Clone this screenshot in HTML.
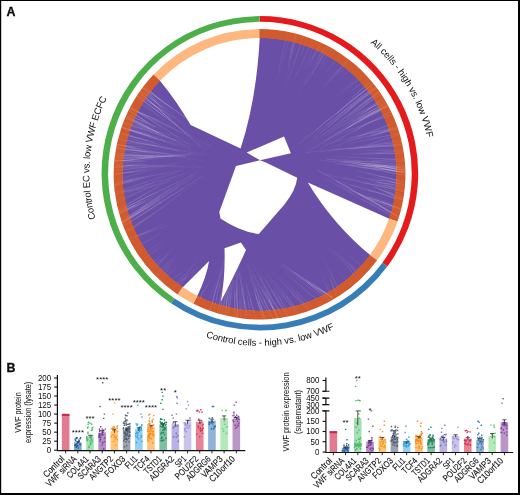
<!DOCTYPE html>
<html><head><meta charset="utf-8"><title>Figure</title>
<style>html,body{margin:0;padding:0;background:#fff}body{width:520px;height:495px;overflow:hidden}svg{display:block;will-change:transform}text{font-family:"Liberation Sans",sans-serif;fill:#0d0d0d}</style>
</head><body>
<svg width="520" height="495" viewBox="0 0 520 495">
<rect x="0" y="0" width="520" height="495" fill="#fff"/>
<g id="circos">
<ellipse cx="259.55" cy="174.3" rx="137.40" ry="136.85" fill="#6950a6"/>
<path d="M159.4 79.9 Q 176.8 101 190.7 125.1 L 240.6 148.4 Q 256.5 100 259.8 37.0 A137.90 137.35 0 0 0 159.4 79.9Z" fill="#fff"/>
<path d="M389.9 219.0 L 307.8 182.5 Q 333 224.5 370.7 255.6 A137.90 137.35 0 0 0 389.9 219.0Z" fill="#fff"/>
<path d="M182.0 287.9 Q 194 276 209.1 260.9 Q 206.5 277 196.9 296.7 A137.90 137.35 0 0 1 182.0 287.9Z" fill="#fff"/>
<path d="M224.5 248.2 L240.9 242.4 L246 250 Q 238 268 220.9 301.5 Q 225.5 275 224.5 248.2Z" fill="#fff"/>
<path d="M236 166 L260 160.2 L265.8 162.6 L297.2 177.7 Q296 190 284.4 204.4 L258.8 234 Q240 231.5 220.5 218.4 L219.3 211.9Z" fill="#fff"/>
<polygon points="246.7,152.6 284.0,136.5 290.9,153.3 260.0,160.2" fill="#fff"/>
<path d="M259.22 29.10A145.90 145.2 0 0 1 397.50 221.57L388.99 218.69A136.90 136.35 0 0 0 259.24 37.95Z" fill="#d05a2d"/>
<path d="M397.50 221.57A145.90 145.2 0 0 1 377.13 260.26L369.88 255.02A136.90 136.35 0 0 0 388.99 218.69Z" fill="#fdb77f"/>
<path d="M377.13 260.26A145.90 145.2 0 0 1 193.31 303.67L197.40 295.79A136.90 136.35 0 0 0 369.88 255.02Z" fill="#d05a2d"/>
<path d="M193.31 303.67A145.90 145.2 0 0 1 177.54 294.39L182.60 287.07A136.90 136.35 0 0 0 197.40 295.79Z" fill="#fdb77f"/>
<path d="M177.54 294.39A145.90 145.2 0 0 1 153.54 74.53L160.08 80.62A136.90 136.35 0 0 0 182.60 287.07Z" fill="#d05a2d"/>
<path d="M153.54 74.53A145.90 145.2 0 0 1 259.22 29.10L259.24 37.95A136.90 136.35 0 0 0 160.08 80.62Z" fill="#fdb77f"/>
<g stroke="#fff" fill="none">
<path d="M114.7 185.6Q118.7 184.6 122.8 183.6" stroke-opacity="0.15" stroke-width="0.5"/>
<path d="M122.8 183.6Q127.8 182.4 132.8 181.2" stroke-opacity="0.32" stroke-width="0.5"/>
<path d="M132.8 181.2Q136.1 180.4 139.4 179.6" stroke-opacity="0.19" stroke-width="0.5"/>
<path d="M139.4 179.6Q142.2 178.9 145.0 178.2" stroke-opacity="0.10" stroke-width="0.5"/>
<path d="M117.2 145.1Q121.4 145.3 125.5 145.6" stroke-opacity="0.13" stroke-width="0.45"/>
<path d="M125.5 145.6Q130.8 145.9 136.2 146.3" stroke-opacity="0.28" stroke-width="0.45"/>
<path d="M136.2 146.3Q139.7 146.5 143.3 146.7" stroke-opacity="0.17" stroke-width="0.45"/>
<path d="M143.3 146.7Q146.3 146.9 149.2 147.1" stroke-opacity="0.08" stroke-width="0.45"/>
<path d="M122.3 221.5Q125.9 219.4 129.4 217.3" stroke-opacity="0.09" stroke-width="0.35"/>
<path d="M129.4 217.3Q134.6 214.4 139.7 211.4" stroke-opacity="0.20" stroke-width="0.35"/>
<path d="M139.7 211.4Q143.1 209.4 146.5 207.5" stroke-opacity="0.12" stroke-width="0.35"/>
<path d="M146.5 207.5Q149.3 205.8 152.2 204.2" stroke-opacity="0.06" stroke-width="0.35"/>
<path d="M117.2 144.6Q121.3 145.5 125.3 146.4" stroke-opacity="0.20" stroke-width="0.5"/>
<path d="M125.3 146.4Q130.0 147.5 134.6 148.5" stroke-opacity="0.45" stroke-width="0.5"/>
<path d="M134.6 148.5Q137.7 149.2 140.8 149.9" stroke-opacity="0.27" stroke-width="0.5"/>
<path d="M140.8 149.9Q143.4 150.4 146.0 151.0" stroke-opacity="0.13" stroke-width="0.5"/>
<path d="M114.3 170.4Q118.4 170.0 122.5 169.6" stroke-opacity="0.17" stroke-width="0.35"/>
<path d="M122.5 169.6Q135.0 168.3 147.4 167.1" stroke-opacity="0.38" stroke-width="0.35"/>
<path d="M147.4 167.1Q155.7 166.2 164.0 165.4" stroke-opacity="0.23" stroke-width="0.35"/>
<path d="M164.0 165.4Q170.9 164.7 177.8 164.0" stroke-opacity="0.11" stroke-width="0.35"/>
<path d="M117.2 145.0Q121.3 145.4 125.5 145.8" stroke-opacity="0.06" stroke-width="0.35"/>
<path d="M125.5 145.8Q137.7 147.0 150.0 148.2" stroke-opacity="0.14" stroke-width="0.35"/>
<path d="M150.0 148.2Q158.1 149.0 166.3 149.8" stroke-opacity="0.09" stroke-width="0.35"/>
<path d="M166.3 149.8Q173.1 150.4 179.9 151.1" stroke-opacity="0.04" stroke-width="0.35"/>
<path d="M118.6 138.8Q122.7 139.6 126.7 140.4" stroke-opacity="0.13" stroke-width="0.65"/>
<path d="M126.7 140.4Q142.2 143.4 157.7 146.3" stroke-opacity="0.30" stroke-width="0.65"/>
<path d="M157.7 146.3Q168.0 148.3 178.4 150.3" stroke-opacity="0.18" stroke-width="0.65"/>
<path d="M178.4 150.3Q187.0 151.9 195.6 153.6" stroke-opacity="0.09" stroke-width="0.65"/>
<path d="M114.5 180.3Q118.5 179.2 122.5 178.1" stroke-opacity="0.07" stroke-width="0.5"/>
<path d="M122.5 178.1Q137.7 173.8 152.9 169.5" stroke-opacity="0.15" stroke-width="0.5"/>
<path d="M152.9 169.5Q163.1 166.7 173.2 163.9" stroke-opacity="0.09" stroke-width="0.5"/>
<path d="M173.2 163.9Q181.7 161.5 190.1 159.1" stroke-opacity="0.05" stroke-width="0.5"/>
<path d="M115.7 153.3Q119.8 153.6 124.0 154.0" stroke-opacity="0.22" stroke-width="0.35"/>
<path d="M124.0 154.0Q132.3 154.7 140.7 155.3" stroke-opacity="0.49" stroke-width="0.35"/>
<path d="M140.7 155.3Q146.3 155.8 151.9 156.2" stroke-opacity="0.30" stroke-width="0.35"/>
<path d="M151.9 156.2Q156.5 156.6 161.1 157.0" stroke-opacity="0.15" stroke-width="0.35"/>
<path d="M115.4 156.0Q119.5 156.0 123.7 155.9" stroke-opacity="0.13" stroke-width="0.35"/>
<path d="M123.7 155.9Q141.8 155.7 159.9 155.5" stroke-opacity="0.28" stroke-width="0.35"/>
<path d="M159.9 155.5Q172.0 155.3 184.1 155.2" stroke-opacity="0.17" stroke-width="0.35"/>
<path d="M184.1 155.2Q194.2 155.1 204.2 155.0" stroke-opacity="0.08" stroke-width="0.35"/>
<path d="M126.3 116.3Q130.0 118.2 133.7 120.1" stroke-opacity="0.17" stroke-width="0.65"/>
<path d="M133.7 120.1Q141.6 124.0 149.4 128.0" stroke-opacity="0.38" stroke-width="0.65"/>
<path d="M149.4 128.0Q154.6 130.6 159.8 133.3" stroke-opacity="0.23" stroke-width="0.65"/>
<path d="M159.8 133.3Q164.2 135.5 168.5 137.7" stroke-opacity="0.12" stroke-width="0.65"/>
<path d="M117.3 144.4Q121.3 145.2 125.4 146.0" stroke-opacity="0.14" stroke-width="0.35"/>
<path d="M125.4 146.0Q143.4 149.5 161.3 153.1" stroke-opacity="0.30" stroke-width="0.35"/>
<path d="M161.3 153.1Q173.3 155.4 185.3 157.8" stroke-opacity="0.18" stroke-width="0.35"/>
<path d="M185.3 157.8Q195.2 159.7 205.2 161.7" stroke-opacity="0.09" stroke-width="0.35"/>
<path d="M123.9 226.0Q127.4 223.8 130.9 221.5" stroke-opacity="0.19" stroke-width="0.5"/>
<path d="M130.9 221.5Q147.0 211.3 163.0 201.1" stroke-opacity="0.43" stroke-width="0.5"/>
<path d="M163.0 201.1Q173.7 194.3 184.4 187.5" stroke-opacity="0.26" stroke-width="0.5"/>
<path d="M184.4 187.5Q193.3 181.8 202.2 176.1" stroke-opacity="0.13" stroke-width="0.5"/>
<path d="M123.1 124.3Q127.1 125.5 131.1 126.6" stroke-opacity="0.11" stroke-width="0.35"/>
<path d="M131.1 126.6Q148.6 131.7 166.1 136.7" stroke-opacity="0.26" stroke-width="0.35"/>
<path d="M166.1 136.7Q177.8 140.0 189.5 143.4" stroke-opacity="0.15" stroke-width="0.35"/>
<path d="M189.5 143.4Q199.2 146.2 209.0 149.0" stroke-opacity="0.08" stroke-width="0.35"/>
<path d="M115.1 159.0Q119.2 158.8 123.4 158.6" stroke-opacity="0.12" stroke-width="0.65"/>
<path d="M123.4 158.6Q138.5 157.8 153.7 157.0" stroke-opacity="0.27" stroke-width="0.65"/>
<path d="M153.7 157.0Q163.8 156.5 173.9 156.0" stroke-opacity="0.16" stroke-width="0.65"/>
<path d="M173.9 156.0Q182.3 155.5 190.7 155.1" stroke-opacity="0.08" stroke-width="0.65"/>
<path d="M123.0 223.3Q126.5 221.0 129.9 218.8" stroke-opacity="0.19" stroke-width="0.5"/>
<path d="M129.9 218.8Q144.4 209.2 159.0 199.7" stroke-opacity="0.43" stroke-width="0.5"/>
<path d="M159.0 199.7Q168.6 193.4 178.3 187.0" stroke-opacity="0.26" stroke-width="0.5"/>
<path d="M178.3 187.0Q186.4 181.7 194.4 176.4" stroke-opacity="0.13" stroke-width="0.5"/>
<path d="M122.7 125.4Q126.6 126.7 130.6 128.1" stroke-opacity="0.09" stroke-width="0.35"/>
<path d="M130.6 128.1Q139.8 131.1 149.1 134.2" stroke-opacity="0.21" stroke-width="0.35"/>
<path d="M149.1 134.2Q155.3 136.3 161.5 138.3" stroke-opacity="0.12" stroke-width="0.35"/>
<path d="M161.5 138.3Q166.7 140.0 171.8 141.8" stroke-opacity="0.06" stroke-width="0.35"/>
<path d="M118.8 209.4Q122.4 207.3 126.0 205.2" stroke-opacity="0.15" stroke-width="0.5"/>
<path d="M126.0 205.2Q135.8 199.5 145.7 193.8" stroke-opacity="0.34" stroke-width="0.5"/>
<path d="M145.7 193.8Q152.2 190.0 158.8 186.2" stroke-opacity="0.21" stroke-width="0.5"/>
<path d="M158.8 186.2Q164.2 183.0 169.7 179.9" stroke-opacity="0.10" stroke-width="0.5"/>
<path d="M115.5 192.5Q119.4 191.1 123.3 189.8" stroke-opacity="0.11" stroke-width="0.45"/>
<path d="M123.3 189.8Q135.9 185.5 148.4 181.3" stroke-opacity="0.24" stroke-width="0.45"/>
<path d="M148.4 181.3Q156.8 178.4 165.1 175.6" stroke-opacity="0.14" stroke-width="0.45"/>
<path d="M165.1 175.6Q172.1 173.2 179.1 170.9" stroke-opacity="0.07" stroke-width="0.45"/>
<path d="M121.9 127.7Q125.8 129.0 129.8 130.3" stroke-opacity="0.06" stroke-width="0.65"/>
<path d="M129.8 130.3Q143.3 134.7 156.9 139.1" stroke-opacity="0.14" stroke-width="0.65"/>
<path d="M156.9 139.1Q165.9 142.0 174.9 144.9" stroke-opacity="0.08" stroke-width="0.65"/>
<path d="M174.9 144.9Q182.5 147.4 190.0 149.8" stroke-opacity="0.04" stroke-width="0.65"/>
<path d="M114.3 173.9Q118.4 173.3 122.5 172.7" stroke-opacity="0.09" stroke-width="0.45"/>
<path d="M122.5 172.7Q132.4 171.1 142.4 169.6" stroke-opacity="0.19" stroke-width="0.45"/>
<path d="M142.4 169.6Q149.0 168.6 155.7 167.5" stroke-opacity="0.12" stroke-width="0.45"/>
<path d="M155.7 167.5Q161.2 166.7 166.8 165.8" stroke-opacity="0.06" stroke-width="0.45"/>
<path d="M114.4 167.0Q118.5 166.7 122.7 166.4" stroke-opacity="0.15" stroke-width="0.35"/>
<path d="M122.7 166.4Q128.3 166.0 133.8 165.6" stroke-opacity="0.34" stroke-width="0.35"/>
<path d="M133.8 165.6Q137.6 165.4 141.3 165.1" stroke-opacity="0.20" stroke-width="0.35"/>
<path d="M141.3 165.1Q144.4 164.9 147.5 164.7" stroke-opacity="0.10" stroke-width="0.35"/>
<path d="M140.2 91.6Q143.6 94.0 147.0 96.3" stroke-opacity="0.12" stroke-width="0.5"/>
<path d="M147.0 96.3Q152.9 100.4 158.9 104.4" stroke-opacity="0.26" stroke-width="0.5"/>
<path d="M158.9 104.4Q162.8 107.2 166.8 109.9" stroke-opacity="0.16" stroke-width="0.5"/>
<path d="M166.8 109.9Q170.0 112.1 173.3 114.4" stroke-opacity="0.08" stroke-width="0.5"/>
<path d="M141.1 90.3Q144.3 92.9 147.6 95.5" stroke-opacity="0.14" stroke-width="0.65"/>
<path d="M147.6 95.5Q152.1 99.2 156.6 102.8" stroke-opacity="0.31" stroke-width="0.65"/>
<path d="M156.6 102.8Q159.6 105.2 162.6 107.7" stroke-opacity="0.18" stroke-width="0.65"/>
<path d="M162.6 107.7Q165.1 109.7 167.6 111.7" stroke-opacity="0.09" stroke-width="0.65"/>
<path d="M114.9 161.4Q119.0 161.0 123.1 160.5" stroke-opacity="0.18" stroke-width="0.65"/>
<path d="M123.1 160.5Q138.4 159.0 153.7 157.4" stroke-opacity="0.40" stroke-width="0.65"/>
<path d="M153.7 157.4Q163.9 156.4 174.1 155.4" stroke-opacity="0.24" stroke-width="0.65"/>
<path d="M174.1 155.4Q182.5 154.5 191.0 153.6" stroke-opacity="0.12" stroke-width="0.65"/>
<path d="M130.3 107.9Q134.1 109.7 137.8 111.5" stroke-opacity="0.14" stroke-width="0.45"/>
<path d="M137.8 111.5Q154.4 119.4 171.0 127.3" stroke-opacity="0.32" stroke-width="0.45"/>
<path d="M171.0 127.3Q182.1 132.6 193.1 137.9" stroke-opacity="0.19" stroke-width="0.45"/>
<path d="M193.1 137.9Q202.3 142.3 211.6 146.7" stroke-opacity="0.10" stroke-width="0.45"/>
<path d="M121.9 127.8Q125.8 129.0 129.8 130.3" stroke-opacity="0.16" stroke-width="0.35"/>
<path d="M129.8 130.3Q137.9 133.0 146.0 135.6" stroke-opacity="0.36" stroke-width="0.35"/>
<path d="M146.0 135.6Q151.4 137.4 156.8 139.2" stroke-opacity="0.22" stroke-width="0.35"/>
<path d="M156.8 139.2Q161.3 140.6 165.8 142.1" stroke-opacity="0.11" stroke-width="0.35"/>
<path d="M122.1 127.1Q126.1 128.3 130.0 129.5" stroke-opacity="0.19" stroke-width="0.5"/>
<path d="M130.0 129.5Q136.3 131.3 142.6 133.2" stroke-opacity="0.41" stroke-width="0.5"/>
<path d="M142.6 133.2Q146.8 134.5 151.0 135.7" stroke-opacity="0.25" stroke-width="0.5"/>
<path d="M151.0 135.7Q154.5 136.7 158.0 137.8" stroke-opacity="0.12" stroke-width="0.5"/>
<path d="M119.4 135.8Q123.4 136.8 127.4 137.9" stroke-opacity="0.09" stroke-width="0.45"/>
<path d="M127.4 137.9Q142.4 141.9 157.3 145.9" stroke-opacity="0.19" stroke-width="0.45"/>
<path d="M157.3 145.9Q167.3 148.6 177.3 151.2" stroke-opacity="0.12" stroke-width="0.45"/>
<path d="M177.3 151.2Q185.6 153.4 193.9 155.7" stroke-opacity="0.06" stroke-width="0.45"/>
<path d="M129.5 109.5Q133.3 111.2 137.1 112.9" stroke-opacity="0.11" stroke-width="0.35"/>
<path d="M137.1 112.9Q147.9 117.7 158.8 122.5" stroke-opacity="0.26" stroke-width="0.35"/>
<path d="M158.8 122.5Q166.0 125.7 173.2 128.8" stroke-opacity="0.15" stroke-width="0.35"/>
<path d="M173.2 128.8Q179.3 131.5 185.3 134.2" stroke-opacity="0.08" stroke-width="0.35"/>
<path d="M144.3 86.1Q147.4 88.8 150.6 91.4" stroke-opacity="0.16" stroke-width="0.5"/>
<path d="M150.6 91.4Q155.9 96.0 161.2 100.5" stroke-opacity="0.35" stroke-width="0.5"/>
<path d="M161.2 100.5Q164.7 103.5 168.2 106.5" stroke-opacity="0.21" stroke-width="0.5"/>
<path d="M168.2 106.5Q171.2 109.1 174.1 111.6" stroke-opacity="0.10" stroke-width="0.5"/>
<path d="M114.4 165.2Q118.6 165.3 122.7 165.4" stroke-opacity="0.12" stroke-width="0.45"/>
<path d="M122.7 165.4Q141.2 165.8 159.6 166.2" stroke-opacity="0.26" stroke-width="0.45"/>
<path d="M159.6 166.2Q171.9 166.5 184.2 166.8" stroke-opacity="0.16" stroke-width="0.45"/>
<path d="M184.2 166.8Q194.5 167.0 204.7 167.2" stroke-opacity="0.08" stroke-width="0.45"/>
<path d="M122.0 220.3Q125.5 218.0 128.9 215.7" stroke-opacity="0.22" stroke-width="0.35"/>
<path d="M128.9 215.7Q138.4 209.5 147.8 203.3" stroke-opacity="0.49" stroke-width="0.35"/>
<path d="M147.8 203.3Q154.1 199.1 160.4 195.0" stroke-opacity="0.30" stroke-width="0.35"/>
<path d="M160.4 195.0Q165.7 191.5 170.9 188.0" stroke-opacity="0.15" stroke-width="0.35"/>
<path d="M114.8 160.4Q119.0 160.5 123.1 160.7" stroke-opacity="0.17" stroke-width="0.65"/>
<path d="M123.1 160.7Q128.5 160.8 133.8 161.0" stroke-opacity="0.37" stroke-width="0.65"/>
<path d="M133.8 161.0Q137.3 161.1 140.9 161.3" stroke-opacity="0.22" stroke-width="0.65"/>
<path d="M140.9 161.3Q143.8 161.3 146.8 161.4" stroke-opacity="0.11" stroke-width="0.65"/>
<path d="M127.2 114.4Q131.0 116.0 134.8 117.7" stroke-opacity="0.19" stroke-width="0.5"/>
<path d="M134.8 117.7Q141.0 120.3 147.2 123.0" stroke-opacity="0.42" stroke-width="0.5"/>
<path d="M147.2 123.0Q151.3 124.8 155.4 126.6" stroke-opacity="0.25" stroke-width="0.5"/>
<path d="M155.4 126.6Q158.9 128.1 162.3 129.6" stroke-opacity="0.13" stroke-width="0.5"/>
<path d="M122.3 221.9Q126.0 219.9 129.6 217.9" stroke-opacity="0.18" stroke-width="0.35"/>
<path d="M129.6 217.9Q139.3 212.6 149.0 207.3" stroke-opacity="0.40" stroke-width="0.35"/>
<path d="M149.0 207.3Q155.4 203.8 161.9 200.2" stroke-opacity="0.24" stroke-width="0.35"/>
<path d="M161.9 200.2Q167.3 197.3 172.6 194.4" stroke-opacity="0.12" stroke-width="0.35"/>
<path d="M123.5 123.1Q127.5 124.3 131.5 125.5" stroke-opacity="0.21" stroke-width="0.45"/>
<path d="M131.5 125.5Q137.6 127.3 143.6 129.1" stroke-opacity="0.46" stroke-width="0.45"/>
<path d="M143.6 129.1Q147.7 130.3 151.7 131.5" stroke-opacity="0.28" stroke-width="0.45"/>
<path d="M151.7 131.5Q155.1 132.5 158.5 133.5" stroke-opacity="0.14" stroke-width="0.45"/>
<path d="M118.3 140.1Q122.4 140.8 126.5 141.5" stroke-opacity="0.08" stroke-width="0.45"/>
<path d="M126.5 141.5Q144.4 144.4 162.4 147.4" stroke-opacity="0.18" stroke-width="0.45"/>
<path d="M162.4 147.4Q174.3 149.3 186.3 151.3" stroke-opacity="0.11" stroke-width="0.45"/>
<path d="M186.3 151.3Q196.2 152.9 206.2 154.6" stroke-opacity="0.05" stroke-width="0.45"/>
<path d="M126.2 231.6Q129.6 229.3 133.0 226.9" stroke-opacity="0.18" stroke-width="0.45"/>
<path d="M133.0 226.9Q137.7 223.8 142.3 220.7" stroke-opacity="0.40" stroke-width="0.45"/>
<path d="M142.3 220.7Q145.4 218.6 148.5 216.5" stroke-opacity="0.24" stroke-width="0.45"/>
<path d="M148.5 216.5Q151.1 214.7 153.6 213.0" stroke-opacity="0.12" stroke-width="0.45"/>
<path d="M114.3 167.6Q118.5 167.5 122.6 167.4" stroke-opacity="0.10" stroke-width="0.5"/>
<path d="M122.6 167.4Q129.9 167.2 137.1 167.0" stroke-opacity="0.22" stroke-width="0.5"/>
<path d="M137.1 167.0Q141.9 166.9 146.7 166.8" stroke-opacity="0.13" stroke-width="0.5"/>
<path d="M146.7 166.8Q150.7 166.6 154.8 166.5" stroke-opacity="0.06" stroke-width="0.5"/>
<path d="M115.2 157.7Q119.3 157.6 123.5 157.5" stroke-opacity="0.20" stroke-width="0.35"/>
<path d="M123.5 157.5Q135.7 157.1 148.0 156.8" stroke-opacity="0.44" stroke-width="0.35"/>
<path d="M148.0 156.8Q156.2 156.6 164.3 156.3" stroke-opacity="0.26" stroke-width="0.35"/>
<path d="M164.3 156.3Q171.1 156.1 177.9 155.9" stroke-opacity="0.13" stroke-width="0.35"/>
<path d="M137.2 96.1Q140.5 98.6 143.8 101.1" stroke-opacity="0.21" stroke-width="0.65"/>
<path d="M143.8 101.1Q154.1 108.8 164.4 116.4" stroke-opacity="0.46" stroke-width="0.65"/>
<path d="M164.4 116.4Q171.3 121.6 178.2 126.7" stroke-opacity="0.28" stroke-width="0.65"/>
<path d="M178.2 126.7Q183.9 130.9 189.6 135.2" stroke-opacity="0.14" stroke-width="0.65"/>
<path d="M130.1 108.5Q133.9 110.1 137.7 111.7" stroke-opacity="0.14" stroke-width="0.65"/>
<path d="M137.7 111.7Q143.5 114.2 149.4 116.7" stroke-opacity="0.31" stroke-width="0.65"/>
<path d="M149.4 116.7Q153.3 118.3 157.2 119.9" stroke-opacity="0.19" stroke-width="0.65"/>
<path d="M157.2 119.9Q160.4 121.3 163.6 122.7" stroke-opacity="0.09" stroke-width="0.65"/>
<path d="M127.0 114.7Q130.7 116.6 134.4 118.4" stroke-opacity="0.08" stroke-width="0.35"/>
<path d="M134.4 118.4Q140.1 121.3 145.7 124.1" stroke-opacity="0.17" stroke-width="0.35"/>
<path d="M145.7 124.1Q149.5 126.0 153.2 127.9" stroke-opacity="0.10" stroke-width="0.35"/>
<path d="M153.2 127.9Q156.4 129.5 159.5 131.0" stroke-opacity="0.05" stroke-width="0.35"/>
<path d="M116.5 148.6Q120.6 149.0 124.7 149.4" stroke-opacity="0.19" stroke-width="0.35"/>
<path d="M124.7 149.4Q137.1 150.6 149.5 151.8" stroke-opacity="0.42" stroke-width="0.35"/>
<path d="M149.5 151.8Q157.7 152.6 166.0 153.3" stroke-opacity="0.25" stroke-width="0.35"/>
<path d="M166.0 153.3Q172.8 154.0 179.7 154.7" stroke-opacity="0.13" stroke-width="0.35"/>
<path d="M134.8 99.9Q138.3 102.2 141.7 104.5" stroke-opacity="0.07" stroke-width="0.65"/>
<path d="M141.7 104.5Q145.6 107.1 149.5 109.6" stroke-opacity="0.16" stroke-width="0.65"/>
<path d="M149.5 109.6Q152.2 111.4 154.8 113.1" stroke-opacity="0.09" stroke-width="0.65"/>
<path d="M154.8 113.1Q156.9 114.5 159.1 116.0" stroke-opacity="0.05" stroke-width="0.65"/>
<path d="M116.7 147.2Q120.8 147.9 124.9 148.6" stroke-opacity="0.16" stroke-width="0.45"/>
<path d="M124.9 148.6Q135.5 150.5 146.0 152.3" stroke-opacity="0.35" stroke-width="0.45"/>
<path d="M146.0 152.3Q153.1 153.5 160.1 154.7" stroke-opacity="0.21" stroke-width="0.45"/>
<path d="M160.1 154.7Q166.0 155.7 171.9 156.7" stroke-opacity="0.11" stroke-width="0.45"/>
<path d="M122.0 127.5Q125.9 128.7 129.9 130.0" stroke-opacity="0.21" stroke-width="0.5"/>
<path d="M129.9 130.0Q140.6 133.3 151.4 136.7" stroke-opacity="0.48" stroke-width="0.5"/>
<path d="M151.4 136.7Q158.5 139.0 165.7 141.2" stroke-opacity="0.29" stroke-width="0.5"/>
<path d="M165.7 141.2Q171.6 143.1 177.6 145.0" stroke-opacity="0.14" stroke-width="0.5"/>
<path d="M137.8 95.1Q141.3 97.3 144.8 99.5" stroke-opacity="0.13" stroke-width="0.65"/>
<path d="M144.8 99.5Q154.0 105.2 163.2 110.9" stroke-opacity="0.28" stroke-width="0.65"/>
<path d="M163.2 110.9Q169.3 114.6 175.5 118.4" stroke-opacity="0.17" stroke-width="0.65"/>
<path d="M175.5 118.4Q180.6 121.6 185.7 124.7" stroke-opacity="0.08" stroke-width="0.65"/>
<path d="M114.5 167.4Q118.6 166.8 122.7 166.2" stroke-opacity="0.17" stroke-width="0.35"/>
<path d="M122.7 166.2Q127.8 165.4 132.9 164.7" stroke-opacity="0.37" stroke-width="0.35"/>
<path d="M132.9 164.7Q136.3 164.2 139.7 163.7" stroke-opacity="0.22" stroke-width="0.35"/>
<path d="M139.7 163.7Q142.5 163.3 145.3 162.8" stroke-opacity="0.11" stroke-width="0.35"/>
<path d="M136.4 97.4Q139.6 100.1 142.8 102.7" stroke-opacity="0.08" stroke-width="0.45"/>
<path d="M142.8 102.7Q153.6 111.6 164.4 120.5" stroke-opacity="0.17" stroke-width="0.45"/>
<path d="M164.4 120.5Q171.6 126.5 178.8 132.4" stroke-opacity="0.10" stroke-width="0.45"/>
<path d="M178.8 132.4Q184.8 137.4 190.8 142.3" stroke-opacity="0.05" stroke-width="0.45"/>
<path d="M143.0 88.0Q145.8 91.0 148.6 94.1" stroke-opacity="0.14" stroke-width="0.45"/>
<path d="M148.6 94.1Q155.5 101.4 162.3 108.8" stroke-opacity="0.31" stroke-width="0.45"/>
<path d="M162.3 108.8Q166.9 113.7 171.4 118.6" stroke-opacity="0.18" stroke-width="0.45"/>
<path d="M171.4 118.6Q175.2 122.7 179.0 126.8" stroke-opacity="0.09" stroke-width="0.45"/>
<path d="M119.2 211.1Q122.8 209.2 126.5 207.3" stroke-opacity="0.09" stroke-width="0.5"/>
<path d="M126.5 207.3Q134.6 203.1 142.8 198.8" stroke-opacity="0.19" stroke-width="0.5"/>
<path d="M142.8 198.8Q148.2 196.0 153.6 193.2" stroke-opacity="0.12" stroke-width="0.5"/>
<path d="M153.6 193.2Q158.1 190.9 162.6 188.5" stroke-opacity="0.06" stroke-width="0.5"/>
<path d="M122.6 221.9Q126.0 219.5 129.4 217.1" stroke-opacity="0.17" stroke-width="0.65"/>
<path d="M129.4 217.1Q138.4 210.9 147.4 204.6" stroke-opacity="0.39" stroke-width="0.65"/>
<path d="M147.4 204.6Q153.4 200.5 159.4 196.3" stroke-opacity="0.23" stroke-width="0.65"/>
<path d="M159.4 196.3Q164.4 192.8 169.4 189.4" stroke-opacity="0.12" stroke-width="0.65"/>
<path d="M114.6 184.4Q118.7 183.5 122.7 182.5" stroke-opacity="0.22" stroke-width="0.45"/>
<path d="M122.7 182.5Q127.6 181.3 132.5 180.2" stroke-opacity="0.49" stroke-width="0.45"/>
<path d="M132.5 180.2Q135.7 179.4 139.0 178.6" stroke-opacity="0.30" stroke-width="0.45"/>
<path d="M139.0 178.6Q141.7 178.0 144.4 177.3" stroke-opacity="0.15" stroke-width="0.45"/>
<path d="M142.9 88.0Q145.9 90.8 149.0 93.6" stroke-opacity="0.19" stroke-width="0.5"/>
<path d="M149.0 93.6Q152.4 96.7 155.8 99.8" stroke-opacity="0.42" stroke-width="0.5"/>
<path d="M155.8 99.8Q158.1 101.9 160.4 104.0" stroke-opacity="0.25" stroke-width="0.5"/>
<path d="M160.4 104.0Q162.3 105.8 164.2 107.5" stroke-opacity="0.12" stroke-width="0.5"/>
<path d="M125.7 117.8Q129.4 119.5 133.2 121.3" stroke-opacity="0.22" stroke-width="0.65"/>
<path d="M133.2 121.3Q146.2 127.2 159.1 133.1" stroke-opacity="0.48" stroke-width="0.65"/>
<path d="M159.1 133.1Q167.7 137.1 176.3 141.1" stroke-opacity="0.29" stroke-width="0.65"/>
<path d="M176.3 141.1Q183.5 144.4 190.7 147.7" stroke-opacity="0.14" stroke-width="0.65"/>
<path d="M119.5 212.6Q123.2 210.8 127.0 209.0" stroke-opacity="0.07" stroke-width="0.35"/>
<path d="M127.0 209.0Q140.1 202.7 153.3 196.4" stroke-opacity="0.15" stroke-width="0.35"/>
<path d="M153.3 196.4Q162.1 192.2 170.9 188.0" stroke-opacity="0.09" stroke-width="0.35"/>
<path d="M170.9 188.0Q178.2 184.5 185.5 181.0" stroke-opacity="0.05" stroke-width="0.35"/>
<path d="M128.9 110.9Q132.4 113.1 135.9 115.4" stroke-opacity="0.06" stroke-width="0.35"/>
<path d="M135.9 115.4Q142.7 119.7 149.6 124.0" stroke-opacity="0.13" stroke-width="0.35"/>
<path d="M149.6 124.0Q154.1 126.9 158.7 129.8" stroke-opacity="0.08" stroke-width="0.35"/>
<path d="M158.7 129.8Q162.5 132.2 166.3 134.6" stroke-opacity="0.04" stroke-width="0.35"/>
<path d="M129.0 110.6Q132.5 112.8 136.0 115.1" stroke-opacity="0.20" stroke-width="0.65"/>
<path d="M136.0 115.1Q140.3 117.8 144.5 120.6" stroke-opacity="0.45" stroke-width="0.65"/>
<path d="M144.5 120.6Q147.3 122.4 150.2 124.2" stroke-opacity="0.27" stroke-width="0.65"/>
<path d="M150.2 124.2Q152.5 125.7 154.9 127.2" stroke-opacity="0.13" stroke-width="0.65"/>
<path d="M126.9 233.2Q130.3 230.7 133.6 228.3" stroke-opacity="0.16" stroke-width="0.35"/>
<path d="M133.6 228.3Q148.0 217.7 162.4 207.2" stroke-opacity="0.36" stroke-width="0.35"/>
<path d="M162.4 207.2Q172.0 200.2 181.6 193.1" stroke-opacity="0.21" stroke-width="0.35"/>
<path d="M181.6 193.1Q189.6 187.3 197.6 181.4" stroke-opacity="0.11" stroke-width="0.35"/>
<path d="M115.7 154.0Q119.9 153.9 124.0 153.7" stroke-opacity="0.06" stroke-width="0.45"/>
<path d="M124.0 153.7Q130.5 153.5 137.0 153.2" stroke-opacity="0.14" stroke-width="0.45"/>
<path d="M137.0 153.2Q141.3 153.1 145.6 152.9" stroke-opacity="0.08" stroke-width="0.45"/>
<path d="M145.6 152.9Q149.2 152.8 152.8 152.6" stroke-opacity="0.04" stroke-width="0.45"/>
<path d="M139.0 93.3Q142.3 95.8 145.6 98.3" stroke-opacity="0.13" stroke-width="0.45"/>
<path d="M145.6 98.3Q151.3 102.7 157.0 107.0" stroke-opacity="0.29" stroke-width="0.45"/>
<path d="M157.0 107.0Q160.8 109.9 164.6 112.8" stroke-opacity="0.17" stroke-width="0.45"/>
<path d="M164.6 112.8Q167.7 115.2 170.9 117.6" stroke-opacity="0.09" stroke-width="0.45"/>
<path d="M115.4 193.3Q119.5 192.4 123.5 191.5" stroke-opacity="0.06" stroke-width="0.45"/>
<path d="M123.5 191.5Q128.0 190.5 132.5 189.5" stroke-opacity="0.13" stroke-width="0.45"/>
<path d="M132.5 189.5Q135.5 188.8 138.5 188.1" stroke-opacity="0.08" stroke-width="0.45"/>
<path d="M138.5 188.1Q141.0 187.5 143.5 187.0" stroke-opacity="0.04" stroke-width="0.45"/>
<path d="M115.4 155.5Q119.6 155.5 123.7 155.6" stroke-opacity="0.17" stroke-width="0.65"/>
<path d="M123.7 155.6Q137.7 155.8 151.7 156.0" stroke-opacity="0.37" stroke-width="0.65"/>
<path d="M151.7 156.0Q161.0 156.1 170.3 156.3" stroke-opacity="0.22" stroke-width="0.65"/>
<path d="M170.3 156.3Q178.1 156.4 185.8 156.5" stroke-opacity="0.11" stroke-width="0.65"/>
<path d="M116.3 149.7Q120.4 150.3 124.5 150.9" stroke-opacity="0.09" stroke-width="0.45"/>
<path d="M124.5 150.9Q133.1 152.3 141.6 153.6" stroke-opacity="0.20" stroke-width="0.45"/>
<path d="M141.6 153.6Q147.4 154.5 153.1 155.4" stroke-opacity="0.12" stroke-width="0.45"/>
<path d="M153.1 155.4Q157.9 156.2 162.6 156.9" stroke-opacity="0.06" stroke-width="0.45"/>
<path d="M114.4 182.3Q118.5 181.6 122.6 180.9" stroke-opacity="0.12" stroke-width="0.5"/>
<path d="M122.6 180.9Q136.0 178.5 149.5 176.1" stroke-opacity="0.27" stroke-width="0.5"/>
<path d="M149.5 176.1Q158.4 174.5 167.4 173.0" stroke-opacity="0.16" stroke-width="0.5"/>
<path d="M167.4 173.0Q174.8 171.6 182.3 170.3" stroke-opacity="0.08" stroke-width="0.5"/>
<path d="M143.1 87.6Q146.5 90.0 149.9 92.4" stroke-opacity="0.20" stroke-width="0.65"/>
<path d="M149.9 92.4Q160.9 100.2 171.9 108.0" stroke-opacity="0.45" stroke-width="0.65"/>
<path d="M171.9 108.0Q179.2 113.1 186.5 118.3" stroke-opacity="0.27" stroke-width="0.65"/>
<path d="M186.5 118.3Q192.6 122.7 198.7 127.0" stroke-opacity="0.14" stroke-width="0.65"/>
<path d="M119.0 210.7Q122.7 208.9 126.5 207.1" stroke-opacity="0.17" stroke-width="0.5"/>
<path d="M126.5 207.1Q141.9 199.6 157.4 192.1" stroke-opacity="0.37" stroke-width="0.5"/>
<path d="M157.4 192.1Q167.7 187.1 178.0 182.1" stroke-opacity="0.22" stroke-width="0.5"/>
<path d="M178.0 182.1Q186.6 178.0 195.2 173.8" stroke-opacity="0.11" stroke-width="0.5"/>
<path d="M117.7 142.8Q121.9 143.1 126.0 143.3" stroke-opacity="0.10" stroke-width="0.35"/>
<path d="M126.0 143.3Q132.9 143.7 139.7 144.1" stroke-opacity="0.22" stroke-width="0.35"/>
<path d="M139.7 144.1Q144.3 144.3 148.8 144.6" stroke-opacity="0.13" stroke-width="0.35"/>
<path d="M148.8 144.6Q152.6 144.8 156.4 145.0" stroke-opacity="0.07" stroke-width="0.35"/>
<path d="M115.6 194.4Q119.6 193.5 123.7 192.5" stroke-opacity="0.10" stroke-width="0.5"/>
<path d="M123.7 192.5Q135.7 189.8 147.6 187.0" stroke-opacity="0.21" stroke-width="0.5"/>
<path d="M147.6 187.0Q155.6 185.1 163.6 183.2" stroke-opacity="0.13" stroke-width="0.5"/>
<path d="M163.6 183.2Q170.3 181.7 176.9 180.1" stroke-opacity="0.06" stroke-width="0.5"/>
<path d="M117.3 202.8Q121.0 201.0 124.7 199.2" stroke-opacity="0.10" stroke-width="0.45"/>
<path d="M124.7 199.2Q129.5 196.8 134.3 194.5" stroke-opacity="0.23" stroke-width="0.45"/>
<path d="M134.3 194.5Q137.5 192.9 140.7 191.4" stroke-opacity="0.14" stroke-width="0.45"/>
<path d="M140.7 191.4Q143.3 190.1 146.0 188.8" stroke-opacity="0.07" stroke-width="0.45"/>
<path d="M116.4 198.1Q120.2 196.4 124.0 194.7" stroke-opacity="0.08" stroke-width="0.35"/>
<path d="M124.0 194.7Q139.0 188.2 154.0 181.7" stroke-opacity="0.17" stroke-width="0.35"/>
<path d="M154.0 181.7Q164.0 177.4 174.0 173.0" stroke-opacity="0.10" stroke-width="0.35"/>
<path d="M174.0 173.0Q182.4 169.4 190.7 165.8" stroke-opacity="0.05" stroke-width="0.35"/>
<path d="M114.2 174.4Q118.3 173.8 122.5 173.3" stroke-opacity="0.22" stroke-width="0.45"/>
<path d="M122.5 173.3Q127.7 172.6 133.0 171.9" stroke-opacity="0.48" stroke-width="0.45"/>
<path d="M133.0 171.9Q136.5 171.4 140.0 170.9" stroke-opacity="0.29" stroke-width="0.45"/>
<path d="M140.0 170.9Q143.0 170.6 145.9 170.2" stroke-opacity="0.15" stroke-width="0.45"/>
<path d="M120.4 132.4Q124.3 133.7 128.3 134.9" stroke-opacity="0.11" stroke-width="0.65"/>
<path d="M128.3 134.9Q137.7 137.9 147.2 140.8" stroke-opacity="0.24" stroke-width="0.65"/>
<path d="M147.2 140.8Q153.5 142.8 159.8 144.8" stroke-opacity="0.15" stroke-width="0.65"/>
<path d="M159.8 144.8Q165.1 146.4 170.4 148.1" stroke-opacity="0.07" stroke-width="0.65"/>
<path d="M119.5 212.6Q123.2 210.8 127.0 209.0" stroke-opacity="0.20" stroke-width="0.65"/>
<path d="M127.0 209.0Q131.2 207.0 135.4 204.9" stroke-opacity="0.44" stroke-width="0.65"/>
<path d="M135.4 204.9Q138.3 203.6 141.1 202.2" stroke-opacity="0.26" stroke-width="0.65"/>
<path d="M141.1 202.2Q143.4 201.0 145.8 199.9" stroke-opacity="0.13" stroke-width="0.65"/>
<path d="M124.0 122.1Q128.0 123.2 132.0 124.3" stroke-opacity="0.14" stroke-width="0.35"/>
<path d="M132.0 124.3Q143.5 127.4 155.0 130.6" stroke-opacity="0.31" stroke-width="0.35"/>
<path d="M155.0 130.6Q162.7 132.7 170.4 134.8" stroke-opacity="0.19" stroke-width="0.35"/>
<path d="M170.4 134.8Q176.8 136.6 183.2 138.4" stroke-opacity="0.09" stroke-width="0.35"/>
<path d="M130.6 107.4Q134.1 109.6 137.7 111.8" stroke-opacity="0.17" stroke-width="0.45"/>
<path d="M137.7 111.8Q149.8 119.4 161.9 127.1" stroke-opacity="0.38" stroke-width="0.45"/>
<path d="M161.9 127.1Q170.0 132.2 178.1 137.2" stroke-opacity="0.23" stroke-width="0.45"/>
<path d="M178.1 137.2Q184.9 141.5 191.6 145.7" stroke-opacity="0.12" stroke-width="0.45"/>
<path d="M122.9 222.9Q126.3 220.5 129.7 218.1" stroke-opacity="0.12" stroke-width="0.65"/>
<path d="M129.7 218.1Q144.9 207.6 160.2 197.1" stroke-opacity="0.26" stroke-width="0.65"/>
<path d="M160.2 197.1Q170.3 190.1 180.5 183.1" stroke-opacity="0.16" stroke-width="0.65"/>
<path d="M180.5 183.1Q189.0 177.2 197.4 171.4" stroke-opacity="0.08" stroke-width="0.65"/>
<path d="M116.6 148.2Q120.7 148.6 124.8 149.1" stroke-opacity="0.14" stroke-width="0.35"/>
<path d="M124.8 149.1Q139.0 150.7 153.2 152.4" stroke-opacity="0.31" stroke-width="0.35"/>
<path d="M153.2 152.4Q162.7 153.5 172.2 154.5" stroke-opacity="0.18" stroke-width="0.35"/>
<path d="M172.2 154.5Q180.1 155.4 188.0 156.3" stroke-opacity="0.09" stroke-width="0.35"/>
<path d="M114.5 163.7Q118.7 163.9 122.8 164.0" stroke-opacity="0.07" stroke-width="0.35"/>
<path d="M122.8 164.0Q140.4 164.5 158.0 165.0" stroke-opacity="0.15" stroke-width="0.35"/>
<path d="M158.0 165.0Q169.7 165.4 181.4 165.7" stroke-opacity="0.09" stroke-width="0.35"/>
<path d="M181.4 165.7Q191.2 166.0 201.0 166.3" stroke-opacity="0.05" stroke-width="0.35"/>
<path d="M125.1 119.1Q128.9 120.9 132.6 122.6" stroke-opacity="0.09" stroke-width="0.45"/>
<path d="M132.6 122.6Q147.9 129.7 163.1 136.9" stroke-opacity="0.21" stroke-width="0.45"/>
<path d="M163.1 136.9Q173.2 141.6 183.4 146.4" stroke-opacity="0.13" stroke-width="0.45"/>
<path d="M183.4 146.4Q191.8 150.3 200.3 154.3" stroke-opacity="0.06" stroke-width="0.45"/>
<path d="M116.7 200.4Q120.6 198.8 124.4 197.3" stroke-opacity="0.07" stroke-width="0.5"/>
<path d="M124.4 197.3Q140.0 191.1 155.6 184.9" stroke-opacity="0.15" stroke-width="0.5"/>
<path d="M155.6 184.9Q166.0 180.7 176.4 176.6" stroke-opacity="0.09" stroke-width="0.5"/>
<path d="M176.4 176.6Q185.1 173.1 193.8 169.7" stroke-opacity="0.04" stroke-width="0.5"/>
<path d="M126.3 116.3Q130.1 118.0 133.9 119.7" stroke-opacity="0.08" stroke-width="0.5"/>
<path d="M133.9 119.7Q138.6 121.9 143.4 124.1" stroke-opacity="0.18" stroke-width="0.5"/>
<path d="M143.4 124.1Q146.5 125.5 149.7 126.9" stroke-opacity="0.11" stroke-width="0.5"/>
<path d="M149.7 126.9Q152.3 128.1 155.0 129.3" stroke-opacity="0.05" stroke-width="0.5"/>
<path d="M120.0 133.7Q124.0 134.7 128.0 135.8" stroke-opacity="0.14" stroke-width="0.65"/>
<path d="M128.0 135.8Q133.9 137.2 139.8 138.7" stroke-opacity="0.30" stroke-width="0.65"/>
<path d="M139.8 138.7Q143.7 139.7 147.6 140.7" stroke-opacity="0.18" stroke-width="0.65"/>
<path d="M147.6 140.7Q150.9 141.5 154.1 142.3" stroke-opacity="0.09" stroke-width="0.65"/>
<path d="M115.6 194.1Q119.6 192.9 123.6 191.7" stroke-opacity="0.10" stroke-width="0.5"/>
<path d="M123.6 191.7Q137.2 187.7 150.9 183.7" stroke-opacity="0.23" stroke-width="0.5"/>
<path d="M150.9 183.7Q160.0 181.0 169.1 178.4" stroke-opacity="0.14" stroke-width="0.5"/>
<path d="M169.1 178.4Q176.7 176.1 184.3 173.9" stroke-opacity="0.07" stroke-width="0.5"/>
<path d="M114.7 163.9Q118.8 163.4 122.9 162.9" stroke-opacity="0.09" stroke-width="0.35"/>
<path d="M122.9 162.9Q140.3 160.6 157.7 158.4" stroke-opacity="0.20" stroke-width="0.35"/>
<path d="M157.7 158.4Q169.3 157.0 180.9 155.5" stroke-opacity="0.12" stroke-width="0.35"/>
<path d="M180.9 155.5Q190.5 154.3 200.2 153.1" stroke-opacity="0.06" stroke-width="0.35"/>
<path d="M139.8 92.3Q142.9 95.1 146.0 97.8" stroke-opacity="0.22" stroke-width="0.65"/>
<path d="M146.0 97.8Q158.2 108.8 170.4 119.7" stroke-opacity="0.49" stroke-width="0.65"/>
<path d="M170.4 119.7Q178.6 127.0 186.7 134.3" stroke-opacity="0.29" stroke-width="0.65"/>
<path d="M186.7 134.3Q193.5 140.4 200.3 146.4" stroke-opacity="0.15" stroke-width="0.65"/>
<path d="M145.4 84.8Q148.2 87.9 151.0 90.9" stroke-opacity="0.07" stroke-width="0.35"/>
<path d="M151.0 90.9Q163.1 104.3 175.3 117.6" stroke-opacity="0.15" stroke-width="0.35"/>
<path d="M175.3 117.6Q183.5 126.6 191.6 135.5" stroke-opacity="0.09" stroke-width="0.35"/>
<path d="M191.6 135.5Q198.3 142.9 205.1 150.3" stroke-opacity="0.04" stroke-width="0.35"/>
<path d="M119.7 213.6Q123.5 211.8 127.3 210.1" stroke-opacity="0.19" stroke-width="0.5"/>
<path d="M127.3 210.1Q132.8 207.6 138.3 205.1" stroke-opacity="0.43" stroke-width="0.5"/>
<path d="M138.3 205.1Q142.0 203.5 145.6 201.8" stroke-opacity="0.26" stroke-width="0.5"/>
<path d="M145.6 201.8Q148.7 200.4 151.7 199.0" stroke-opacity="0.13" stroke-width="0.5"/>
<path d="M129.5 239.0Q133.3 237.4 137.1 235.7" stroke-opacity="0.06" stroke-width="0.35"/>
<path d="M137.1 235.7Q144.7 232.3 152.3 229.0" stroke-opacity="0.13" stroke-width="0.35"/>
<path d="M152.3 229.0Q157.4 226.8 162.4 224.5" stroke-opacity="0.08" stroke-width="0.35"/>
<path d="M162.4 224.5Q166.7 222.7 170.9 220.8" stroke-opacity="0.04" stroke-width="0.35"/>
<path d="M155.3 275.2Q158.3 272.4 161.2 269.5" stroke-opacity="0.07" stroke-width="0.65"/>
<path d="M161.2 269.5Q164.8 266.0 168.4 262.5" stroke-opacity="0.16" stroke-width="0.65"/>
<path d="M168.4 262.5Q170.8 260.2 173.2 257.9" stroke-opacity="0.10" stroke-width="0.65"/>
<path d="M173.2 257.9Q175.2 256.0 177.1 254.0" stroke-opacity="0.05" stroke-width="0.65"/>
<path d="M147.9 267.1Q151.0 264.3 154.1 261.6" stroke-opacity="0.07" stroke-width="0.65"/>
<path d="M154.1 261.6Q155.8 260.1 157.5 258.6" stroke-opacity="0.17" stroke-width="0.65"/>
<path d="M157.5 258.6Q158.7 257.6 159.8 256.7" stroke-opacity="0.10" stroke-width="0.65"/>
<path d="M159.8 256.7Q160.8 255.8 161.7 255.0" stroke-opacity="0.05" stroke-width="0.65"/>
<path d="M157.0 277.0Q159.9 274.0 162.8 271.1" stroke-opacity="0.05" stroke-width="0.5"/>
<path d="M162.8 271.1Q168.6 265.1 174.5 259.2" stroke-opacity="0.10" stroke-width="0.5"/>
<path d="M174.5 259.2Q178.4 255.2 182.3 251.2" stroke-opacity="0.06" stroke-width="0.5"/>
<path d="M182.3 251.2Q185.5 247.9 188.8 244.6" stroke-opacity="0.03" stroke-width="0.5"/>
<path d="M160.0 279.8Q162.5 276.5 165.1 273.3" stroke-opacity="0.09" stroke-width="0.5"/>
<path d="M165.1 273.3Q166.8 271.1 168.5 268.9" stroke-opacity="0.19" stroke-width="0.5"/>
<path d="M168.5 268.9Q169.6 267.4 170.8 266.0" stroke-opacity="0.11" stroke-width="0.5"/>
<path d="M170.8 266.0Q171.7 264.8 172.7 263.6" stroke-opacity="0.06" stroke-width="0.5"/>
<path d="M130.7 241.4Q134.3 239.4 137.9 237.3" stroke-opacity="0.07" stroke-width="0.45"/>
<path d="M137.9 237.3Q143.8 234.0 149.6 230.7" stroke-opacity="0.15" stroke-width="0.45"/>
<path d="M149.6 230.7Q153.5 228.5 157.4 226.3" stroke-opacity="0.09" stroke-width="0.45"/>
<path d="M157.4 226.3Q160.7 224.4 163.9 222.6" stroke-opacity="0.04" stroke-width="0.45"/>
<path d="M152.2 272.0Q155.0 268.8 157.7 265.7" stroke-opacity="0.05" stroke-width="0.65"/>
<path d="M157.7 265.7Q160.0 263.0 162.3 260.4" stroke-opacity="0.11" stroke-width="0.65"/>
<path d="M162.3 260.4Q163.9 258.6 165.4 256.8" stroke-opacity="0.07" stroke-width="0.65"/>
<path d="M165.4 256.8Q166.7 255.3 168.0 253.9" stroke-opacity="0.03" stroke-width="0.65"/>
<path d="M129.3 238.5Q133.2 237.1 137.2 235.8" stroke-opacity="0.09" stroke-width="0.45"/>
<path d="M137.2 235.8Q145.1 233.1 153.1 230.5" stroke-opacity="0.19" stroke-width="0.45"/>
<path d="M153.1 230.5Q158.4 228.7 163.7 226.9" stroke-opacity="0.12" stroke-width="0.45"/>
<path d="M163.7 226.9Q168.2 225.4 172.6 223.9" stroke-opacity="0.06" stroke-width="0.45"/>
<path d="M134.4 248.0Q138.0 246.0 141.7 244.1" stroke-opacity="0.07" stroke-width="0.5"/>
<path d="M141.7 244.1Q146.4 241.6 151.0 239.1" stroke-opacity="0.17" stroke-width="0.5"/>
<path d="M151.0 239.1Q154.1 237.4 157.3 235.7" stroke-opacity="0.10" stroke-width="0.5"/>
<path d="M157.3 235.7Q159.8 234.4 162.4 233.0" stroke-opacity="0.05" stroke-width="0.5"/>
<path d="M142.2 259.8Q145.7 257.5 149.1 255.2" stroke-opacity="0.05" stroke-width="0.5"/>
<path d="M149.1 255.2Q152.0 253.3 154.8 251.5" stroke-opacity="0.12" stroke-width="0.5"/>
<path d="M154.8 251.5Q156.7 250.2 158.6 249.0" stroke-opacity="0.07" stroke-width="0.5"/>
<path d="M158.6 249.0Q160.1 247.9 161.7 246.9" stroke-opacity="0.04" stroke-width="0.5"/>
<path d="M149.3 268.7Q152.6 266.1 155.8 263.6" stroke-opacity="0.07" stroke-width="0.5"/>
<path d="M155.8 263.6Q159.0 261.2 162.2 258.7" stroke-opacity="0.15" stroke-width="0.5"/>
<path d="M162.2 258.7Q164.3 257.1 166.4 255.5" stroke-opacity="0.09" stroke-width="0.5"/>
<path d="M166.4 255.5Q168.2 254.1 170.0 252.8" stroke-opacity="0.05" stroke-width="0.5"/>
<path d="M142.8 260.7Q146.0 258.0 149.2 255.3" stroke-opacity="0.03" stroke-width="0.65"/>
<path d="M149.2 255.3Q154.3 251.1 159.3 246.9" stroke-opacity="0.07" stroke-width="0.65"/>
<path d="M159.3 246.9Q162.7 244.1 166.0 241.2" stroke-opacity="0.04" stroke-width="0.65"/>
<path d="M166.0 241.2Q168.9 238.9 171.7 236.5" stroke-opacity="0.02" stroke-width="0.65"/>
<path d="M140.3 257.2Q143.6 254.7 147.0 252.2" stroke-opacity="0.05" stroke-width="0.45"/>
<path d="M147.0 252.2Q152.8 247.8 158.7 243.3" stroke-opacity="0.12" stroke-width="0.45"/>
<path d="M158.7 243.3Q162.7 240.4 166.6 237.4" stroke-opacity="0.07" stroke-width="0.45"/>
<path d="M166.6 237.4Q169.9 235.0 173.1 232.5" stroke-opacity="0.04" stroke-width="0.45"/>
<path d="M152.5 272.3Q155.2 269.1 157.9 265.9" stroke-opacity="0.05" stroke-width="0.45"/>
<path d="M157.9 265.9Q160.7 262.6 163.6 259.2" stroke-opacity="0.11" stroke-width="0.45"/>
<path d="M163.6 259.2Q165.5 257.0 167.4 254.7" stroke-opacity="0.07" stroke-width="0.45"/>
<path d="M167.4 254.7Q169.0 252.8 170.5 251.0" stroke-opacity="0.03" stroke-width="0.45"/>
<path d="M129.3 238.7Q133.2 237.2 137.1 235.7" stroke-opacity="0.06" stroke-width="0.65"/>
<path d="M137.1 235.7Q141.8 233.8 146.5 232.0" stroke-opacity="0.13" stroke-width="0.65"/>
<path d="M146.5 232.0Q149.6 230.8 152.7 229.5" stroke-opacity="0.08" stroke-width="0.65"/>
<path d="M152.7 229.5Q155.3 228.5 158.0 227.5" stroke-opacity="0.04" stroke-width="0.65"/>
<path d="M150.9 270.5Q153.9 267.7 156.9 264.8" stroke-opacity="0.05" stroke-width="0.45"/>
<path d="M156.9 264.8Q161.3 260.6 165.8 256.4" stroke-opacity="0.11" stroke-width="0.45"/>
<path d="M165.8 256.4Q168.7 253.6 171.7 250.8" stroke-opacity="0.07" stroke-width="0.45"/>
<path d="M171.7 250.8Q174.2 248.4 176.7 246.1" stroke-opacity="0.03" stroke-width="0.45"/>
<path d="M378.9 91.6Q375.5 94.0 372.4 96.7" stroke-opacity="0.13" stroke-width="0.5"/>
<path d="M372.4 96.7Q360.2 104.9 349.1 114.6" stroke-opacity="0.28" stroke-width="0.5"/>
<path d="M349.1 114.6Q341.0 120.1 333.6 126.5" stroke-opacity="0.17" stroke-width="0.5"/>
<path d="M333.6 126.5Q326.8 131.1 320.6 136.4" stroke-opacity="0.09" stroke-width="0.5"/>
<path d="M402.5 199.6Q398.8 197.7 394.9 196.2" stroke-opacity="0.18" stroke-width="0.65"/>
<path d="M394.9 196.2Q390.4 193.9 385.7 192.1" stroke-opacity="0.39" stroke-width="0.65"/>
<path d="M385.7 192.1Q382.8 190.6 379.6 189.4" stroke-opacity="0.23" stroke-width="0.65"/>
<path d="M379.6 189.4Q377.2 188.1 374.6 187.1" stroke-opacity="0.12" stroke-width="0.65"/>
<path d="M398.4 216.4Q395.0 214.1 391.2 212.3" stroke-opacity="0.21" stroke-width="0.65"/>
<path d="M391.2 212.3Q375.2 201.8 358.0 193.3" stroke-opacity="0.47" stroke-width="0.65"/>
<path d="M358.0 193.3Q347.3 186.3 335.8 180.6" stroke-opacity="0.28" stroke-width="0.65"/>
<path d="M335.8 180.6Q326.9 174.8 317.3 170.1" stroke-opacity="0.14" stroke-width="0.65"/>
<path d="M398.4 216.8Q394.8 214.6 391.1 212.8" stroke-opacity="0.14" stroke-width="0.35"/>
<path d="M391.1 212.8Q385.2 209.1 378.9 206.2" stroke-opacity="0.32" stroke-width="0.35"/>
<path d="M378.9 206.2Q375.0 203.7 370.8 201.8" stroke-opacity="0.19" stroke-width="0.35"/>
<path d="M370.8 201.8Q367.5 199.7 364.0 198.1" stroke-opacity="0.10" stroke-width="0.35"/>
<path d="M399.8 212.1Q396.1 210.2 392.2 208.7" stroke-opacity="0.13" stroke-width="0.35"/>
<path d="M392.2 208.7Q377.5 201.1 362.0 195.3" stroke-opacity="0.29" stroke-width="0.35"/>
<path d="M362.0 195.3Q352.2 190.2 341.8 186.3" stroke-opacity="0.18" stroke-width="0.35"/>
<path d="M341.8 186.3Q333.7 182.0 325.0 178.8" stroke-opacity="0.09" stroke-width="0.35"/>
<path d="M371.0 81.3Q367.7 83.8 364.7 86.7" stroke-opacity="0.18" stroke-width="0.45"/>
<path d="M364.7 86.7Q360.6 89.8 357.0 93.3" stroke-opacity="0.39" stroke-width="0.45"/>
<path d="M357.0 93.3Q354.3 95.4 351.8 97.7" stroke-opacity="0.24" stroke-width="0.45"/>
<path d="M351.8 97.7Q349.6 99.4 347.5 101.4" stroke-opacity="0.12" stroke-width="0.45"/>
<path d="M404.7 166.1Q400.5 165.6 396.4 165.6" stroke-opacity="0.07" stroke-width="0.5"/>
<path d="M396.4 165.6Q379.9 163.6 363.4 163.5" stroke-opacity="0.16" stroke-width="0.5"/>
<path d="M363.4 163.5Q352.4 162.2 341.4 162.2" stroke-opacity="0.09" stroke-width="0.5"/>
<path d="M341.4 162.2Q332.2 161.1 323.0 161.1" stroke-opacity="0.05" stroke-width="0.5"/>
<path d="M403.0 151.1Q398.9 151.1 394.7 151.6" stroke-opacity="0.16" stroke-width="0.35"/>
<path d="M394.7 151.6Q386.7 151.5 378.7 152.5" stroke-opacity="0.35" stroke-width="0.35"/>
<path d="M378.7 152.5Q373.4 152.5 368.0 153.1" stroke-opacity="0.21" stroke-width="0.35"/>
<path d="M368.0 153.1Q363.6 153.1 359.1 153.6" stroke-opacity="0.10" stroke-width="0.35"/>
<path d="M403.3 153.2Q399.2 153.0 395.0 153.3" stroke-opacity="0.20" stroke-width="0.45"/>
<path d="M395.0 153.3Q385.5 153.0 376.1 153.8" stroke-opacity="0.44" stroke-width="0.45"/>
<path d="M376.1 153.8Q369.7 153.5 363.4 154.0" stroke-opacity="0.26" stroke-width="0.45"/>
<path d="M363.4 154.0Q358.2 153.9 352.9 154.3" stroke-opacity="0.13" stroke-width="0.45"/>
<path d="M401.7 144.2Q397.5 144.3 393.4 144.9" stroke-opacity="0.17" stroke-width="0.5"/>
<path d="M393.4 144.9Q373.8 145.5 354.3 148.4" stroke-opacity="0.39" stroke-width="0.5"/>
<path d="M354.3 148.4Q341.2 148.7 328.3 150.7" stroke-opacity="0.23" stroke-width="0.5"/>
<path d="M328.3 150.7Q317.3 151.0 306.5 152.6" stroke-opacity="0.12" stroke-width="0.5"/>
<path d="M375.7 87.2Q372.4 89.7 369.3 92.5" stroke-opacity="0.07" stroke-width="0.45"/>
<path d="M369.3 92.5Q357.5 101.2 346.7 111.3" stroke-opacity="0.15" stroke-width="0.45"/>
<path d="M346.7 111.3Q338.8 117.1 331.7 123.8" stroke-opacity="0.09" stroke-width="0.45"/>
<path d="M331.7 123.8Q325.1 128.7 319.1 134.3" stroke-opacity="0.05" stroke-width="0.45"/>
<path d="M404.8 172.5Q400.8 171.6 396.6 171.2" stroke-opacity="0.11" stroke-width="0.65"/>
<path d="M396.6 171.2Q391.7 170.1 386.7 169.6" stroke-opacity="0.25" stroke-width="0.65"/>
<path d="M386.7 169.6Q383.4 168.9 380.0 168.5" stroke-opacity="0.15" stroke-width="0.65"/>
<path d="M380.0 168.5Q377.3 167.9 374.5 167.6" stroke-opacity="0.07" stroke-width="0.65"/>
<path d="M397.3 128.3Q393.2 128.9 389.2 129.9" stroke-opacity="0.20" stroke-width="0.35"/>
<path d="M389.2 129.9Q380.2 131.0 371.3 133.3" stroke-opacity="0.44" stroke-width="0.35"/>
<path d="M371.3 133.3Q365.3 134.1 359.4 135.6" stroke-opacity="0.26" stroke-width="0.35"/>
<path d="M359.4 135.6Q354.4 136.2 349.5 137.5" stroke-opacity="0.13" stroke-width="0.35"/>
<path d="M387.8 106.1Q384.0 107.8 380.5 110.0" stroke-opacity="0.09" stroke-width="0.45"/>
<path d="M380.5 110.0Q364.7 117.3 349.8 126.5" stroke-opacity="0.21" stroke-width="0.45"/>
<path d="M349.8 126.5Q339.3 131.4 329.4 137.5" stroke-opacity="0.12" stroke-width="0.45"/>
<path d="M329.4 137.5Q320.6 141.5 312.3 146.6" stroke-opacity="0.06" stroke-width="0.45"/>
<path d="M391.9 114.4Q388.0 115.7 384.2 117.4" stroke-opacity="0.16" stroke-width="0.45"/>
<path d="M384.2 117.4Q370.5 121.7 357.4 127.6" stroke-opacity="0.35" stroke-width="0.45"/>
<path d="M357.4 127.6Q348.3 130.4 339.6 134.4" stroke-opacity="0.21" stroke-width="0.45"/>
<path d="M339.6 134.4Q332.0 136.8 324.7 140.0" stroke-opacity="0.11" stroke-width="0.45"/>
<path d="M402.0 145.8Q397.9 145.8 393.7 146.2" stroke-opacity="0.21" stroke-width="0.35"/>
<path d="M393.7 146.2Q379.8 146.1 366.0 147.6" stroke-opacity="0.47" stroke-width="0.35"/>
<path d="M366.0 147.6Q356.8 147.5 347.5 148.5" stroke-opacity="0.28" stroke-width="0.35"/>
<path d="M347.5 148.5Q339.8 148.4 332.2 149.2" stroke-opacity="0.14" stroke-width="0.35"/>
<path d="M388.5 107.3Q384.6 108.9 381.0 110.9" stroke-opacity="0.06" stroke-width="0.65"/>
<path d="M381.0 110.9Q376.1 113.0 371.4 115.6" stroke-opacity="0.14" stroke-width="0.65"/>
<path d="M371.4 115.6Q368.1 116.9 365.0 118.7" stroke-opacity="0.09" stroke-width="0.65"/>
<path d="M365.0 118.7Q362.3 119.8 359.7 121.2" stroke-opacity="0.04" stroke-width="0.65"/>
<path d="M400.8 140.3Q396.7 140.6 392.6 141.4" stroke-opacity="0.07" stroke-width="0.45"/>
<path d="M392.6 141.4Q386.4 142.0 380.2 143.2" stroke-opacity="0.15" stroke-width="0.45"/>
<path d="M380.2 143.2Q376.0 143.6 371.9 144.4" stroke-opacity="0.09" stroke-width="0.45"/>
<path d="M371.9 144.4Q368.4 144.7 365.0 145.4" stroke-opacity="0.05" stroke-width="0.45"/>
<path d="M395.3 122.5Q391.4 123.8 387.6 125.6" stroke-opacity="0.06" stroke-width="0.65"/>
<path d="M387.6 125.6Q372.2 130.7 357.4 137.5" stroke-opacity="0.13" stroke-width="0.65"/>
<path d="M357.4 137.5Q347.1 140.9 337.3 145.5" stroke-opacity="0.08" stroke-width="0.65"/>
<path d="M337.3 145.5Q328.7 148.4 320.5 152.2" stroke-opacity="0.04" stroke-width="0.65"/>
<path d="M402.9 197.7Q399.1 196.1 395.1 194.9" stroke-opacity="0.07" stroke-width="0.35"/>
<path d="M395.1 194.9Q389.4 192.4 383.4 190.7" stroke-opacity="0.15" stroke-width="0.35"/>
<path d="M383.4 190.7Q379.6 189.0 375.6 187.9" stroke-opacity="0.09" stroke-width="0.35"/>
<path d="M375.6 187.9Q372.4 186.5 369.1 185.5" stroke-opacity="0.04" stroke-width="0.35"/>
<path d="M396.7 126.4Q392.7 127.2 388.7 128.5" stroke-opacity="0.09" stroke-width="0.5"/>
<path d="M388.7 128.5Q369.3 132.2 350.5 138.1" stroke-opacity="0.20" stroke-width="0.5"/>
<path d="M350.5 138.1Q337.6 140.6 325.1 144.6" stroke-opacity="0.12" stroke-width="0.5"/>
<path d="M325.1 144.6Q314.3 146.7 303.9 150.0" stroke-opacity="0.06" stroke-width="0.5"/>
<path d="M404.4 186.6Q400.3 185.7 396.2 185.2" stroke-opacity="0.17" stroke-width="0.45"/>
<path d="M396.2 185.2Q390.5 183.9 384.6 183.3" stroke-opacity="0.39" stroke-width="0.45"/>
<path d="M384.6 183.3Q380.8 182.4 376.9 182.0" stroke-opacity="0.23" stroke-width="0.45"/>
<path d="M376.9 182.0Q373.7 181.3 370.4 180.9" stroke-opacity="0.12" stroke-width="0.45"/>
<path d="M397.7 129.3Q393.6 130.0 389.7 131.2" stroke-opacity="0.21" stroke-width="0.35"/>
<path d="M389.7 131.2Q379.5 133.0 369.7 135.9" stroke-opacity="0.46" stroke-width="0.35"/>
<path d="M369.7 135.9Q363.0 137.1 356.4 139.0" stroke-opacity="0.28" stroke-width="0.35"/>
<path d="M356.4 139.0Q350.8 140.0 345.4 141.6" stroke-opacity="0.14" stroke-width="0.35"/>
<path d="M404.7 166.6Q400.6 166.2 396.4 166.3" stroke-opacity="0.12" stroke-width="0.65"/>
<path d="M396.4 166.3Q385.6 165.3 374.7 165.6" stroke-opacity="0.26" stroke-width="0.65"/>
<path d="M374.7 165.6Q367.4 164.9 360.2 165.1" stroke-opacity="0.16" stroke-width="0.65"/>
<path d="M360.2 165.1Q354.2 164.6 348.1 164.7" stroke-opacity="0.08" stroke-width="0.65"/>
<path d="M376.4 88.1Q373.0 90.5 369.9 93.3" stroke-opacity="0.21" stroke-width="0.5"/>
<path d="M369.9 93.3Q356.7 102.8 344.6 113.8" stroke-opacity="0.46" stroke-width="0.5"/>
<path d="M344.6 113.8Q335.8 120.1 327.8 127.4" stroke-opacity="0.28" stroke-width="0.5"/>
<path d="M327.8 127.4Q320.4 132.7 313.7 138.8" stroke-opacity="0.14" stroke-width="0.5"/>
<path d="M397.0 127.1Q393.0 128.3 389.2 130.0" stroke-opacity="0.18" stroke-width="0.5"/>
<path d="M389.2 130.0Q384.2 131.4 379.5 133.5" stroke-opacity="0.40" stroke-width="0.5"/>
<path d="M379.5 133.5Q376.2 134.5 373.0 135.9" stroke-opacity="0.24" stroke-width="0.5"/>
<path d="M373.0 135.9Q370.2 136.7 367.6 137.8" stroke-opacity="0.12" stroke-width="0.5"/>
<path d="M400.6 209.3Q396.8 207.6 392.8 206.4" stroke-opacity="0.19" stroke-width="0.35"/>
<path d="M392.8 206.4Q380.1 200.8 366.8 196.7" stroke-opacity="0.43" stroke-width="0.35"/>
<path d="M366.8 196.7Q358.3 192.9 349.5 190.2" stroke-opacity="0.26" stroke-width="0.35"/>
<path d="M349.5 190.2Q342.4 187.0 335.0 184.7" stroke-opacity="0.13" stroke-width="0.35"/>
<path d="M373.2 83.9Q369.8 86.3 366.7 89.1" stroke-opacity="0.22" stroke-width="0.65"/>
<path d="M366.7 89.1Q350.8 100.5 336.3 113.7" stroke-opacity="0.48" stroke-width="0.65"/>
<path d="M336.3 113.7Q325.6 121.3 316.0 130.1" stroke-opacity="0.29" stroke-width="0.65"/>
<path d="M316.0 130.1Q307.1 136.5 299.1 143.8" stroke-opacity="0.14" stroke-width="0.65"/>
<path d="M404.1 189.8Q400.1 188.7 395.9 188.1" stroke-opacity="0.14" stroke-width="0.35"/>
<path d="M395.9 188.1Q389.6 186.4 383.1 185.4" stroke-opacity="0.31" stroke-width="0.35"/>
<path d="M383.1 185.4Q378.8 184.2 374.5 183.6" stroke-opacity="0.19" stroke-width="0.35"/>
<path d="M374.5 183.6Q370.9 182.6 367.3 182.0" stroke-opacity="0.09" stroke-width="0.35"/>
<path d="M403.9 191.7Q399.9 190.5 395.8 189.9" stroke-opacity="0.16" stroke-width="0.5"/>
<path d="M395.8 189.9Q379.7 185.3 363.2 182.7" stroke-opacity="0.35" stroke-width="0.5"/>
<path d="M363.2 182.7Q352.5 179.6 341.5 177.9" stroke-opacity="0.21" stroke-width="0.5"/>
<path d="M341.5 177.9Q332.6 175.3 323.4 173.9" stroke-opacity="0.11" stroke-width="0.5"/>
<path d="M402.6 200.2Q398.6 198.8 394.6 197.9" stroke-opacity="0.14" stroke-width="0.65"/>
<path d="M394.6 197.9Q381.5 193.2 367.9 190.1" stroke-opacity="0.31" stroke-width="0.65"/>
<path d="M367.9 190.1Q359.2 187.0 350.2 184.9" stroke-opacity="0.19" stroke-width="0.65"/>
<path d="M350.2 184.9Q342.9 182.3 335.4 180.6" stroke-opacity="0.09" stroke-width="0.65"/>
<path d="M404.4 185.2Q400.4 183.9 396.4 183.0" stroke-opacity="0.15" stroke-width="0.5"/>
<path d="M396.4 183.0Q391.6 181.4 386.7 180.4" stroke-opacity="0.33" stroke-width="0.5"/>
<path d="M386.7 180.4Q383.5 179.3 380.2 178.6" stroke-opacity="0.20" stroke-width="0.5"/>
<path d="M380.2 178.6Q377.5 177.7 374.8 177.2" stroke-opacity="0.10" stroke-width="0.5"/>
<path d="M384.9 100.9Q381.1 102.5 377.5 104.6" stroke-opacity="0.16" stroke-width="0.45"/>
<path d="M377.5 104.6Q372.3 106.9 367.4 109.7" stroke-opacity="0.36" stroke-width="0.45"/>
<path d="M367.4 109.7Q363.9 111.2 360.7 113.1" stroke-opacity="0.21" stroke-width="0.45"/>
<path d="M360.7 113.1Q357.8 114.3 355.1 115.9" stroke-opacity="0.11" stroke-width="0.45"/>
<path d="M379.3 92.1Q375.8 94.4 372.7 97.1" stroke-opacity="0.09" stroke-width="0.65"/>
<path d="M372.7 97.1Q363.1 103.6 354.3 111.2" stroke-opacity="0.21" stroke-width="0.65"/>
<path d="M354.3 111.2Q347.9 115.5 342.1 120.5" stroke-opacity="0.13" stroke-width="0.65"/>
<path d="M342.1 120.5Q336.8 124.1 331.9 128.3" stroke-opacity="0.06" stroke-width="0.65"/>
<path d="M401.2 142.0Q397.1 142.2 393.0 143.0" stroke-opacity="0.19" stroke-width="0.35"/>
<path d="M393.0 143.0Q380.0 143.7 367.2 146.0" stroke-opacity="0.41" stroke-width="0.35"/>
<path d="M367.2 146.0Q358.5 146.5 350.0 148.0" stroke-opacity="0.25" stroke-width="0.35"/>
<path d="M350.0 148.0Q342.8 148.4 335.7 149.7" stroke-opacity="0.12" stroke-width="0.35"/>
<path d="M404.1 188.9Q400.2 187.6 396.1 186.7" stroke-opacity="0.10" stroke-width="0.5"/>
<path d="M396.1 186.7Q387.8 184.0 379.3 182.2" stroke-opacity="0.22" stroke-width="0.5"/>
<path d="M379.3 182.2Q373.7 180.3 368.0 179.2" stroke-opacity="0.13" stroke-width="0.5"/>
<path d="M368.0 179.2Q363.4 177.6 358.7 176.6" stroke-opacity="0.06" stroke-width="0.5"/>
<path d="M387.6 105.8Q383.8 107.3 380.1 109.3" stroke-opacity="0.21" stroke-width="0.45"/>
<path d="M380.1 109.3Q373.6 111.7 367.5 115.0" stroke-opacity="0.46" stroke-width="0.45"/>
<path d="M367.5 115.0Q363.2 116.7 359.1 118.8" stroke-opacity="0.27" stroke-width="0.45"/>
<path d="M359.1 118.8Q355.5 120.2 352.1 122.0" stroke-opacity="0.14" stroke-width="0.45"/>
<path d="M395.1 121.9Q391.2 123.3 387.5 125.2" stroke-opacity="0.09" stroke-width="0.35"/>
<path d="M387.5 125.2Q375.7 129.4 364.5 135.0" stroke-opacity="0.21" stroke-width="0.35"/>
<path d="M364.5 135.0Q356.7 137.8 349.2 141.6" stroke-opacity="0.12" stroke-width="0.35"/>
<path d="M349.2 141.6Q342.6 143.9 336.4 147.0" stroke-opacity="0.06" stroke-width="0.35"/>
<path d="M404.7 170.7Q400.7 169.7 396.6 169.3" stroke-opacity="0.19" stroke-width="0.65"/>
<path d="M396.6 169.3Q384.9 166.6 372.9 165.3" stroke-opacity="0.43" stroke-width="0.65"/>
<path d="M372.9 165.3Q365.1 163.5 357.2 162.6" stroke-opacity="0.26" stroke-width="0.65"/>
<path d="M357.2 162.6Q350.7 161.1 344.1 160.4" stroke-opacity="0.13" stroke-width="0.65"/>
<path d="M400.8 208.3Q397.0 206.5 393.1 205.1" stroke-opacity="0.09" stroke-width="0.45"/>
<path d="M393.1 205.1Q387.4 202.3 381.4 200.2" stroke-opacity="0.19" stroke-width="0.45"/>
<path d="M381.4 200.2Q377.5 198.3 373.5 196.9" stroke-opacity="0.12" stroke-width="0.45"/>
<path d="M373.5 196.9Q370.3 195.3 367.0 194.1" stroke-opacity="0.06" stroke-width="0.45"/>
<path d="M400.4 210.0Q396.6 208.4 392.6 207.2" stroke-opacity="0.10" stroke-width="0.35"/>
<path d="M392.6 207.2Q382.0 202.6 370.8 199.3" stroke-opacity="0.22" stroke-width="0.35"/>
<path d="M370.8 199.3Q363.7 196.3 356.3 194.1" stroke-opacity="0.13" stroke-width="0.35"/>
<path d="M356.3 194.1Q350.4 191.5 344.2 189.7" stroke-opacity="0.07" stroke-width="0.35"/>
<path d="M380.1 93.3Q376.6 95.5 373.4 98.2" stroke-opacity="0.12" stroke-width="0.45"/>
<path d="M373.4 98.2Q366.7 102.6 360.7 107.7" stroke-opacity="0.26" stroke-width="0.45"/>
<path d="M360.7 107.7Q356.2 110.6 352.2 114.0" stroke-opacity="0.16" stroke-width="0.45"/>
<path d="M352.2 114.0Q348.5 116.4 345.1 119.2" stroke-opacity="0.08" stroke-width="0.45"/>
<path d="M374.9 86.1Q371.5 88.5 368.4 91.3" stroke-opacity="0.21" stroke-width="0.35"/>
<path d="M368.4 91.3Q355.3 100.6 343.5 111.5" stroke-opacity="0.47" stroke-width="0.35"/>
<path d="M343.5 111.5Q334.8 117.7 326.9 124.9" stroke-opacity="0.28" stroke-width="0.35"/>
<path d="M326.9 124.9Q319.6 130.1 313.0 136.1" stroke-opacity="0.14" stroke-width="0.35"/>
<path d="M403.4 194.6Q399.5 193.1 395.5 192.1" stroke-opacity="0.07" stroke-width="0.35"/>
<path d="M395.5 192.1Q382.1 187.1 368.2 183.7" stroke-opacity="0.15" stroke-width="0.35"/>
<path d="M368.2 183.7Q359.3 180.3 350.0 178.1" stroke-opacity="0.09" stroke-width="0.35"/>
<path d="M350.0 178.1Q342.6 175.3 334.8 173.4" stroke-opacity="0.04" stroke-width="0.35"/>
<path d="M403.7 191.6Q399.9 190.0 395.9 188.9" stroke-opacity="0.12" stroke-width="0.45"/>
<path d="M395.9 188.9Q390.2 186.6 384.3 184.9" stroke-opacity="0.27" stroke-width="0.45"/>
<path d="M384.3 184.9Q380.6 183.4 376.6 182.3" stroke-opacity="0.16" stroke-width="0.45"/>
<path d="M376.6 182.3Q373.5 181.0 370.2 180.1" stroke-opacity="0.08" stroke-width="0.45"/>
<path d="M404.7 168.3Q400.6 167.6 396.5 167.3" stroke-opacity="0.12" stroke-width="0.5"/>
<path d="M396.5 167.3Q381.2 164.6 365.8 163.7" stroke-opacity="0.28" stroke-width="0.5"/>
<path d="M365.8 163.7Q355.6 161.9 345.3 161.3" stroke-opacity="0.17" stroke-width="0.5"/>
<path d="M345.3 161.3Q336.8 159.8 328.3 159.3" stroke-opacity="0.08" stroke-width="0.5"/>
<path d="M404.8 172.7Q400.7 171.8 396.6 171.3" stroke-opacity="0.21" stroke-width="0.65"/>
<path d="M396.6 171.3Q380.8 167.5 364.6 165.6" stroke-opacity="0.46" stroke-width="0.65"/>
<path d="M364.6 165.6Q354.1 163.0 343.3 161.8" stroke-opacity="0.27" stroke-width="0.65"/>
<path d="M343.3 161.8Q334.5 159.6 325.6 158.6" stroke-opacity="0.14" stroke-width="0.65"/>
<path d="M399.3 134.4Q395.3 135.5 391.4 137.0" stroke-opacity="0.09" stroke-width="0.65"/>
<path d="M391.4 137.0Q381.5 139.7 372.0 143.5" stroke-opacity="0.19" stroke-width="0.65"/>
<path d="M372.0 143.5Q365.4 145.2 359.1 147.8" stroke-opacity="0.12" stroke-width="0.65"/>
<path d="M359.1 147.8Q353.6 149.2 348.3 151.3" stroke-opacity="0.06" stroke-width="0.65"/>
<path d="M387.7 105.8Q383.9 107.6 380.4 109.8" stroke-opacity="0.19" stroke-width="0.65"/>
<path d="M380.4 109.8Q370.3 114.6 360.8 120.6" stroke-opacity="0.43" stroke-width="0.65"/>
<path d="M360.8 120.6Q354.1 123.8 347.8 127.8" stroke-opacity="0.26" stroke-width="0.65"/>
<path d="M347.8 127.8Q342.2 130.5 336.9 133.8" stroke-opacity="0.13" stroke-width="0.65"/>
<path d="M404.1 158.4Q399.9 158.4 395.8 158.9" stroke-opacity="0.06" stroke-width="0.45"/>
<path d="M395.8 158.9Q389.2 158.9 382.7 159.6" stroke-opacity="0.14" stroke-width="0.45"/>
<path d="M382.7 159.6Q378.3 159.6 374.0 160.1" stroke-opacity="0.08" stroke-width="0.45"/>
<path d="M374.0 160.1Q370.3 160.1 366.7 160.6" stroke-opacity="0.04" stroke-width="0.45"/>
<path d="M404.7 168.8Q400.6 167.9 396.5 167.5" stroke-opacity="0.12" stroke-width="0.45"/>
<path d="M396.5 167.5Q382.5 164.5 368.2 163.2" stroke-opacity="0.26" stroke-width="0.45"/>
<path d="M368.2 163.2Q358.9 161.2 349.4 160.3" stroke-opacity="0.16" stroke-width="0.45"/>
<path d="M349.4 160.3Q341.6 158.7 333.7 158.0" stroke-opacity="0.08" stroke-width="0.45"/>
<path d="M383.5 98.6Q379.8 100.5 376.4 102.9" stroke-opacity="0.07" stroke-width="0.65"/>
<path d="M376.4 102.9Q359.5 111.7 343.7 122.5" stroke-opacity="0.16" stroke-width="0.65"/>
<path d="M343.7 122.5Q332.4 128.4 321.9 135.6" stroke-opacity="0.10" stroke-width="0.65"/>
<path d="M321.9 135.6Q312.5 140.6 303.7 146.6" stroke-opacity="0.05" stroke-width="0.65"/>
<path d="M404.6 184.4Q400.5 183.5 396.4 183.1" stroke-opacity="0.20" stroke-width="0.35"/>
<path d="M396.4 183.1Q387.3 181.1 378.1 180.2" stroke-opacity="0.44" stroke-width="0.35"/>
<path d="M378.1 180.2Q372.1 178.8 365.9 178.2" stroke-opacity="0.26" stroke-width="0.35"/>
<path d="M365.9 178.2Q360.9 177.1 355.8 176.6" stroke-opacity="0.13" stroke-width="0.35"/>
<path d="M398.1 217.5Q394.7 215.2 390.9 213.3" stroke-opacity="0.12" stroke-width="0.45"/>
<path d="M390.9 213.3Q375.1 202.6 358.0 194.0" stroke-opacity="0.27" stroke-width="0.45"/>
<path d="M358.0 194.0Q347.4 186.9 336.0 181.1" stroke-opacity="0.16" stroke-width="0.45"/>
<path d="M336.0 181.1Q327.2 175.2 317.7 170.4" stroke-opacity="0.08" stroke-width="0.45"/>
<path d="M404.8 167.9Q400.6 167.4 396.5 167.5" stroke-opacity="0.09" stroke-width="0.65"/>
<path d="M396.5 167.5Q382.4 165.9 368.1 166.1" stroke-opacity="0.19" stroke-width="0.65"/>
<path d="M368.1 166.1Q358.7 165.1 349.3 165.2" stroke-opacity="0.12" stroke-width="0.65"/>
<path d="M349.3 165.2Q341.4 164.3 333.5 164.4" stroke-opacity="0.06" stroke-width="0.65"/>
<path d="M386.4 103.5Q382.6 105.2 379.0 107.3" stroke-opacity="0.12" stroke-width="0.35"/>
<path d="M379.0 107.3Q367.4 112.4 356.4 118.8" stroke-opacity="0.27" stroke-width="0.35"/>
<path d="M356.4 118.8Q348.7 122.1 341.4 126.4" stroke-opacity="0.16" stroke-width="0.35"/>
<path d="M341.4 126.4Q334.9 129.2 328.9 132.8" stroke-opacity="0.08" stroke-width="0.35"/>
<path d="M383.2 98.2Q379.8 100.6 376.7 103.3" stroke-opacity="0.21" stroke-width="0.35"/>
<path d="M376.7 103.3Q370.4 107.5 364.7 112.5" stroke-opacity="0.46" stroke-width="0.35"/>
<path d="M364.7 112.5Q360.5 115.3 356.7 118.6" stroke-opacity="0.27" stroke-width="0.35"/>
<path d="M356.7 118.6Q353.3 120.9 350.1 123.7" stroke-opacity="0.14" stroke-width="0.35"/>
<path d="M404.9 172.3Q400.8 171.5 396.6 171.3" stroke-opacity="0.20" stroke-width="0.5"/>
<path d="M396.6 171.3Q385.1 169.2 373.4 168.6" stroke-opacity="0.44" stroke-width="0.5"/>
<path d="M373.4 168.6Q365.7 167.2 358.0 166.8" stroke-opacity="0.27" stroke-width="0.5"/>
<path d="M358.0 166.8Q351.6 165.6 345.1 165.3" stroke-opacity="0.13" stroke-width="0.5"/>
<path d="M404.8 169.7Q400.7 168.9 396.5 168.7" stroke-opacity="0.12" stroke-width="0.65"/>
<path d="M396.5 168.7Q386.1 166.8 375.4 166.2" stroke-opacity="0.26" stroke-width="0.65"/>
<path d="M375.4 166.2Q368.4 164.9 361.3 164.5" stroke-opacity="0.16" stroke-width="0.65"/>
<path d="M361.3 164.5Q355.5 163.5 349.6 163.1" stroke-opacity="0.08" stroke-width="0.65"/>
<path d="M385.8 102.5Q382.1 104.4 378.7 106.8" stroke-opacity="0.13" stroke-width="0.65"/>
<path d="M378.7 106.8Q368.2 112.3 358.5 119.1" stroke-opacity="0.29" stroke-width="0.65"/>
<path d="M358.5 119.1Q351.5 122.8 345.0 127.2" stroke-opacity="0.17" stroke-width="0.65"/>
<path d="M345.0 127.2Q339.2 130.3 333.8 134.1" stroke-opacity="0.09" stroke-width="0.65"/>
<path d="M403.0 197.3Q399.1 195.7 395.1 194.5" stroke-opacity="0.12" stroke-width="0.5"/>
<path d="M395.1 194.5Q390.0 192.4 384.7 190.8" stroke-opacity="0.26" stroke-width="0.5"/>
<path d="M384.7 190.8Q381.2 189.4 377.7 188.4" stroke-opacity="0.15" stroke-width="0.5"/>
<path d="M377.7 188.4Q374.8 187.2 371.8 186.3" stroke-opacity="0.08" stroke-width="0.5"/>
<path d="M379.0 91.8Q375.5 94.0 372.3 96.6" stroke-opacity="0.16" stroke-width="0.35"/>
<path d="M372.3 96.6Q367.9 99.4 363.9 102.6" stroke-opacity="0.36" stroke-width="0.35"/>
<path d="M363.9 102.6Q361.0 104.4 358.4 106.6" stroke-opacity="0.22" stroke-width="0.35"/>
<path d="M358.4 106.6Q356.0 108.1 353.7 109.9" stroke-opacity="0.11" stroke-width="0.35"/>
<path d="M400.6 209.0Q396.8 207.4 392.9 206.1" stroke-opacity="0.18" stroke-width="0.65"/>
<path d="M392.9 206.1Q387.6 203.8 382.1 202.1" stroke-opacity="0.41" stroke-width="0.65"/>
<path d="M382.1 202.1Q378.6 200.5 374.9 199.4" stroke-opacity="0.24" stroke-width="0.65"/>
<path d="M374.9 199.4Q372.0 198.1 368.9 197.2" stroke-opacity="0.12" stroke-width="0.65"/>
<path d="M404.7 170.6Q400.7 169.7 396.6 169.2" stroke-opacity="0.16" stroke-width="0.35"/>
<path d="M396.6 169.2Q391.2 167.9 385.6 167.3" stroke-opacity="0.35" stroke-width="0.35"/>
<path d="M385.6 167.3Q382.0 166.4 378.4 166.0" stroke-opacity="0.21" stroke-width="0.35"/>
<path d="M378.4 166.0Q375.3 165.3 372.3 164.9" stroke-opacity="0.11" stroke-width="0.35"/>
<path d="M386.8 104.3Q383.2 106.2 379.7 108.6" stroke-opacity="0.21" stroke-width="0.45"/>
<path d="M379.7 108.6Q362.4 117.7 346.2 128.8" stroke-opacity="0.47" stroke-width="0.45"/>
<path d="M346.2 128.8Q334.6 134.8 323.9 142.2" stroke-opacity="0.28" stroke-width="0.45"/>
<path d="M323.9 142.2Q314.2 147.3 305.2 153.5" stroke-opacity="0.14" stroke-width="0.45"/>
<path d="M404.8 175.3Q400.8 174.3 396.6 173.8" stroke-opacity="0.16" stroke-width="0.5"/>
<path d="M396.6 173.8Q379.5 169.6 362.0 167.5" stroke-opacity="0.35" stroke-width="0.5"/>
<path d="M362.0 167.5Q350.5 164.8 338.9 163.4" stroke-opacity="0.21" stroke-width="0.5"/>
<path d="M338.9 163.4Q329.3 161.0 319.6 159.9" stroke-opacity="0.11" stroke-width="0.5"/>
<path d="M384.4 100.1Q380.7 102.0 377.3 104.4" stroke-opacity="0.08" stroke-width="0.65"/>
<path d="M377.3 104.4Q361.9 112.5 347.6 122.4" stroke-opacity="0.17" stroke-width="0.65"/>
<path d="M347.6 122.4Q337.4 127.8 327.9 134.3" stroke-opacity="0.10" stroke-width="0.65"/>
<path d="M327.9 134.3Q319.3 138.8 311.4 144.3" stroke-opacity="0.05" stroke-width="0.65"/>
<path d="M388.1 106.7Q384.3 108.3 380.7 110.4" stroke-opacity="0.06" stroke-width="0.45"/>
<path d="M380.7 110.4Q371.9 114.1 363.6 118.8" stroke-opacity="0.13" stroke-width="0.45"/>
<path d="M363.6 118.8Q357.8 121.3 352.2 124.5" stroke-opacity="0.08" stroke-width="0.45"/>
<path d="M352.2 124.5Q347.4 126.5 342.8 129.2" stroke-opacity="0.04" stroke-width="0.45"/>
<path d="M399.1 133.7Q395.0 134.2 390.9 135.3" stroke-opacity="0.12" stroke-width="0.5"/>
<path d="M390.9 135.3Q381.3 136.6 372.0 139.0" stroke-opacity="0.26" stroke-width="0.5"/>
<path d="M372.0 139.0Q365.6 139.9 359.3 141.5" stroke-opacity="0.16" stroke-width="0.5"/>
<path d="M359.3 141.5Q354.0 142.2 348.8 143.6" stroke-opacity="0.08" stroke-width="0.5"/>
<path d="M380.9 94.4Q377.3 96.7 374.1 99.3" stroke-opacity="0.20" stroke-width="0.35"/>
<path d="M374.1 99.3Q365.5 104.7 357.6 111.1" stroke-opacity="0.45" stroke-width="0.35"/>
<path d="M357.6 111.1Q351.8 114.7 346.6 119.0" stroke-opacity="0.27" stroke-width="0.35"/>
<path d="M346.6 119.0Q341.8 122.0 337.4 125.6" stroke-opacity="0.14" stroke-width="0.35"/>
<path d="M390.8 111.9Q387.0 113.6 383.4 115.8" stroke-opacity="0.12" stroke-width="0.65"/>
<path d="M383.4 115.8Q368.7 122.4 354.9 130.8" stroke-opacity="0.26" stroke-width="0.65"/>
<path d="M354.9 130.8Q345.1 135.2 335.8 140.8" stroke-opacity="0.16" stroke-width="0.65"/>
<path d="M335.8 140.8Q327.7 144.5 320.0 149.1" stroke-opacity="0.08" stroke-width="0.65"/>
<path d="M397.6 219.3Q394.1 217.1 390.3 215.2" stroke-opacity="0.13" stroke-width="0.45"/>
<path d="M390.3 215.2Q376.4 206.3 361.5 199.1" stroke-opacity="0.29" stroke-width="0.45"/>
<path d="M361.5 199.1Q352.2 193.1 342.2 188.3" stroke-opacity="0.17" stroke-width="0.45"/>
<path d="M342.2 188.3Q334.5 183.4 326.2 179.4" stroke-opacity="0.09" stroke-width="0.45"/>
<path d="M404.5 164.7Q400.4 164.1 396.3 164.0" stroke-opacity="0.11" stroke-width="0.5"/>
<path d="M396.3 164.0Q383.7 162.3 371.1 162.0" stroke-opacity="0.24" stroke-width="0.5"/>
<path d="M371.1 162.0Q362.7 160.9 354.3 160.7" stroke-opacity="0.14" stroke-width="0.5"/>
<path d="M354.3 160.7Q347.3 159.7 340.3 159.6" stroke-opacity="0.07" stroke-width="0.5"/>
<path d="M404.6 182.3Q400.6 181.0 396.5 180.3" stroke-opacity="0.16" stroke-width="0.65"/>
<path d="M396.5 180.3Q387.8 177.6 378.9 176.0" stroke-opacity="0.36" stroke-width="0.65"/>
<path d="M378.9 176.0Q373.1 174.2 367.1 173.2" stroke-opacity="0.21" stroke-width="0.65"/>
<path d="M367.1 173.2Q362.3 171.7 357.3 170.8" stroke-opacity="0.11" stroke-width="0.65"/>
<path d="M402.8 149.7Q398.6 149.6 394.5 150.0" stroke-opacity="0.17" stroke-width="0.35"/>
<path d="M394.5 150.0Q386.4 149.7 378.3 150.4" stroke-opacity="0.37" stroke-width="0.35"/>
<path d="M378.3 150.4Q372.9 150.2 367.5 150.7" stroke-opacity="0.22" stroke-width="0.35"/>
<path d="M367.5 150.7Q363.0 150.5 358.6 150.9" stroke-opacity="0.11" stroke-width="0.35"/>
<path d="M375.8 87.4Q372.4 89.7 369.3 92.4" stroke-opacity="0.15" stroke-width="0.65"/>
<path d="M369.3 92.4Q358.7 99.6 349.1 107.9" stroke-opacity="0.32" stroke-width="0.65"/>
<path d="M349.1 107.9Q342.0 112.7 335.6 118.3" stroke-opacity="0.19" stroke-width="0.65"/>
<path d="M335.6 118.3Q329.7 122.2 324.4 126.9" stroke-opacity="0.10" stroke-width="0.65"/>
<path d="M404.2 160.1Q400.0 159.6 395.9 159.7" stroke-opacity="0.14" stroke-width="0.45"/>
<path d="M395.9 159.7Q381.6 158.1 367.2 158.2" stroke-opacity="0.30" stroke-width="0.45"/>
<path d="M367.2 158.2Q357.7 157.1 348.2 157.2" stroke-opacity="0.18" stroke-width="0.45"/>
<path d="M348.2 157.2Q340.2 156.3 332.3 156.4" stroke-opacity="0.09" stroke-width="0.45"/>
<path d="M371.6 82.1Q368.6 84.9 365.8 88.0" stroke-opacity="0.06" stroke-width="0.45"/>
<path d="M365.8 88.0Q357.2 95.8 349.6 104.6" stroke-opacity="0.14" stroke-width="0.45"/>
<path d="M349.6 104.6Q343.8 109.8 338.7 115.6" stroke-opacity="0.09" stroke-width="0.45"/>
<path d="M338.7 115.6Q333.9 119.9 329.7 124.8" stroke-opacity="0.04" stroke-width="0.45"/>
<path d="M402.1 202.3Q398.3 200.6 394.3 199.3" stroke-opacity="0.06" stroke-width="0.5"/>
<path d="M394.3 199.3Q386.5 195.6 378.2 192.9" stroke-opacity="0.12" stroke-width="0.5"/>
<path d="M378.2 192.9Q373.0 190.4 367.5 188.6" stroke-opacity="0.07" stroke-width="0.5"/>
<path d="M367.5 188.6Q363.1 186.6 358.6 185.0" stroke-opacity="0.04" stroke-width="0.5"/>
<path d="M404.3 161.1Q400.2 160.9 396.0 161.2" stroke-opacity="0.14" stroke-width="0.45"/>
<path d="M396.0 161.2Q383.4 160.5 370.7 161.4" stroke-opacity="0.31" stroke-width="0.45"/>
<path d="M370.7 161.4Q362.3 161.0 353.8 161.5" stroke-opacity="0.18" stroke-width="0.45"/>
<path d="M353.8 161.5Q346.8 161.2 339.8 161.6" stroke-opacity="0.09" stroke-width="0.45"/>
<path d="M364.5 74.2Q361.1 76.6 357.8 79.0" stroke-opacity="0.04" stroke-width="0.35"/>
<path d="M357.8 79.0Q353.0 82.5 348.2 85.9" stroke-opacity="0.10" stroke-width="0.35"/>
<path d="M348.2 85.9Q345.0 88.3 341.8 90.6" stroke-opacity="0.06" stroke-width="0.35"/>
<path d="M341.8 90.6Q339.2 92.5 336.5 94.4" stroke-opacity="0.03" stroke-width="0.35"/>
<path d="M365.0 74.7Q361.7 77.2 358.4 79.6" stroke-opacity="0.04" stroke-width="0.65"/>
<path d="M358.4 79.6Q351.8 84.5 345.2 89.3" stroke-opacity="0.09" stroke-width="0.65"/>
<path d="M345.2 89.3Q340.9 92.6 336.5 95.8" stroke-opacity="0.05" stroke-width="0.65"/>
<path d="M336.5 95.8Q332.8 98.5 329.2 101.2" stroke-opacity="0.03" stroke-width="0.65"/>
<path d="M296.4 34.2Q295.4 38.2 294.5 42.3" stroke-opacity="0.09" stroke-width="0.45"/>
<path d="M294.5 42.3Q292.8 50.1 291.0 57.9" stroke-opacity="0.19" stroke-width="0.45"/>
<path d="M291.0 57.9Q289.8 63.1 288.6 68.4" stroke-opacity="0.11" stroke-width="0.45"/>
<path d="M288.6 68.4Q287.6 72.7 286.7 77.1" stroke-opacity="0.06" stroke-width="0.45"/>
<path d="M329.3 47.2Q327.0 50.7 324.7 54.2" stroke-opacity="0.08" stroke-width="0.65"/>
<path d="M324.7 54.2Q318.5 63.5 312.3 72.8" stroke-opacity="0.18" stroke-width="0.65"/>
<path d="M312.3 72.8Q308.2 79.0 304.0 85.2" stroke-opacity="0.11" stroke-width="0.65"/>
<path d="M304.0 85.2Q300.6 90.4 297.1 95.6" stroke-opacity="0.05" stroke-width="0.65"/>
<path d="M348.6 59.9Q345.8 62.9 343.0 65.9" stroke-opacity="0.06" stroke-width="0.65"/>
<path d="M343.0 65.9Q336.9 72.5 330.8 79.0" stroke-opacity="0.13" stroke-width="0.65"/>
<path d="M330.8 79.0Q326.7 83.4 322.6 87.8" stroke-opacity="0.08" stroke-width="0.65"/>
<path d="M322.6 87.8Q319.2 91.4 315.8 95.0" stroke-opacity="0.04" stroke-width="0.65"/>
<path d="M293.2 33.4Q292.6 37.5 292.1 41.6" stroke-opacity="0.04" stroke-width="0.5"/>
<path d="M292.1 41.6Q291.0 49.6 289.9 57.6" stroke-opacity="0.08" stroke-width="0.5"/>
<path d="M289.9 57.6Q289.2 62.9 288.4 68.2" stroke-opacity="0.05" stroke-width="0.5"/>
<path d="M288.4 68.2Q287.8 72.6 287.2 77.1" stroke-opacity="0.02" stroke-width="0.5"/>
<path d="M348.3 59.6Q345.5 62.7 342.7 65.7" stroke-opacity="0.08" stroke-width="0.5"/>
<path d="M342.7 65.7Q338.5 70.2 334.3 74.7" stroke-opacity="0.19" stroke-width="0.5"/>
<path d="M334.3 74.7Q331.5 77.8 328.6 80.8" stroke-opacity="0.11" stroke-width="0.5"/>
<path d="M328.6 80.8Q326.3 83.3 324.0 85.8" stroke-opacity="0.06" stroke-width="0.5"/>
<path d="M306.2 37.1Q305.2 41.2 304.2 45.2" stroke-opacity="0.06" stroke-width="0.45"/>
<path d="M304.2 45.2Q303.5 48.1 302.8 51.1" stroke-opacity="0.14" stroke-width="0.45"/>
<path d="M302.8 51.1Q302.3 53.0 301.8 55.0" stroke-opacity="0.08" stroke-width="0.45"/>
<path d="M301.8 55.0Q301.4 56.6 301.0 58.2" stroke-opacity="0.04" stroke-width="0.45"/>
<path d="M303.4 36.2Q302.0 40.1 300.7 44.0" stroke-opacity="0.08" stroke-width="0.5"/>
<path d="M300.7 44.0Q297.2 54.2 293.7 64.4" stroke-opacity="0.18" stroke-width="0.5"/>
<path d="M293.7 64.4Q291.4 71.2 289.1 77.9" stroke-opacity="0.11" stroke-width="0.5"/>
<path d="M289.1 77.9Q287.1 83.6 285.2 89.2" stroke-opacity="0.05" stroke-width="0.5"/>
<path d="M295.8 34.0Q294.8 38.0 293.8 42.1" stroke-opacity="0.09" stroke-width="0.65"/>
<path d="M293.8 42.1Q292.4 47.6 291.0 53.0" stroke-opacity="0.20" stroke-width="0.65"/>
<path d="M291.0 53.0Q290.0 56.7 289.1 60.4" stroke-opacity="0.12" stroke-width="0.65"/>
<path d="M289.1 60.4Q288.3 63.4 287.5 66.5" stroke-opacity="0.06" stroke-width="0.65"/>
<path d="M325.6 45.3Q323.4 48.8 321.3 52.4" stroke-opacity="0.10" stroke-width="0.45"/>
<path d="M321.3 52.4Q320.0 54.5 318.7 56.7" stroke-opacity="0.21" stroke-width="0.45"/>
<path d="M318.7 56.7Q317.9 58.1 317.0 59.5" stroke-opacity="0.13" stroke-width="0.45"/>
<path d="M317.0 59.5Q316.3 60.7 315.6 61.9" stroke-opacity="0.06" stroke-width="0.45"/>
<path d="M335.4 50.8Q332.9 54.1 330.4 57.4" stroke-opacity="0.03" stroke-width="0.45"/>
<path d="M330.4 57.4Q325.6 63.6 320.8 69.9" stroke-opacity="0.07" stroke-width="0.45"/>
<path d="M320.8 69.9Q317.7 74.0 314.5 78.2" stroke-opacity="0.04" stroke-width="0.45"/>
<path d="M314.5 78.2Q311.8 81.7 309.2 85.1" stroke-opacity="0.02" stroke-width="0.45"/>
<path d="M291.3 33.0Q290.1 36.9 288.9 40.9" stroke-opacity="0.05" stroke-width="0.45"/>
<path d="M288.9 40.9Q285.9 51.1 282.8 61.2" stroke-opacity="0.12" stroke-width="0.45"/>
<path d="M282.8 61.2Q280.8 68.0 278.7 74.8" stroke-opacity="0.07" stroke-width="0.45"/>
<path d="M278.7 74.8Q277.0 80.4 275.4 86.1" stroke-opacity="0.03" stroke-width="0.45"/>
<path d="M347.8 59.3Q344.8 62.2 341.7 65.0" stroke-opacity="0.03" stroke-width="0.35"/>
<path d="M341.7 65.0Q335.9 70.5 330.0 76.0" stroke-opacity="0.07" stroke-width="0.35"/>
<path d="M330.0 76.0Q326.1 79.7 322.2 83.3" stroke-opacity="0.04" stroke-width="0.35"/>
<path d="M322.2 83.3Q318.9 86.4 315.6 89.4" stroke-opacity="0.02" stroke-width="0.35"/>
<path d="M350.6 61.5Q347.7 64.4 344.7 67.3" stroke-opacity="0.09" stroke-width="0.35"/>
<path d="M344.7 67.3Q340.8 71.2 336.9 75.1" stroke-opacity="0.19" stroke-width="0.35"/>
<path d="M336.9 75.1Q334.3 77.7 331.7 80.3" stroke-opacity="0.11" stroke-width="0.35"/>
<path d="M331.7 80.3Q329.5 82.4 327.3 84.6" stroke-opacity="0.06" stroke-width="0.35"/>
<path d="M362.1 71.6Q359.0 74.4 356.0 77.3" stroke-opacity="0.04" stroke-width="0.45"/>
<path d="M356.0 77.3Q351.8 81.1 347.6 85.0" stroke-opacity="0.10" stroke-width="0.45"/>
<path d="M347.6 85.0Q344.9 87.6 342.1 90.2" stroke-opacity="0.06" stroke-width="0.45"/>
<path d="M342.1 90.2Q339.7 92.3 337.4 94.5" stroke-opacity="0.03" stroke-width="0.45"/>
<path d="M287.4 32.1Q286.5 36.2 285.5 40.2" stroke-opacity="0.07" stroke-width="0.5"/>
<path d="M285.5 40.2Q283.4 49.5 281.3 58.9" stroke-opacity="0.16" stroke-width="0.5"/>
<path d="M281.3 58.9Q279.8 65.1 278.4 71.3" stroke-opacity="0.10" stroke-width="0.5"/>
<path d="M278.4 71.3Q277.2 76.5 276.0 81.6" stroke-opacity="0.05" stroke-width="0.5"/>
<path d="M326.0 45.5Q323.9 49.1 321.8 52.6" stroke-opacity="0.05" stroke-width="0.5"/>
<path d="M321.8 52.6Q317.7 59.6 313.6 66.5" stroke-opacity="0.11" stroke-width="0.5"/>
<path d="M313.6 66.5Q310.8 71.1 308.1 75.8" stroke-opacity="0.06" stroke-width="0.5"/>
<path d="M308.1 75.8Q305.8 79.6 303.5 83.5" stroke-opacity="0.03" stroke-width="0.5"/>
<path d="M321.1 43.1Q318.9 46.7 316.7 50.2" stroke-opacity="0.08" stroke-width="0.5"/>
<path d="M316.7 50.2Q314.2 54.3 311.7 58.4" stroke-opacity="0.17" stroke-width="0.5"/>
<path d="M311.7 58.4Q310.0 61.1 308.4 63.8" stroke-opacity="0.10" stroke-width="0.5"/>
<path d="M308.4 63.8Q307.0 66.1 305.6 68.3" stroke-opacity="0.05" stroke-width="0.5"/>
<path d="M364.6 74.1Q361.4 76.8 358.3 79.5" stroke-opacity="0.05" stroke-width="0.35"/>
<path d="M358.3 79.5Q353.3 83.8 348.3 88.0" stroke-opacity="0.11" stroke-width="0.35"/>
<path d="M348.3 88.0Q345.0 90.9 341.7 93.7" stroke-opacity="0.06" stroke-width="0.35"/>
<path d="M341.7 93.7Q338.9 96.0 336.2 98.4" stroke-opacity="0.03" stroke-width="0.35"/>
<path d="M355.2 65.3Q352.1 68.1 349.0 70.8" stroke-opacity="0.06" stroke-width="0.35"/>
<path d="M349.0 70.8Q346.6 72.9 344.3 74.9" stroke-opacity="0.14" stroke-width="0.35"/>
<path d="M344.3 74.9Q342.7 76.3 341.1 77.7" stroke-opacity="0.08" stroke-width="0.35"/>
<path d="M341.1 77.7Q339.8 78.9 338.5 80.0" stroke-opacity="0.04" stroke-width="0.35"/>
<path d="M331.9 48.7Q329.6 52.2 327.4 55.6" stroke-opacity="0.09" stroke-width="0.45"/>
<path d="M327.4 55.6Q325.8 58.2 324.1 60.8" stroke-opacity="0.19" stroke-width="0.45"/>
<path d="M324.1 60.8Q323.0 62.5 321.9 64.3" stroke-opacity="0.11" stroke-width="0.45"/>
<path d="M321.9 64.3Q321.0 65.7 320.1 67.1" stroke-opacity="0.06" stroke-width="0.45"/>
<path d="M321.7 43.4Q319.8 47.1 317.9 50.7" stroke-opacity="0.03" stroke-width="0.5"/>
<path d="M317.9 50.7Q313.7 58.7 309.6 66.7" stroke-opacity="0.07" stroke-width="0.5"/>
<path d="M309.6 66.7Q306.8 72.0 304.0 77.4" stroke-opacity="0.04" stroke-width="0.5"/>
<path d="M304.0 77.4Q301.7 81.8 299.4 86.2" stroke-opacity="0.02" stroke-width="0.5"/>
<path d="M327.0 46.0Q325.0 49.6 323.1 53.3" stroke-opacity="0.06" stroke-width="0.5"/>
<path d="M323.1 53.3Q321.2 56.7 319.4 60.2" stroke-opacity="0.14" stroke-width="0.5"/>
<path d="M319.4 60.2Q318.1 62.5 316.9 64.8" stroke-opacity="0.08" stroke-width="0.5"/>
<path d="M316.9 64.8Q315.9 66.7 314.8 68.6" stroke-opacity="0.04" stroke-width="0.5"/>
<path d="M368.3 78.2Q365.0 80.7 361.6 83.1" stroke-opacity="0.09" stroke-width="0.45"/>
<path d="M361.6 83.1Q358.7 85.3 355.7 87.5" stroke-opacity="0.19" stroke-width="0.45"/>
<path d="M355.7 87.5Q353.7 88.9 351.7 90.4" stroke-opacity="0.11" stroke-width="0.45"/>
<path d="M351.7 90.4Q350.1 91.6 348.4 92.8" stroke-opacity="0.06" stroke-width="0.45"/>
<path d="M328.2 46.7Q326.0 50.2 323.8 53.7" stroke-opacity="0.08" stroke-width="0.35"/>
<path d="M323.8 53.7Q322.2 56.2 320.5 58.7" stroke-opacity="0.19" stroke-width="0.35"/>
<path d="M320.5 58.7Q319.5 60.3 318.4 62.0" stroke-opacity="0.11" stroke-width="0.35"/>
<path d="M318.4 62.0Q317.5 63.4 316.6 64.8" stroke-opacity="0.06" stroke-width="0.35"/>
<path d="M340.7 54.1Q338.1 57.4 335.5 60.6" stroke-opacity="0.09" stroke-width="0.35"/>
<path d="M335.5 60.6Q331.8 65.1 328.2 69.6" stroke-opacity="0.20" stroke-width="0.35"/>
<path d="M328.2 69.6Q325.8 72.7 323.4 75.7" stroke-opacity="0.12" stroke-width="0.35"/>
<path d="M323.4 75.7Q321.3 78.2 319.3 80.7" stroke-opacity="0.06" stroke-width="0.35"/>
<path d="M320.1 42.6Q318.3 46.4 316.6 50.1" stroke-opacity="0.06" stroke-width="0.45"/>
<path d="M316.6 50.1Q314.5 54.6 312.3 59.1" stroke-opacity="0.13" stroke-width="0.45"/>
<path d="M312.3 59.1Q310.9 62.1 309.5 65.1" stroke-opacity="0.08" stroke-width="0.45"/>
<path d="M309.5 65.1Q308.3 67.6 307.2 70.1" stroke-opacity="0.04" stroke-width="0.45"/>
<path d="M315.4 40.6Q313.9 44.4 312.4 48.3" stroke-opacity="0.07" stroke-width="0.35"/>
<path d="M312.4 48.3Q310.2 54.3 307.9 60.3" stroke-opacity="0.15" stroke-width="0.35"/>
<path d="M307.9 60.3Q306.4 64.3 304.8 68.2" stroke-opacity="0.09" stroke-width="0.35"/>
<path d="M304.8 68.2Q303.6 71.6 302.3 74.9" stroke-opacity="0.04" stroke-width="0.35"/>
<path d="M312.9 39.6Q311.2 43.3 309.4 47.1" stroke-opacity="0.07" stroke-width="0.5"/>
<path d="M309.4 47.1Q305.3 56.0 301.1 64.9" stroke-opacity="0.17" stroke-width="0.5"/>
<path d="M301.1 64.9Q298.3 70.9 295.5 76.8" stroke-opacity="0.10" stroke-width="0.5"/>
<path d="M295.5 76.8Q293.2 81.8 290.9 86.7" stroke-opacity="0.05" stroke-width="0.5"/>
<path d="M313.7 307.8Q310.4 305.3 307.6 302.2" stroke-opacity="0.06" stroke-width="0.65"/>
<path d="M307.6 302.2Q301.0 297.0 295.4 290.9" stroke-opacity="0.14" stroke-width="0.65"/>
<path d="M295.4 290.9Q291.0 287.5 287.3 283.4" stroke-opacity="0.08" stroke-width="0.65"/>
<path d="M287.3 283.4Q283.6 280.5 280.5 277.1" stroke-opacity="0.04" stroke-width="0.65"/>
<path d="M246.0 318.4Q245.3 314.3 245.2 310.1" stroke-opacity="0.15" stroke-width="0.45"/>
<path d="M245.2 310.1Q244.4 304.9 244.3 299.6" stroke-opacity="0.33" stroke-width="0.45"/>
<path d="M244.3 299.6Q243.7 296.1 243.7 292.5" stroke-opacity="0.20" stroke-width="0.45"/>
<path d="M243.7 292.5Q243.2 289.6 243.2 286.7" stroke-opacity="0.10" stroke-width="0.45"/>
<path d="M233.8 316.8Q233.8 312.7 234.5 308.6" stroke-opacity="0.09" stroke-width="0.45"/>
<path d="M234.5 308.6Q234.7 300.0 236.2 291.6" stroke-opacity="0.20" stroke-width="0.45"/>
<path d="M236.2 291.6Q236.3 285.9 237.3 280.2" stroke-opacity="0.12" stroke-width="0.45"/>
<path d="M237.3 280.2Q237.4 275.5 238.2 270.8" stroke-opacity="0.06" stroke-width="0.45"/>
<path d="M292.3 314.6Q289.5 311.5 287.2 308.0" stroke-opacity="0.06" stroke-width="0.35"/>
<path d="M287.2 308.0Q280.6 300.8 275.2 292.7" stroke-opacity="0.13" stroke-width="0.35"/>
<path d="M275.2 292.7Q270.8 287.9 267.2 282.4" stroke-opacity="0.08" stroke-width="0.35"/>
<path d="M267.2 282.4Q263.5 278.4 260.5 273.9" stroke-opacity="0.04" stroke-width="0.35"/>
<path d="M310.1 309.4Q306.9 306.6 304.3 303.4" stroke-opacity="0.09" stroke-width="0.5"/>
<path d="M304.3 303.4Q300.1 299.6 296.5 295.3" stroke-opacity="0.19" stroke-width="0.5"/>
<path d="M296.5 295.3Q293.7 292.8 291.3 289.8" stroke-opacity="0.11" stroke-width="0.5"/>
<path d="M291.3 289.8Q289.0 287.8 287.0 285.3" stroke-opacity="0.06" stroke-width="0.5"/>
<path d="M309.7 309.6Q306.7 306.7 304.2 303.4" stroke-opacity="0.10" stroke-width="0.35"/>
<path d="M304.2 303.4Q300.8 300.1 298.0 296.3" stroke-opacity="0.22" stroke-width="0.35"/>
<path d="M298.0 296.3Q295.8 294.1 293.9 291.6" stroke-opacity="0.13" stroke-width="0.35"/>
<path d="M293.9 291.6Q292.0 289.8 290.5 287.7" stroke-opacity="0.06" stroke-width="0.35"/>
<path d="M333.4 298.2Q329.8 296.1 326.6 293.4" stroke-opacity="0.18" stroke-width="0.5"/>
<path d="M326.6 293.4Q322.5 290.9 318.8 287.7" stroke-opacity="0.39" stroke-width="0.5"/>
<path d="M318.8 287.7Q316.0 286.0 313.5 283.9" stroke-opacity="0.24" stroke-width="0.5"/>
<path d="M313.5 283.9Q311.2 282.5 309.1 280.8" stroke-opacity="0.12" stroke-width="0.5"/>
<path d="M272.9 318.0Q270.8 314.4 269.2 310.5" stroke-opacity="0.15" stroke-width="0.65"/>
<path d="M269.2 310.5Q265.9 304.8 263.5 298.6" stroke-opacity="0.32" stroke-width="0.65"/>
<path d="M263.5 298.6Q261.2 294.8 259.6 290.7" stroke-opacity="0.19" stroke-width="0.65"/>
<path d="M259.6 290.7Q257.7 287.5 256.4 284.1" stroke-opacity="0.10" stroke-width="0.65"/>
<path d="M237.5 317.4Q237.2 313.2 237.5 309.1" stroke-opacity="0.14" stroke-width="0.45"/>
<path d="M237.5 309.1Q236.5 298.2 237.4 287.3" stroke-opacity="0.30" stroke-width="0.45"/>
<path d="M237.4 287.3Q236.7 280.0 237.3 272.8" stroke-opacity="0.18" stroke-width="0.45"/>
<path d="M237.3 272.8Q236.8 266.7 237.2 260.7" stroke-opacity="0.09" stroke-width="0.45"/>
<path d="M240.6 317.8Q240.1 313.7 240.3 309.5" stroke-opacity="0.13" stroke-width="0.35"/>
<path d="M240.3 309.5Q239.7 303.8 239.9 298.1" stroke-opacity="0.29" stroke-width="0.35"/>
<path d="M239.9 298.1Q239.5 294.2 239.7 290.4" stroke-opacity="0.17" stroke-width="0.35"/>
<path d="M239.7 290.4Q239.3 287.2 239.5 284.1" stroke-opacity="0.09" stroke-width="0.35"/>
<path d="M210.1 310.5Q211.0 306.4 212.4 302.5" stroke-opacity="0.07" stroke-width="0.65"/>
<path d="M212.4 302.5Q214.3 293.1 217.7 284.1" stroke-opacity="0.15" stroke-width="0.65"/>
<path d="M217.7 284.1Q219.0 277.8 221.2 271.8" stroke-opacity="0.09" stroke-width="0.65"/>
<path d="M221.2 271.8Q222.3 266.5 224.1 261.5" stroke-opacity="0.04" stroke-width="0.65"/>
<path d="M270.3 318.1Q268.2 314.5 266.6 310.7" stroke-opacity="0.13" stroke-width="0.45"/>
<path d="M266.6 310.7Q262.7 304.0 259.9 296.8" stroke-opacity="0.30" stroke-width="0.45"/>
<path d="M259.9 296.8Q257.2 292.4 255.3 287.6" stroke-opacity="0.18" stroke-width="0.45"/>
<path d="M255.3 287.6Q253.1 283.9 251.6 279.9" stroke-opacity="0.09" stroke-width="0.45"/>
<path d="M210.2 310.5Q211.0 306.4 212.5 302.5" stroke-opacity="0.17" stroke-width="0.35"/>
<path d="M212.5 302.5Q214.5 292.0 218.3 281.8" stroke-opacity="0.37" stroke-width="0.35"/>
<path d="M218.3 281.8Q219.7 274.8 222.1 268.0" stroke-opacity="0.22" stroke-width="0.35"/>
<path d="M222.1 268.0Q223.3 262.2 225.4 256.6" stroke-opacity="0.11" stroke-width="0.35"/>
<path d="M330.2 300.1Q326.7 297.8 323.6 295.0" stroke-opacity="0.17" stroke-width="0.5"/>
<path d="M323.6 295.0Q315.0 289.4 307.4 282.5" stroke-opacity="0.38" stroke-width="0.5"/>
<path d="M307.4 282.5Q301.6 278.8 296.5 274.1" stroke-opacity="0.23" stroke-width="0.5"/>
<path d="M296.5 274.1Q291.7 271.0 287.5 267.2" stroke-opacity="0.11" stroke-width="0.5"/>
<path d="M322.4 304.0Q319.0 301.6 316.1 298.7" stroke-opacity="0.11" stroke-width="0.5"/>
<path d="M316.1 298.7Q308.2 293.1 301.3 286.3" stroke-opacity="0.25" stroke-width="0.5"/>
<path d="M301.3 286.3Q296.0 282.6 291.4 278.1" stroke-opacity="0.15" stroke-width="0.5"/>
<path d="M291.4 278.1Q287.0 275.0 283.2 271.2" stroke-opacity="0.08" stroke-width="0.5"/>
<path d="M264.2 318.6Q262.5 314.9 261.4 310.8" stroke-opacity="0.14" stroke-width="0.65"/>
<path d="M261.4 310.8Q259.5 306.5 258.2 301.9" stroke-opacity="0.31" stroke-width="0.65"/>
<path d="M258.2 301.9Q256.9 299.1 256.1 296.0" stroke-opacity="0.18" stroke-width="0.65"/>
<path d="M256.1 296.0Q255.0 293.6 254.3 291.1" stroke-opacity="0.09" stroke-width="0.65"/>
<path d="M264.7 318.8Q263.3 314.9 262.5 310.8" stroke-opacity="0.13" stroke-width="0.5"/>
<path d="M262.5 310.8Q259.5 302.7 257.8 294.2" stroke-opacity="0.29" stroke-width="0.5"/>
<path d="M257.8 294.2Q255.8 288.8 254.7 283.1" stroke-opacity="0.17" stroke-width="0.5"/>
<path d="M254.7 283.1Q253.1 278.6 252.1 273.8" stroke-opacity="0.09" stroke-width="0.5"/>
<path d="M299.1 313.1Q296.4 310.0 294.2 306.4" stroke-opacity="0.10" stroke-width="0.5"/>
<path d="M294.2 306.4Q289.7 301.3 286.2 295.6" stroke-opacity="0.23" stroke-width="0.5"/>
<path d="M286.2 295.6Q283.2 292.2 280.8 288.3" stroke-opacity="0.14" stroke-width="0.5"/>
<path d="M280.8 288.3Q278.3 285.5 276.3 282.3" stroke-opacity="0.07" stroke-width="0.5"/>
<path d="M255.8 318.7Q254.4 314.8 253.6 310.7" stroke-opacity="0.17" stroke-width="0.45"/>
<path d="M253.6 310.7Q251.3 304.5 250.1 298.0" stroke-opacity="0.39" stroke-width="0.45"/>
<path d="M250.1 298.0Q248.6 293.9 247.8 289.6" stroke-opacity="0.23" stroke-width="0.45"/>
<path d="M247.8 289.6Q246.5 286.1 245.9 282.5" stroke-opacity="0.12" stroke-width="0.45"/>
<path d="M195.7 304.4Q197.7 300.7 200.1 297.4" stroke-opacity="0.17" stroke-width="0.35"/>
<path d="M200.1 297.4Q202.1 293.5 204.7 290.1" stroke-opacity="0.38" stroke-width="0.35"/>
<path d="M204.7 290.1Q206.0 287.6 207.8 285.3" stroke-opacity="0.23" stroke-width="0.35"/>
<path d="M207.8 285.3Q208.9 283.1 210.3 281.2" stroke-opacity="0.11" stroke-width="0.35"/>
<path d="M221.7 314.1Q222.2 310.0 223.3 306.0" stroke-opacity="0.08" stroke-width="0.45"/>
<path d="M223.3 306.0Q224.2 297.9 226.4 290.0" stroke-opacity="0.17" stroke-width="0.45"/>
<path d="M226.4 290.0Q227.0 284.6 228.4 279.4" stroke-opacity="0.10" stroke-width="0.45"/>
<path d="M228.4 279.4Q228.9 274.8 230.1 270.5" stroke-opacity="0.05" stroke-width="0.45"/>
<path d="M288.3 315.7Q285.8 312.4 283.9 308.7" stroke-opacity="0.11" stroke-width="0.5"/>
<path d="M283.9 308.7Q277.5 300.2 272.5 290.8" stroke-opacity="0.24" stroke-width="0.5"/>
<path d="M272.5 290.8Q268.3 285.1 265.0 278.9" stroke-opacity="0.14" stroke-width="0.5"/>
<path d="M265.0 278.9Q261.4 274.1 258.7 268.9" stroke-opacity="0.07" stroke-width="0.5"/>
<path d="M228.8 315.8Q229.0 311.7 229.8 307.6" stroke-opacity="0.15" stroke-width="0.45"/>
<path d="M229.8 307.6Q230.0 300.3 231.4 293.2" stroke-opacity="0.34" stroke-width="0.45"/>
<path d="M231.4 293.2Q231.5 288.4 232.4 283.6" stroke-opacity="0.20" stroke-width="0.45"/>
<path d="M232.4 283.6Q232.5 279.6 233.3 275.6" stroke-opacity="0.10" stroke-width="0.45"/>
<path d="M300.2 312.7Q297.4 309.7 295.1 306.2" stroke-opacity="0.07" stroke-width="0.35"/>
<path d="M295.1 306.2Q290.4 301.2 286.7 295.5" stroke-opacity="0.16" stroke-width="0.35"/>
<path d="M286.7 295.5Q283.6 292.1 281.0 288.3" stroke-opacity="0.09" stroke-width="0.35"/>
<path d="M281.0 288.3Q278.5 285.5 276.4 282.3" stroke-opacity="0.05" stroke-width="0.35"/>
<path d="M222.1 314.3Q222.7 310.1 223.8 306.1" stroke-opacity="0.09" stroke-width="0.65"/>
<path d="M223.8 306.1Q225.0 297.1 227.5 288.4" stroke-opacity="0.20" stroke-width="0.65"/>
<path d="M227.5 288.4Q228.3 282.5 230.0 276.7" stroke-opacity="0.12" stroke-width="0.65"/>
<path d="M230.0 276.7Q230.6 271.7 232.0 266.8" stroke-opacity="0.06" stroke-width="0.65"/>
<path d="M277.5 317.6Q275.4 314.0 273.9 310.1" stroke-opacity="0.17" stroke-width="0.65"/>
<path d="M273.9 310.1Q270.8 304.7 268.6 298.9" stroke-opacity="0.38" stroke-width="0.65"/>
<path d="M268.6 298.9Q266.5 295.3 265.0 291.4" stroke-opacity="0.23" stroke-width="0.65"/>
<path d="M265.0 291.4Q263.3 288.4 262.0 285.2" stroke-opacity="0.11" stroke-width="0.65"/>
<path d="M328.1 301.1Q324.5 298.9 321.4 296.2" stroke-opacity="0.06" stroke-width="0.5"/>
<path d="M321.4 296.2Q312.6 290.8 304.7 284.1" stroke-opacity="0.14" stroke-width="0.5"/>
<path d="M304.7 284.1Q298.9 280.5 293.7 276.0" stroke-opacity="0.09" stroke-width="0.5"/>
<path d="M293.7 276.0Q288.8 273.0 284.4 269.3" stroke-opacity="0.04" stroke-width="0.5"/>
<path d="M248.1 318.4Q247.0 314.4 246.5 310.2" stroke-opacity="0.13" stroke-width="0.5"/>
<path d="M246.5 310.2Q243.3 298.7 242.0 286.9" stroke-opacity="0.30" stroke-width="0.5"/>
<path d="M242.0 286.9Q239.8 279.2 238.9 271.3" stroke-opacity="0.18" stroke-width="0.5"/>
<path d="M238.9 271.3Q237.2 264.9 236.4 258.3" stroke-opacity="0.09" stroke-width="0.5"/>
<path d="M251.3 318.7Q250.2 314.7 249.8 310.5" stroke-opacity="0.11" stroke-width="0.45"/>
<path d="M249.8 310.5Q248.7 306.1 248.3 301.6" stroke-opacity="0.24" stroke-width="0.45"/>
<path d="M248.3 301.6Q247.6 298.7 247.3 295.7" stroke-opacity="0.14" stroke-width="0.45"/>
<path d="M247.3 295.7Q246.7 293.3 246.4 290.8" stroke-opacity="0.07" stroke-width="0.45"/>
<path d="M308.4 310.0Q305.3 307.2 302.6 303.9" stroke-opacity="0.14" stroke-width="0.35"/>
<path d="M302.6 303.9Q296.2 298.2 290.8 291.5" stroke-opacity="0.31" stroke-width="0.35"/>
<path d="M290.8 291.5Q286.5 287.6 282.9 283.1" stroke-opacity="0.18" stroke-width="0.35"/>
<path d="M282.9 283.1Q279.4 279.9 276.4 276.2" stroke-opacity="0.09" stroke-width="0.35"/>
<path d="M241.9 318.0Q241.5 313.9 241.8 309.7" stroke-opacity="0.07" stroke-width="0.45"/>
<path d="M241.8 309.7Q240.8 298.9 241.5 288.1" stroke-opacity="0.16" stroke-width="0.45"/>
<path d="M241.5 288.1Q240.8 280.9 241.3 273.7" stroke-opacity="0.10" stroke-width="0.45"/>
<path d="M241.3 273.7Q240.7 267.7 241.1 261.6" stroke-opacity="0.05" stroke-width="0.45"/>
<path d="M262.4 318.9Q261.0 314.9 260.2 310.8" stroke-opacity="0.12" stroke-width="0.5"/>
<path d="M260.2 310.8Q256.4 300.2 254.4 289.1" stroke-opacity="0.27" stroke-width="0.5"/>
<path d="M254.4 289.1Q251.9 282.0 250.5 274.7" stroke-opacity="0.16" stroke-width="0.5"/>
<path d="M250.5 274.7Q248.4 268.8 247.3 262.6" stroke-opacity="0.08" stroke-width="0.5"/>
<path d="M278.6 317.5Q276.6 313.9 275.2 310.0" stroke-opacity="0.11" stroke-width="0.45"/>
<path d="M275.2 310.0Q271.2 302.9 268.5 295.2" stroke-opacity="0.25" stroke-width="0.45"/>
<path d="M268.5 295.2Q265.9 290.5 264.1 285.4" stroke-opacity="0.15" stroke-width="0.45"/>
<path d="M264.1 285.4Q261.9 281.4 260.4 277.2" stroke-opacity="0.07" stroke-width="0.45"/>
<path d="M238.0 317.4Q237.5 313.2 237.6 309.1" stroke-opacity="0.14" stroke-width="0.45"/>
<path d="M237.6 309.1Q236.4 300.6 236.6 292.1" stroke-opacity="0.32" stroke-width="0.45"/>
<path d="M236.6 292.1Q235.8 286.5 236.0 280.8" stroke-opacity="0.19" stroke-width="0.45"/>
<path d="M236.0 280.8Q235.3 276.1 235.4 271.4" stroke-opacity="0.10" stroke-width="0.45"/>
<path d="M217.4 312.9Q218.0 308.8 219.3 304.8" stroke-opacity="0.16" stroke-width="0.5"/>
<path d="M219.3 304.8Q220.6 295.8 223.3 287.0" stroke-opacity="0.35" stroke-width="0.5"/>
<path d="M223.3 287.0Q224.2 281.0 226.0 275.1" stroke-opacity="0.21" stroke-width="0.5"/>
<path d="M226.0 275.1Q226.7 270.1 228.3 265.2" stroke-opacity="0.11" stroke-width="0.5"/>
<path d="M277.5 317.7Q275.6 314.0 274.2 310.1" stroke-opacity="0.09" stroke-width="0.35"/>
<path d="M274.2 310.1Q272.2 306.1 270.8 301.9" stroke-opacity="0.21" stroke-width="0.35"/>
<path d="M270.8 301.9Q269.4 299.2 268.5 296.4" stroke-opacity="0.12" stroke-width="0.35"/>
<path d="M268.5 296.4Q267.3 294.2 266.5 291.9" stroke-opacity="0.06" stroke-width="0.35"/>
<path d="M332.8 298.3Q329.1 296.4 325.7 293.9" stroke-opacity="0.15" stroke-width="0.35"/>
<path d="M325.7 293.9Q314.7 288.2 304.7 280.9" stroke-opacity="0.34" stroke-width="0.35"/>
<path d="M304.7 280.9Q297.3 277.1 290.7 272.2" stroke-opacity="0.21" stroke-width="0.35"/>
<path d="M290.7 272.2Q284.6 269.0 279.0 264.9" stroke-opacity="0.10" stroke-width="0.35"/>
<path d="M265.8 318.6Q264.0 314.8 262.9 310.8" stroke-opacity="0.14" stroke-width="0.45"/>
<path d="M262.9 310.8Q261.6 308.0 260.8 305.1" stroke-opacity="0.32" stroke-width="0.45"/>
<path d="M260.8 305.1Q260.0 303.3 259.4 301.3" stroke-opacity="0.19" stroke-width="0.45"/>
<path d="M259.4 301.3Q258.7 299.8 258.3 298.2" stroke-opacity="0.09" stroke-width="0.45"/>
<path d="M290.0 315.5Q287.6 312.1 285.8 308.3" stroke-opacity="0.12" stroke-width="0.45"/>
<path d="M285.8 308.3Q281.6 302.3 278.5 295.7" stroke-opacity="0.26" stroke-width="0.45"/>
<path d="M278.5 295.7Q275.7 291.7 273.6 287.3" stroke-opacity="0.15" stroke-width="0.45"/>
<path d="M273.6 287.3Q271.2 284.0 269.5 280.3" stroke-opacity="0.08" stroke-width="0.45"/>
<path d="M297.9 313.4Q295.2 310.3 292.9 306.7" stroke-opacity="0.08" stroke-width="0.5"/>
<path d="M292.9 306.7Q290.8 304.3 289.0 301.6" stroke-opacity="0.19" stroke-width="0.5"/>
<path d="M289.0 301.6Q287.6 300.0 286.5 298.2" stroke-opacity="0.11" stroke-width="0.5"/>
<path d="M286.5 298.2Q285.3 296.9 284.3 295.4" stroke-opacity="0.06" stroke-width="0.5"/>
<path d="M219.4 313.5Q219.8 309.3 220.9 305.3" stroke-opacity="0.11" stroke-width="0.45"/>
<path d="M220.9 305.3Q221.5 300.0 222.9 294.9" stroke-opacity="0.25" stroke-width="0.45"/>
<path d="M222.9 294.9Q223.3 291.3 224.3 287.9" stroke-opacity="0.15" stroke-width="0.45"/>
<path d="M224.3 287.9Q224.6 284.9 225.4 282.1" stroke-opacity="0.08" stroke-width="0.45"/>
<path d="M244.1 318.2Q243.5 314.1 243.7 309.9" stroke-opacity="0.09" stroke-width="0.35"/>
<path d="M243.7 309.9Q242.9 304.2 243.1 298.4" stroke-opacity="0.19" stroke-width="0.35"/>
<path d="M243.1 298.4Q242.6 294.6 242.7 290.7" stroke-opacity="0.11" stroke-width="0.35"/>
<path d="M242.7 290.7Q242.2 287.5 242.3 284.3" stroke-opacity="0.06" stroke-width="0.35"/>
<path d="M226.1 315.1Q226.0 311.0 226.6 306.8" stroke-opacity="0.12" stroke-width="0.35"/>
<path d="M226.6 306.8Q226.3 295.5 227.8 284.3" stroke-opacity="0.26" stroke-width="0.35"/>
<path d="M227.8 284.3Q227.6 276.8 228.6 269.3" stroke-opacity="0.16" stroke-width="0.35"/>
<path d="M228.6 269.3Q228.4 263.1 229.3 256.8" stroke-opacity="0.08" stroke-width="0.35"/>
<path d="M281.9 316.9Q279.6 313.4 277.9 309.6" stroke-opacity="0.11" stroke-width="0.35"/>
<path d="M277.9 309.6Q271.9 300.7 267.5 291.0" stroke-opacity="0.24" stroke-width="0.35"/>
<path d="M267.5 291.0Q263.5 285.1 260.5 278.7" stroke-opacity="0.15" stroke-width="0.35"/>
<path d="M260.5 278.7Q257.2 273.7 254.7 268.3" stroke-opacity="0.07" stroke-width="0.35"/>
<path d="M224.3 314.8Q224.8 310.7 226.0 306.7" stroke-opacity="0.13" stroke-width="0.35"/>
<path d="M226.0 306.7Q227.0 298.1 229.4 289.7" stroke-opacity="0.29" stroke-width="0.35"/>
<path d="M229.4 289.7Q230.1 283.9 231.7 278.4" stroke-opacity="0.17" stroke-width="0.35"/>
<path d="M231.7 278.4Q232.3 273.6 233.7 268.9" stroke-opacity="0.09" stroke-width="0.35"/>
<path d="M307.6 310.3Q304.6 307.4 302.1 304.1" stroke-opacity="0.06" stroke-width="0.45"/>
<path d="M302.1 304.1Q294.9 297.1 288.8 289.0" stroke-opacity="0.13" stroke-width="0.45"/>
<path d="M288.8 289.0Q283.9 284.3 279.9 278.9" stroke-opacity="0.08" stroke-width="0.45"/>
<path d="M279.9 278.9Q275.9 275.0 272.5 270.5" stroke-opacity="0.04" stroke-width="0.45"/>
<path d="M213.6 311.7Q214.3 307.6 215.6 303.7" stroke-opacity="0.05" stroke-width="0.45"/>
<path d="M215.6 303.7Q217.6 292.1 221.4 281.0" stroke-opacity="0.10" stroke-width="0.45"/>
<path d="M221.4 281.0Q222.7 273.3 225.2 265.9" stroke-opacity="0.06" stroke-width="0.45"/>
<path d="M225.2 265.9Q226.3 259.4 228.4 253.2" stroke-opacity="0.03" stroke-width="0.45"/>
<path d="M225.2 315.0Q225.4 310.8 226.3 306.8" stroke-opacity="0.10" stroke-width="0.5"/>
<path d="M226.3 306.8Q226.6 301.1 227.8 295.6" stroke-opacity="0.23" stroke-width="0.5"/>
<path d="M227.8 295.6Q228.0 291.9 228.8 288.2" stroke-opacity="0.14" stroke-width="0.5"/>
<path d="M228.8 288.2Q228.9 285.1 229.6 282.0" stroke-opacity="0.07" stroke-width="0.5"/>
<path d="M332.6 298.6Q329.0 296.5 325.7 293.9" stroke-opacity="0.11" stroke-width="0.35"/>
<path d="M325.7 293.9Q315.7 288.1 306.7 280.8" stroke-opacity="0.25" stroke-width="0.35"/>
<path d="M306.7 280.8Q300.0 277.0 294.0 272.1" stroke-opacity="0.15" stroke-width="0.35"/>
<path d="M294.0 272.1Q288.4 268.9 283.4 264.9" stroke-opacity="0.07" stroke-width="0.35"/>
<path d="M219.4 313.5Q220.0 309.4 221.3 305.4" stroke-opacity="0.10" stroke-width="0.35"/>
<path d="M221.3 305.4Q222.8 296.1 225.8 287.1" stroke-opacity="0.22" stroke-width="0.35"/>
<path d="M225.8 287.1Q226.7 280.9 228.7 274.9" stroke-opacity="0.13" stroke-width="0.35"/>
<path d="M228.7 274.9Q229.5 269.7 231.2 264.7" stroke-opacity="0.07" stroke-width="0.35"/>
<path d="M333.4 298.0Q329.7 296.0 326.5 293.5" stroke-opacity="0.18" stroke-width="0.65"/>
<path d="M326.5 293.5Q316.1 287.8 306.8 280.5" stroke-opacity="0.39" stroke-width="0.65"/>
<path d="M306.8 280.5Q299.9 276.8 293.7 271.9" stroke-opacity="0.24" stroke-width="0.65"/>
<path d="M293.7 271.9Q287.9 268.8 282.7 264.7" stroke-opacity="0.12" stroke-width="0.65"/>
<path d="M227.6 315.5Q227.7 311.4 228.4 307.3" stroke-opacity="0.17" stroke-width="0.35"/>
<path d="M228.4 307.3Q228.6 300.0 229.9 292.8" stroke-opacity="0.37" stroke-width="0.35"/>
<path d="M229.9 292.8Q230.0 288.0 230.9 283.2" stroke-opacity="0.22" stroke-width="0.35"/>
<path d="M230.9 283.2Q231.0 279.1 231.7 275.1" stroke-opacity="0.11" stroke-width="0.35"/>
<path d="M278.2 317.3Q275.9 313.8 274.1 310.1" stroke-opacity="0.16" stroke-width="0.45"/>
<path d="M274.1 310.1Q267.1 300.0 261.8 288.9" stroke-opacity="0.36" stroke-width="0.45"/>
<path d="M261.8 288.9Q257.2 282.1 253.7 274.7" stroke-opacity="0.21" stroke-width="0.45"/>
<path d="M253.7 274.7Q249.8 269.1 246.8 263.0" stroke-opacity="0.11" stroke-width="0.45"/>
<path d="M213.9 311.8Q214.4 307.6 215.6 303.6" stroke-opacity="0.08" stroke-width="0.45"/>
<path d="M215.6 303.6Q216.8 294.0 219.5 284.7" stroke-opacity="0.17" stroke-width="0.45"/>
<path d="M219.5 284.7Q220.3 278.3 222.1 272.1" stroke-opacity="0.10" stroke-width="0.45"/>
<path d="M222.1 272.1Q222.8 266.8 224.3 261.6" stroke-opacity="0.05" stroke-width="0.45"/>
<path d="M205.9 308.9Q207.1 304.9 208.9 301.2" stroke-opacity="0.06" stroke-width="0.35"/>
<path d="M208.9 301.2Q211.6 292.1 215.7 283.6" stroke-opacity="0.14" stroke-width="0.35"/>
<path d="M215.7 283.6Q217.5 277.6 220.2 271.9" stroke-opacity="0.09" stroke-width="0.35"/>
<path d="M220.2 271.9Q221.7 266.8 223.9 262.1" stroke-opacity="0.04" stroke-width="0.35"/>
<path d="M296.7 313.7Q293.9 310.6 291.8 307.0" stroke-opacity="0.17" stroke-width="0.35"/>
<path d="M291.8 307.0Q285.7 300.1 280.9 292.2" stroke-opacity="0.37" stroke-width="0.35"/>
<path d="M280.9 292.2Q276.9 287.6 273.7 282.4" stroke-opacity="0.22" stroke-width="0.35"/>
<path d="M273.7 282.4Q270.3 278.5 267.6 274.1" stroke-opacity="0.11" stroke-width="0.35"/>
<path d="M235.9 317.0Q235.3 312.9 235.4 308.7" stroke-opacity="0.16" stroke-width="0.35"/>
<path d="M235.4 308.7Q234.1 299.8 234.2 290.8" stroke-opacity="0.35" stroke-width="0.35"/>
<path d="M234.2 290.8Q233.4 284.8 233.5 278.8" stroke-opacity="0.21" stroke-width="0.35"/>
<path d="M233.5 278.8Q232.7 273.8 232.8 268.8" stroke-opacity="0.10" stroke-width="0.35"/>
<path d="M283.4 316.6Q281.0 313.2 279.1 309.4" stroke-opacity="0.16" stroke-width="0.35"/>
<path d="M279.1 309.4Q272.2 299.7 266.9 288.9" stroke-opacity="0.35" stroke-width="0.35"/>
<path d="M266.9 288.9Q262.3 282.4 258.7 275.2" stroke-opacity="0.21" stroke-width="0.35"/>
<path d="M258.7 275.2Q254.9 269.7 251.9 263.8" stroke-opacity="0.11" stroke-width="0.35"/>
<path d="M293.2 314.7Q290.7 311.4 288.7 307.7" stroke-opacity="0.07" stroke-width="0.35"/>
<path d="M288.7 307.7Q284.3 302.0 280.8 295.6" stroke-opacity="0.15" stroke-width="0.35"/>
<path d="M280.8 295.6Q277.9 291.7 275.6 287.5" stroke-opacity="0.09" stroke-width="0.35"/>
<path d="M275.6 287.5Q273.1 284.3 271.2 280.7" stroke-opacity="0.04" stroke-width="0.35"/>
<path d="M286.8 316.0Q284.4 312.7 282.5 308.9" stroke-opacity="0.10" stroke-width="0.65"/>
<path d="M282.5 308.9Q278.6 303.4 275.7 297.3" stroke-opacity="0.22" stroke-width="0.65"/>
<path d="M275.7 297.3Q273.0 293.6 271.1 289.6" stroke-opacity="0.13" stroke-width="0.65"/>
<path d="M271.1 289.6Q268.9 286.5 267.2 283.2" stroke-opacity="0.06" stroke-width="0.65"/>
<path d="M333.2 299.0Q331.9 295.0 330.6 291.1" stroke-opacity="0.03" stroke-width="0.5"/>
<path d="M330.6 291.1Q329.2 286.8 327.7 282.4" stroke-opacity="0.07" stroke-width="0.5"/>
<path d="M327.7 282.4Q326.8 279.6 325.8 276.7" stroke-opacity="0.04" stroke-width="0.5"/>
<path d="M325.8 276.7Q325.0 274.3 324.2 271.9" stroke-opacity="0.02" stroke-width="0.5"/>
<path d="M336.7 296.8Q335.3 292.9 334.0 289.0" stroke-opacity="0.09" stroke-width="0.65"/>
<path d="M334.0 289.0Q332.8 285.7 331.7 282.5" stroke-opacity="0.19" stroke-width="0.65"/>
<path d="M331.7 282.5Q330.9 280.3 330.2 278.2" stroke-opacity="0.12" stroke-width="0.65"/>
<path d="M330.2 278.2Q329.5 276.4 328.9 274.6" stroke-opacity="0.06" stroke-width="0.65"/>
<path d="M332.5 299.5Q330.8 295.7 329.2 291.9" stroke-opacity="0.08" stroke-width="0.45"/>
<path d="M329.2 291.9Q327.1 287.1 325.0 282.4" stroke-opacity="0.18" stroke-width="0.45"/>
<path d="M325.0 282.4Q323.7 279.2 322.3 276.0" stroke-opacity="0.11" stroke-width="0.45"/>
<path d="M322.3 276.0Q321.1 273.3 320.0 270.7" stroke-opacity="0.06" stroke-width="0.45"/>
<path d="M340.4 294.6Q338.5 290.9 336.7 287.2" stroke-opacity="0.06" stroke-width="0.35"/>
<path d="M336.7 287.2Q334.8 283.3 332.8 279.5" stroke-opacity="0.13" stroke-width="0.35"/>
<path d="M332.8 279.5Q331.5 276.9 330.2 274.3" stroke-opacity="0.08" stroke-width="0.35"/>
<path d="M330.2 274.3Q329.2 272.2 328.1 270.0" stroke-opacity="0.04" stroke-width="0.35"/>
<path d="M364.3 274.6Q361.0 272.2 357.6 269.7" stroke-opacity="0.04" stroke-width="0.65"/>
<path d="M357.6 269.7Q349.4 263.8 341.3 257.9" stroke-opacity="0.08" stroke-width="0.65"/>
<path d="M341.3 257.9Q335.9 254.0 330.4 250.1" stroke-opacity="0.05" stroke-width="0.65"/>
<path d="M330.4 250.1Q325.9 246.8 321.4 243.5" stroke-opacity="0.03" stroke-width="0.65"/>
<path d="M361.7 277.4Q358.5 274.6 355.4 271.9" stroke-opacity="0.04" stroke-width="0.45"/>
<path d="M355.4 271.9Q349.0 266.3 342.6 260.7" stroke-opacity="0.09" stroke-width="0.45"/>
<path d="M342.6 260.7Q338.3 256.9 334.0 253.2" stroke-opacity="0.06" stroke-width="0.45"/>
<path d="M334.0 253.2Q330.5 250.1 326.9 246.9" stroke-opacity="0.03" stroke-width="0.45"/>
<path d="M363.1 276.0Q359.9 273.3 356.8 270.5" stroke-opacity="0.09" stroke-width="0.35"/>
<path d="M356.8 270.5Q350.9 265.4 345.1 260.2" stroke-opacity="0.21" stroke-width="0.35"/>
<path d="M345.1 260.2Q341.1 256.8 337.2 253.3" stroke-opacity="0.12" stroke-width="0.35"/>
<path d="M337.2 253.3Q333.9 250.5 330.7 247.6" stroke-opacity="0.06" stroke-width="0.35"/>
<path d="M340.9 294.2Q339.2 290.5 337.4 286.7" stroke-opacity="0.08" stroke-width="0.45"/>
<path d="M337.4 286.7Q333.7 279.0 330.0 271.2" stroke-opacity="0.18" stroke-width="0.45"/>
<path d="M330.0 271.2Q327.5 266.0 325.0 260.8" stroke-opacity="0.11" stroke-width="0.45"/>
<path d="M325.0 260.8Q323.0 256.5 320.9 252.2" stroke-opacity="0.06" stroke-width="0.45"/>
<path d="M358.8 280.1Q356.1 277.0 353.5 273.8" stroke-opacity="0.05" stroke-width="0.45"/>
<path d="M353.5 273.8Q347.8 267.0 342.2 260.2" stroke-opacity="0.11" stroke-width="0.45"/>
<path d="M342.2 260.2Q338.4 255.7 334.7 251.2" stroke-opacity="0.07" stroke-width="0.45"/>
<path d="M334.7 251.2Q331.5 247.5 328.4 243.7" stroke-opacity="0.03" stroke-width="0.45"/>
<path d="M367.5 271.3Q364.3 268.6 361.2 266.0" stroke-opacity="0.05" stroke-width="0.5"/>
<path d="M361.2 266.0Q355.3 260.9 349.3 255.9" stroke-opacity="0.12" stroke-width="0.5"/>
<path d="M349.3 255.9Q345.4 252.5 341.5 249.2" stroke-opacity="0.07" stroke-width="0.5"/>
<path d="M341.5 249.2Q338.2 246.4 334.9 243.6" stroke-opacity="0.04" stroke-width="0.5"/>
<path d="M358.5 280.4Q355.9 277.2 353.3 273.9" stroke-opacity="0.10" stroke-width="0.5"/>
<path d="M353.3 273.9Q351.7 271.9 350.0 269.9" stroke-opacity="0.22" stroke-width="0.5"/>
<path d="M350.0 269.9Q349.0 268.5 347.9 267.2" stroke-opacity="0.13" stroke-width="0.5"/>
<path d="M347.9 267.2Q347.0 266.0 346.1 264.9" stroke-opacity="0.07" stroke-width="0.5"/>
<path d="M337.8 296.3Q335.9 292.6 334.1 288.9" stroke-opacity="0.05" stroke-width="0.35"/>
<path d="M334.1 288.9Q332.8 286.3 331.5 283.7" stroke-opacity="0.11" stroke-width="0.35"/>
<path d="M331.5 283.7Q330.7 282.0 329.8 280.2" stroke-opacity="0.07" stroke-width="0.35"/>
<path d="M329.8 280.2Q329.1 278.8 328.4 277.4" stroke-opacity="0.03" stroke-width="0.35"/>
<path d="M360.8 278.2Q358.1 275.0 355.5 271.8" stroke-opacity="0.10" stroke-width="0.65"/>
<path d="M355.5 271.8Q353.9 269.9 352.3 268.0" stroke-opacity="0.22" stroke-width="0.65"/>
<path d="M352.3 268.0Q351.2 266.7 350.1 265.4" stroke-opacity="0.13" stroke-width="0.65"/>
<path d="M350.1 265.4Q349.3 264.3 348.4 263.2" stroke-opacity="0.07" stroke-width="0.65"/>
<path d="M351.6 286.4Q348.8 283.3 346.0 280.3" stroke-opacity="0.03" stroke-width="0.65"/>
<path d="M346.0 280.3Q343.0 277.0 340.0 273.7" stroke-opacity="0.08" stroke-width="0.65"/>
<path d="M340.0 273.7Q338.0 271.5 336.0 269.3" stroke-opacity="0.05" stroke-width="0.65"/>
<path d="M336.0 269.3Q334.3 267.5 332.7 265.6" stroke-opacity="0.02" stroke-width="0.65"/>
<path d="M159.1 278.2Q162.9 276.4 166.6 274.7" stroke-opacity="0.04" stroke-width="0.45"/>
<path d="M166.6 274.7Q170.0 273.1 173.3 271.6" stroke-opacity="0.09" stroke-width="0.45"/>
<path d="M173.3 271.6Q175.5 270.6 177.7 269.5" stroke-opacity="0.05" stroke-width="0.45"/>
<path d="M177.7 269.5Q179.6 268.7 181.5 267.8" stroke-opacity="0.03" stroke-width="0.45"/>
<path d="M156.2 276.2Q159.5 273.6 162.7 270.9" stroke-opacity="0.06" stroke-width="0.65"/>
<path d="M162.7 270.9Q164.6 269.4 166.5 267.9" stroke-opacity="0.14" stroke-width="0.65"/>
<path d="M166.5 267.9Q167.8 266.8 169.0 265.8" stroke-opacity="0.09" stroke-width="0.65"/>
<path d="M169.0 265.8Q170.1 265.0 171.1 264.1" stroke-opacity="0.04" stroke-width="0.65"/>
<path d="M164.6 283.5Q168.1 281.3 171.7 279.1" stroke-opacity="0.08" stroke-width="0.35"/>
<path d="M171.7 279.1Q177.7 275.4 183.7 271.6" stroke-opacity="0.19" stroke-width="0.35"/>
<path d="M183.7 271.6Q187.8 269.1 191.8 266.6" stroke-opacity="0.11" stroke-width="0.35"/>
<path d="M191.8 266.6Q195.1 264.5 198.5 262.4" stroke-opacity="0.06" stroke-width="0.35"/>
<path d="M161.8 281.6Q164.8 278.6 167.7 275.7" stroke-opacity="0.04" stroke-width="0.65"/>
<path d="M167.7 275.7Q170.2 273.1 172.7 270.6" stroke-opacity="0.10" stroke-width="0.65"/>
<path d="M172.7 270.6Q174.4 268.9 176.1 267.3" stroke-opacity="0.06" stroke-width="0.65"/>
<path d="M176.1 267.3Q177.5 265.9 178.9 264.5" stroke-opacity="0.03" stroke-width="0.65"/>
<path d="M171.6 289.6Q174.5 286.6 177.4 283.6" stroke-opacity="0.09" stroke-width="0.45"/>
<path d="M177.4 283.6Q179.9 281.0 182.3 278.5" stroke-opacity="0.20" stroke-width="0.45"/>
<path d="M182.3 278.5Q184.0 276.8 185.6 275.0" stroke-opacity="0.12" stroke-width="0.45"/>
<path d="M185.6 275.0Q187.0 273.6 188.4 272.2" stroke-opacity="0.06" stroke-width="0.45"/>
<path d="M175.8 292.7Q178.0 289.2 180.2 285.6" stroke-opacity="0.11" stroke-width="0.35"/>
<path d="M180.2 285.6Q184.0 279.4 187.8 273.1" stroke-opacity="0.23" stroke-width="0.35"/>
<path d="M187.8 273.1Q190.4 269.0 193.0 264.8" stroke-opacity="0.14" stroke-width="0.35"/>
<path d="M193.0 264.8Q195.1 261.4 197.3 257.9" stroke-opacity="0.07" stroke-width="0.35"/>
<path d="M169.9 288.3Q172.9 285.4 175.9 282.5" stroke-opacity="0.07" stroke-width="0.35"/>
<path d="M175.9 282.5Q180.7 278.0 185.4 273.5" stroke-opacity="0.16" stroke-width="0.35"/>
<path d="M185.4 273.5Q188.5 270.5 191.7 267.4" stroke-opacity="0.10" stroke-width="0.35"/>
<path d="M191.7 267.4Q194.3 264.9 196.9 262.4" stroke-opacity="0.05" stroke-width="0.35"/>
<path d="M171.7 289.5Q174.9 286.8 178.1 284.1" stroke-opacity="0.06" stroke-width="0.65"/>
<path d="M178.1 284.1Q182.7 280.2 187.4 276.3" stroke-opacity="0.13" stroke-width="0.65"/>
<path d="M187.4 276.3Q190.5 273.7 193.5 271.1" stroke-opacity="0.08" stroke-width="0.65"/>
<path d="M193.5 271.1Q196.1 269.0 198.7 266.8" stroke-opacity="0.04" stroke-width="0.65"/>
</g>
<path d="M259.54 16.10A158.30 157.15 0 0 1 387.48 266.28L382.24 262.88A151.80 151.4 0 0 0 259.56 21.85Z" fill="#e41a1c"/>
<path d="M387.48 266.28A158.30 157.15 0 0 1 170.92 303.23L174.58 298.47A151.80 151.4 0 0 0 382.24 262.88Z" fill="#377eb8"/>
<path d="M170.92 303.23A158.30 157.15 0 0 1 259.54 16.10L259.56 21.85A151.80 151.4 0 0 0 174.58 298.47Z" fill="#4daf4a"/>
</g>
<defs>
<path id="pL" d="M95.60 218.81A170.5 170.5 0 0 1 106.92 97.97" fill="none"/>
<path id="pR" d="M370.37 42.99A170.8 170.8 0 0 1 426.97 137.74" fill="none"/>
<path id="pB" d="M205.70 337.12A172.6 172.6 0 0 0 334.48 328.91" fill="none"/>
</defs>
<text font-size="9.5" textLength="124.1" lengthAdjust="spacing"><textPath href="#pL" textLength="124.1" lengthAdjust="spacing">Control EC vs. low VWF ECFC</textPath></text>
<text font-size="9.5"><textPath href="#pR" textLength="112.4" lengthAdjust="spacing">All cells - high vs. low VWF</textPath></text>
<text font-size="9.5"><textPath href="#pB" textLength="132.2" lengthAdjust="spacing">Control cells - high vs. low VWF</textPath></text>
<text x="6.6" y="15.6" font-size="12.4" font-weight="bold" fill="#000" stroke="#000" stroke-width="0.3">A</text>
<text x="6.6" y="371.6" font-size="12.4" font-weight="bold" fill="#000" stroke="#000" stroke-width="0.3">B</text>
<rect x="61.85" y="414.10" width="7.6" height="36.10" fill="#e17b92"/>
<rect x="61.85" y="413.80" width="7.6" height="2.1" fill="#c9284a"/>
<rect x="74.04" y="442.26" width="7.6" height="7.94" fill="#7fa3cc"/>
<path d="M78.0 439.4h1.4v1.4h-1.4zM76.8 445.3h1.4v1.4h-1.4zM76.1 443.0h1.4v1.4h-1.4zM79.3 443.6h1.4v1.4h-1.4zM77.0 445.1h1.4v1.4h-1.4zM78.0 441.8h1.4v1.4h-1.4zM74.7 444.5h1.4v1.4h-1.4zM75.2 443.8h1.4v1.4h-1.4zM74.1 444.8h1.4v1.4h-1.4zM78.6 440.2h1.4v1.4h-1.4zM77.5 447.3h1.4v1.4h-1.4zM74.7 439.8h1.4v1.4h-1.4zM79.7 444.2h1.4v1.4h-1.4zM75.6 446.6h1.4v1.4h-1.4zM76.5 437.1h1.4v1.4h-1.4zM74.8 443.9h1.4v1.4h-1.4zM75.6 437.0h1.4v1.4h-1.4zM79.4 438.1h1.4v1.4h-1.4zM76.0 437.8h1.4v1.4h-1.4zM74.9 444.9h1.4v1.4h-1.4zM77.1 442.0h1.4v1.4h-1.4zM75.9 445.4h1.4v1.4h-1.4zM79.9 437.1h1.4v1.4h-1.4zM74.5 438.5h1.4v1.4h-1.4z" fill="#1f5a9c" fill-opacity="0.95"/>
<path d="M77.84 443.16V441.36M75.74 441.36H79.94" stroke="#222" stroke-width="0.75" fill="none"/>
<rect x="86.23" y="436.48" width="7.6" height="13.72" fill="#a6e0b4"/>
<path d="M87.4 423.6h1.4v1.4h-1.4zM89.8 443.5h1.4v1.4h-1.4zM86.9 427.3h1.4v1.4h-1.4zM87.2 432.6h1.4v1.4h-1.4zM91.2 439.7h1.4v1.4h-1.4zM90.8 435.6h1.4v1.4h-1.4zM87.3 438.4h1.4v1.4h-1.4zM86.5 438.8h1.4v1.4h-1.4zM86.5 439.9h1.4v1.4h-1.4zM90.1 437.2h1.4v1.4h-1.4zM89.3 422.6h1.4v1.4h-1.4zM87.8 421.5h1.4v1.4h-1.4zM87.3 426.3h1.4v1.4h-1.4zM90.1 442.2h1.4v1.4h-1.4zM90.7 438.3h1.4v1.4h-1.4zM91.4 427.3h1.4v1.4h-1.4zM89.9 443.5h1.4v1.4h-1.4zM87.3 431.5h1.4v1.4h-1.4zM86.4 438.2h1.4v1.4h-1.4zM90.9 423.6h1.4v1.4h-1.4zM88.7 445.5h1.4v1.4h-1.4zM90.8 429.7h1.4v1.4h-1.4zM86.3 437.5h1.4v1.4h-1.4zM91.4 441.2h1.4v1.4h-1.4zM88.2 446.9h1.4v1.4h-1.4zM91.7 429.1h1.4v1.4h-1.4zM91.8 434.9h1.4v1.4h-1.4zM89.3 440.2h1.4v1.4h-1.4zM86.0 436.2h1.4v1.4h-1.4zM92.1 426.8h1.4v1.4h-1.4z" fill="#3fb862" fill-opacity="0.95"/>
<path d="M90.03 437.75V435.22M87.93 435.22H92.13" stroke="#222" stroke-width="0.75" fill="none"/>
<rect x="98.42" y="432.51" width="7.6" height="17.69" fill="#b48cc6"/>
<path d="M98.3 434.8h1.4v1.4h-1.4zM104.7 428.4h1.4v1.4h-1.4zM99.6 438.5h1.4v1.4h-1.4zM99.4 440.3h1.4v1.4h-1.4zM98.8 429.3h1.4v1.4h-1.4zM99.8 436.6h1.4v1.4h-1.4zM103.7 440.9h1.4v1.4h-1.4zM98.3 436.5h1.4v1.4h-1.4zM98.8 433.0h1.4v1.4h-1.4zM102.9 448.0h1.4v1.4h-1.4zM99.4 434.1h1.4v1.4h-1.4zM98.2 435.3h1.4v1.4h-1.4zM102.2 434.2h1.4v1.4h-1.4zM102.0 442.1h1.4v1.4h-1.4zM101.7 431.3h1.4v1.4h-1.4zM102.9 429.6h1.4v1.4h-1.4zM98.8 428.5h1.4v1.4h-1.4zM104.0 437.4h1.4v1.4h-1.4zM103.0 431.4h1.4v1.4h-1.4zM98.4 436.3h1.4v1.4h-1.4zM99.0 430.7h1.4v1.4h-1.4zM101.5 444.2h1.4v1.4h-1.4zM101.5 428.4h1.4v1.4h-1.4zM100.0 426.0h1.4v1.4h-1.4zM98.9 434.5h1.4v1.4h-1.4zM100.9 434.2h1.4v1.4h-1.4zM99.1 434.0h1.4v1.4h-1.4zM102.1 433.9h1.4v1.4h-1.4zM103.7 413.4h1.4v1.4h-1.4zM99.4 405.8h1.4v1.4h-1.4zM102.0 382.0h1.4v1.4h-1.4zM103.0 417.7h1.4v1.4h-1.4z" fill="#7a3a96" fill-opacity="0.95"/>
<path d="M102.22 434.32V430.71M100.12 430.71H104.32" stroke="#222" stroke-width="0.75" fill="none"/>
<rect x="110.61" y="431.07" width="7.6" height="19.13" fill="#fcc77c"/>
<path d="M113.2 440.8h1.4v1.4h-1.4zM114.6 429.8h1.4v1.4h-1.4zM112.8 427.6h1.4v1.4h-1.4zM113.9 436.1h1.4v1.4h-1.4zM110.8 435.6h1.4v1.4h-1.4zM113.3 429.6h1.4v1.4h-1.4zM113.7 434.0h1.4v1.4h-1.4zM110.5 436.0h1.4v1.4h-1.4zM111.3 427.5h1.4v1.4h-1.4zM116.9 430.6h1.4v1.4h-1.4zM115.6 437.0h1.4v1.4h-1.4zM116.7 439.0h1.4v1.4h-1.4zM114.6 437.1h1.4v1.4h-1.4zM115.8 435.4h1.4v1.4h-1.4zM116.3 426.1h1.4v1.4h-1.4zM116.3 430.2h1.4v1.4h-1.4zM110.5 428.2h1.4v1.4h-1.4zM114.7 430.0h1.4v1.4h-1.4zM112.1 429.5h1.4v1.4h-1.4zM114.9 444.5h1.4v1.4h-1.4zM112.2 434.1h1.4v1.4h-1.4zM114.0 427.0h1.4v1.4h-1.4zM116.6 427.7h1.4v1.4h-1.4zM114.5 438.8h1.4v1.4h-1.4zM112.2 413.4h1.4v1.4h-1.4zM113.8 402.2h1.4v1.4h-1.4zM113.3 425.7h1.4v1.4h-1.4zM116.8 425.0h1.4v1.4h-1.4zM112.3 426.4h1.4v1.4h-1.4z" fill="#f7981d" fill-opacity="0.95"/>
<path d="M114.41 432.87V429.26M112.31 429.26H116.51" stroke="#222" stroke-width="0.75" fill="none"/>
<rect x="122.80" y="429.98" width="7.6" height="20.22" fill="#9aa3ae"/>
<path d="M125.6 433.4h1.4v1.4h-1.4zM127.4 426.1h1.4v1.4h-1.4zM124.5 438.7h1.4v1.4h-1.4zM125.2 427.3h1.4v1.4h-1.4zM126.3 415.1h1.4v1.4h-1.4zM125.1 429.0h1.4v1.4h-1.4zM124.7 434.3h1.4v1.4h-1.4zM127.9 430.0h1.4v1.4h-1.4zM128.3 428.6h1.4v1.4h-1.4zM125.9 437.7h1.4v1.4h-1.4zM125.5 438.6h1.4v1.4h-1.4zM123.8 438.3h1.4v1.4h-1.4zM124.6 433.6h1.4v1.4h-1.4zM123.5 431.2h1.4v1.4h-1.4zM126.4 433.8h1.4v1.4h-1.4zM126.5 434.9h1.4v1.4h-1.4zM123.1 440.0h1.4v1.4h-1.4zM128.8 428.4h1.4v1.4h-1.4zM124.7 420.5h1.4v1.4h-1.4zM128.2 427.0h1.4v1.4h-1.4zM128.2 427.8h1.4v1.4h-1.4zM129.0 426.0h1.4v1.4h-1.4zM123.9 436.1h1.4v1.4h-1.4zM125.4 424.5h1.4v1.4h-1.4zM128.7 430.1h1.4v1.4h-1.4zM122.6 428.3h1.4v1.4h-1.4zM122.8 426.9h1.4v1.4h-1.4zM126.3 429.9h1.4v1.4h-1.4zM125.9 433.2h1.4v1.4h-1.4zM128.8 434.9h1.4v1.4h-1.4zM127.8 435.5h1.4v1.4h-1.4zM126.2 429.1h1.4v1.4h-1.4zM129.3 431.6h1.4v1.4h-1.4zM126.0 427.5h1.4v1.4h-1.4zM126.0 444.9h1.4v1.4h-1.4zM127.2 432.3h1.4v1.4h-1.4zM125.1 419.7h1.4v1.4h-1.4zM124.9 435.0h1.4v1.4h-1.4zM126.5 428.1h1.4v1.4h-1.4zM124.9 429.5h1.4v1.4h-1.4zM128.9 433.9h1.4v1.4h-1.4zM127.1 412.3h1.4v1.4h-1.4zM126.1 433.6h1.4v1.4h-1.4zM123.2 422.7h1.4v1.4h-1.4zM125.0 437.4h1.4v1.4h-1.4zM125.2 441.0h1.4v1.4h-1.4zM126.3 419.3h1.4v1.4h-1.4zM126.4 430.5h1.4v1.4h-1.4zM128.5 441.2h1.4v1.4h-1.4zM129.1 431.5h1.4v1.4h-1.4zM125.8 430.5h1.4v1.4h-1.4zM125.5 423.8h1.4v1.4h-1.4zM126.7 439.1h1.4v1.4h-1.4zM129.3 435.4h1.4v1.4h-1.4zM124.8 414.8h1.4v1.4h-1.4zM126.1 423.7h1.4v1.4h-1.4zM128.0 437.5h1.4v1.4h-1.4zM123.7 432.6h1.4v1.4h-1.4zM124.7 432.3h1.4v1.4h-1.4zM129.2 425.4h1.4v1.4h-1.4zM128.1 426.8h1.4v1.4h-1.4zM126.0 420.2h1.4v1.4h-1.4zM123.3 421.2h1.4v1.4h-1.4zM128.6 429.0h1.4v1.4h-1.4zM127.2 423.7h1.4v1.4h-1.4zM128.1 423.6h1.4v1.4h-1.4zM129.2 423.1h1.4v1.4h-1.4zM128.5 429.8h1.4v1.4h-1.4zM125.4 422.3h1.4v1.4h-1.4zM123.6 424.5h1.4v1.4h-1.4zM124.5 417.4h1.4v1.4h-1.4zM126.0 438.4h1.4v1.4h-1.4zM125.9 419.4h1.4v1.4h-1.4zM123.8 446.0h1.4v1.4h-1.4zM123.7 422.9h1.4v1.4h-1.4zM126.8 427.5h1.4v1.4h-1.4zM126.6 429.4h1.4v1.4h-1.4zM124.9 414.6h1.4v1.4h-1.4zM129.3 427.8h1.4v1.4h-1.4zM126.8 430.9h1.4v1.4h-1.4zM122.8 422.4h1.4v1.4h-1.4zM125.3 419.3h1.4v1.4h-1.4zM127.9 427.0h1.4v1.4h-1.4zM124.6 431.7h1.4v1.4h-1.4zM127.2 430.3h1.4v1.4h-1.4z" fill="#4f5f72" fill-opacity="0.95"/>
<path d="M126.60 430.89V429.08M124.50 429.08H128.70" stroke="#222" stroke-width="0.75" fill="none"/>
<rect x="134.99" y="429.26" width="7.6" height="20.94" fill="#93d0f0"/>
<path d="M135.8 441.8h1.4v1.4h-1.4zM136.5 432.4h1.4v1.4h-1.4zM135.4 423.2h1.4v1.4h-1.4zM140.8 428.1h1.4v1.4h-1.4zM138.6 426.7h1.4v1.4h-1.4zM137.1 434.4h1.4v1.4h-1.4zM137.7 429.4h1.4v1.4h-1.4zM137.3 428.6h1.4v1.4h-1.4zM135.1 433.1h1.4v1.4h-1.4zM140.7 427.1h1.4v1.4h-1.4zM138.7 428.9h1.4v1.4h-1.4zM141.2 416.3h1.4v1.4h-1.4zM137.7 428.3h1.4v1.4h-1.4zM138.9 430.6h1.4v1.4h-1.4zM136.4 436.3h1.4v1.4h-1.4zM135.0 435.4h1.4v1.4h-1.4zM141.0 425.0h1.4v1.4h-1.4zM140.5 436.7h1.4v1.4h-1.4zM136.8 436.9h1.4v1.4h-1.4zM140.8 435.0h1.4v1.4h-1.4zM140.2 429.0h1.4v1.4h-1.4zM136.8 423.6h1.4v1.4h-1.4zM138.8 427.7h1.4v1.4h-1.4zM141.2 424.0h1.4v1.4h-1.4zM138.1 438.2h1.4v1.4h-1.4zM141.1 440.8h1.4v1.4h-1.4zM136.3 424.8h1.4v1.4h-1.4zM137.3 432.0h1.4v1.4h-1.4zM139.6 425.9h1.4v1.4h-1.4zM136.2 431.5h1.4v1.4h-1.4zM136.9 404.4h1.4v1.4h-1.4zM140.3 413.4h1.4v1.4h-1.4z" fill="#2aa2e0" fill-opacity="0.95"/>
<path d="M138.79 430.71V427.82M136.69 427.82H140.89" stroke="#222" stroke-width="0.75" fill="none"/>
<rect x="147.18" y="426.37" width="7.6" height="23.83" fill="#fbc47a"/>
<path d="M150.7 428.0h1.4v1.4h-1.4zM149.0 421.0h1.4v1.4h-1.4zM149.5 433.7h1.4v1.4h-1.4zM147.5 435.9h1.4v1.4h-1.4zM148.1 430.7h1.4v1.4h-1.4zM152.7 435.4h1.4v1.4h-1.4zM149.1 413.5h1.4v1.4h-1.4zM151.4 432.4h1.4v1.4h-1.4zM147.6 426.4h1.4v1.4h-1.4zM150.7 438.1h1.4v1.4h-1.4zM149.3 427.0h1.4v1.4h-1.4zM150.3 430.1h1.4v1.4h-1.4zM148.9 429.7h1.4v1.4h-1.4zM147.3 440.4h1.4v1.4h-1.4zM149.0 437.7h1.4v1.4h-1.4zM148.4 420.0h1.4v1.4h-1.4zM147.7 430.9h1.4v1.4h-1.4zM151.8 433.7h1.4v1.4h-1.4zM148.8 435.3h1.4v1.4h-1.4zM149.6 432.6h1.4v1.4h-1.4zM153.1 433.9h1.4v1.4h-1.4zM152.1 442.4h1.4v1.4h-1.4zM152.9 424.3h1.4v1.4h-1.4zM152.7 431.1h1.4v1.4h-1.4zM147.8 436.5h1.4v1.4h-1.4zM148.8 423.3h1.4v1.4h-1.4zM147.1 439.1h1.4v1.4h-1.4zM151.5 433.0h1.4v1.4h-1.4zM151.4 419.7h1.4v1.4h-1.4zM149.3 437.6h1.4v1.4h-1.4zM149.7 428.8h1.4v1.4h-1.4zM151.4 419.7h1.4v1.4h-1.4zM151.6 420.6h1.4v1.4h-1.4zM148.6 436.4h1.4v1.4h-1.4zM152.6 430.8h1.4v1.4h-1.4zM149.3 422.9h1.4v1.4h-1.4zM151.2 430.3h1.4v1.4h-1.4zM148.1 414.4h1.4v1.4h-1.4zM147.7 434.8h1.4v1.4h-1.4zM153.1 414.9h1.4v1.4h-1.4zM151.9 427.5h1.4v1.4h-1.4zM151.7 434.2h1.4v1.4h-1.4zM147.2 428.6h1.4v1.4h-1.4zM147.2 437.4h1.4v1.4h-1.4zM148.0 423.3h1.4v1.4h-1.4zM148.2 433.2h1.4v1.4h-1.4zM148.9 417.4h1.4v1.4h-1.4zM149.5 425.9h1.4v1.4h-1.4zM147.1 430.5h1.4v1.4h-1.4zM149.0 433.6h1.4v1.4h-1.4zM151.2 425.5h1.4v1.4h-1.4zM148.1 434.6h1.4v1.4h-1.4zM152.6 418.4h1.4v1.4h-1.4zM150.8 437.8h1.4v1.4h-1.4zM151.8 427.4h1.4v1.4h-1.4zM148.6 426.8h1.4v1.4h-1.4zM149.8 432.9h1.4v1.4h-1.4zM151.5 421.6h1.4v1.4h-1.4zM149.3 430.1h1.4v1.4h-1.4zM146.9 424.4h1.4v1.4h-1.4z" fill="#f68b1c" fill-opacity="0.95"/>
<path d="M150.98 427.46V425.29M148.88 425.29H153.08" stroke="#222" stroke-width="0.75" fill="none"/>
<rect x="159.37" y="425.65" width="7.6" height="24.55" fill="#7fbfa3"/>
<path d="M165.7 421.6h1.4v1.4h-1.4zM163.4 422.9h1.4v1.4h-1.4zM162.8 432.0h1.4v1.4h-1.4zM160.8 440.1h1.4v1.4h-1.4zM159.5 421.1h1.4v1.4h-1.4zM161.5 426.0h1.4v1.4h-1.4zM161.9 439.8h1.4v1.4h-1.4zM160.4 433.0h1.4v1.4h-1.4zM161.2 437.0h1.4v1.4h-1.4zM160.0 422.6h1.4v1.4h-1.4zM163.9 433.9h1.4v1.4h-1.4zM163.6 419.3h1.4v1.4h-1.4zM160.7 423.5h1.4v1.4h-1.4zM160.7 438.0h1.4v1.4h-1.4zM162.6 424.5h1.4v1.4h-1.4zM162.1 429.8h1.4v1.4h-1.4zM165.4 423.5h1.4v1.4h-1.4zM161.5 421.7h1.4v1.4h-1.4zM161.1 432.1h1.4v1.4h-1.4zM165.1 437.8h1.4v1.4h-1.4zM160.0 418.1h1.4v1.4h-1.4zM162.9 429.2h1.4v1.4h-1.4zM161.3 418.7h1.4v1.4h-1.4zM164.6 424.6h1.4v1.4h-1.4zM162.8 423.7h1.4v1.4h-1.4zM164.2 421.7h1.4v1.4h-1.4zM160.2 425.7h1.4v1.4h-1.4zM163.6 428.6h1.4v1.4h-1.4zM163.1 439.4h1.4v1.4h-1.4zM162.2 424.5h1.4v1.4h-1.4zM164.3 429.1h1.4v1.4h-1.4zM164.7 427.6h1.4v1.4h-1.4zM159.8 418.8h1.4v1.4h-1.4zM161.0 436.4h1.4v1.4h-1.4zM161.5 423.2h1.4v1.4h-1.4zM160.5 440.0h1.4v1.4h-1.4zM159.5 424.4h1.4v1.4h-1.4zM161.0 422.3h1.4v1.4h-1.4zM160.4 432.6h1.4v1.4h-1.4zM163.8 427.0h1.4v1.4h-1.4zM162.2 408.7h1.4v1.4h-1.4zM160.1 402.6h1.4v1.4h-1.4zM161.4 399.0h1.4v1.4h-1.4zM162.3 395.4h1.4v1.4h-1.4zM161.6 391.7h1.4v1.4h-1.4z" fill="#178a5a" fill-opacity="0.95"/>
<path d="M163.17 427.46V423.85M161.07 423.85H165.27" stroke="#222" stroke-width="0.75" fill="none"/>
<rect x="171.56" y="424.21" width="7.6" height="25.99" fill="#b9b2e2"/>
<path d="M175.6 433.2h1.4v1.4h-1.4zM175.5 436.6h1.4v1.4h-1.4zM177.6 440.5h1.4v1.4h-1.4zM175.7 413.4h1.4v1.4h-1.4zM173.0 421.8h1.4v1.4h-1.4zM172.9 436.1h1.4v1.4h-1.4zM172.2 422.4h1.4v1.4h-1.4zM171.4 414.5h1.4v1.4h-1.4zM176.5 425.1h1.4v1.4h-1.4zM177.0 435.1h1.4v1.4h-1.4zM173.3 426.3h1.4v1.4h-1.4zM172.5 427.2h1.4v1.4h-1.4zM175.6 432.6h1.4v1.4h-1.4zM177.0 425.4h1.4v1.4h-1.4zM177.6 440.8h1.4v1.4h-1.4zM172.4 417.4h1.4v1.4h-1.4zM176.4 402.6h1.4v1.4h-1.4zM176.6 397.2h1.4v1.4h-1.4zM176.1 396.1h1.4v1.4h-1.4z" fill="#7a6ec4" fill-opacity="0.95"/>
<path d="M175.36 426.74V421.68M173.26 421.68H177.46" stroke="#222" stroke-width="0.75" fill="none"/>
<rect x="183.75" y="422.04" width="7.6" height="28.16" fill="#cbc4ea"/>
<path d="M184.5 428.0h1.4v1.4h-1.4zM185.5 431.1h1.4v1.4h-1.4zM187.4 420.0h1.4v1.4h-1.4zM184.0 428.1h1.4v1.4h-1.4zM188.1 427.2h1.4v1.4h-1.4zM184.6 424.2h1.4v1.4h-1.4zM186.5 427.2h1.4v1.4h-1.4zM190.0 419.9h1.4v1.4h-1.4zM184.1 429.8h1.4v1.4h-1.4zM183.7 436.0h1.4v1.4h-1.4zM186.4 424.0h1.4v1.4h-1.4zM184.7 423.1h1.4v1.4h-1.4zM188.4 420.2h1.4v1.4h-1.4zM183.5 422.0h1.4v1.4h-1.4zM189.2 418.3h1.4v1.4h-1.4zM189.3 417.1h1.4v1.4h-1.4zM188.8 425.1h1.4v1.4h-1.4zM186.3 425.0h1.4v1.4h-1.4zM185.5 408.0h1.4v1.4h-1.4zM187.8 404.4h1.4v1.4h-1.4zM186.9 400.8h1.4v1.4h-1.4z" fill="#9a8ed4" fill-opacity="0.95"/>
<path d="M187.55 423.85V420.24M185.45 420.24H189.65" stroke="#222" stroke-width="0.75" fill="none"/>
<rect x="195.94" y="422.04" width="7.6" height="28.16" fill="#e58496"/>
<path d="M201.8 427.9h1.4v1.4h-1.4zM201.5 429.5h1.4v1.4h-1.4zM202.3 427.6h1.4v1.4h-1.4zM202.2 424.0h1.4v1.4h-1.4zM199.9 421.8h1.4v1.4h-1.4zM201.2 420.4h1.4v1.4h-1.4zM196.0 433.6h1.4v1.4h-1.4zM200.2 430.4h1.4v1.4h-1.4zM199.8 427.5h1.4v1.4h-1.4zM197.7 425.5h1.4v1.4h-1.4zM199.5 429.3h1.4v1.4h-1.4zM202.1 432.7h1.4v1.4h-1.4zM198.9 436.2h1.4v1.4h-1.4zM200.0 429.8h1.4v1.4h-1.4zM197.7 427.2h1.4v1.4h-1.4zM198.0 418.5h1.4v1.4h-1.4zM201.4 411.6h1.4v1.4h-1.4zM196.2 410.5h1.4v1.4h-1.4zM197.2 409.8h1.4v1.4h-1.4zM200.1 409.1h1.4v1.4h-1.4zM198.7 411.2h1.4v1.4h-1.4zM196.6 409.4h1.4v1.4h-1.4z" fill="#cf2f4c" fill-opacity="0.95"/>
<path d="M199.74 423.85V420.24M197.64 420.24H201.84" stroke="#222" stroke-width="0.75" fill="none"/>
<rect x="208.13" y="420.60" width="7.6" height="29.60" fill="#8fb3d6"/>
<path d="M211.7 420.5h1.4v1.4h-1.4zM208.6 423.7h1.4v1.4h-1.4zM211.3 421.3h1.4v1.4h-1.4zM211.8 423.2h1.4v1.4h-1.4zM208.4 421.9h1.4v1.4h-1.4zM210.6 421.5h1.4v1.4h-1.4zM208.3 423.4h1.4v1.4h-1.4zM210.8 428.0h1.4v1.4h-1.4zM213.7 426.6h1.4v1.4h-1.4zM211.6 417.1h1.4v1.4h-1.4zM212.7 421.7h1.4v1.4h-1.4zM213.0 428.0h1.4v1.4h-1.4zM208.6 417.6h1.4v1.4h-1.4zM214.6 425.4h1.4v1.4h-1.4zM212.7 428.4h1.4v1.4h-1.4zM208.5 421.9h1.4v1.4h-1.4zM213.5 425.4h1.4v1.4h-1.4zM210.5 422.3h1.4v1.4h-1.4zM209.0 421.6h1.4v1.4h-1.4zM214.4 425.8h1.4v1.4h-1.4zM211.6 405.8h1.4v1.4h-1.4zM212.9 405.8h1.4v1.4h-1.4z" fill="#326fae" fill-opacity="0.95"/>
<path d="M211.93 422.04V419.15M209.83 419.15H214.03" stroke="#222" stroke-width="0.75" fill="none"/>
<rect x="220.32" y="418.07" width="7.6" height="32.13" fill="#b3e8ba"/>
<path d="M222.1 428.2h1.4v1.4h-1.4zM224.8 418.6h1.4v1.4h-1.4zM222.9 430.6h1.4v1.4h-1.4zM226.1 426.0h1.4v1.4h-1.4zM224.2 423.7h1.4v1.4h-1.4zM226.0 432.8h1.4v1.4h-1.4zM223.8 420.7h1.4v1.4h-1.4zM226.3 426.4h1.4v1.4h-1.4zM225.6 409.8h1.4v1.4h-1.4zM221.4 409.8h1.4v1.4h-1.4zM224.9 409.8h1.4v1.4h-1.4z" fill="#5fcb70" fill-opacity="0.95"/>
<path d="M224.12 420.24V415.90M222.02 415.90H226.22" stroke="#222" stroke-width="0.75" fill="none"/>
<rect x="232.51" y="418.79" width="7.6" height="31.41" fill="#bb95c8"/>
<path d="M233.0 421.1h1.4v1.4h-1.4zM237.7 415.7h1.4v1.4h-1.4zM233.5 417.0h1.4v1.4h-1.4zM236.0 414.6h1.4v1.4h-1.4zM234.2 424.5h1.4v1.4h-1.4zM236.9 420.7h1.4v1.4h-1.4zM234.8 416.1h1.4v1.4h-1.4zM233.2 411.6h1.4v1.4h-1.4zM238.2 416.4h1.4v1.4h-1.4zM235.9 426.6h1.4v1.4h-1.4zM236.9 418.0h1.4v1.4h-1.4zM237.7 425.0h1.4v1.4h-1.4zM238.7 418.7h1.4v1.4h-1.4zM232.3 415.0h1.4v1.4h-1.4zM234.5 424.7h1.4v1.4h-1.4zM233.2 412.3h1.4v1.4h-1.4zM235.6 417.0h1.4v1.4h-1.4zM238.1 422.2h1.4v1.4h-1.4zM237.7 423.2h1.4v1.4h-1.4zM232.5 419.8h1.4v1.4h-1.4zM233.4 414.4h1.4v1.4h-1.4zM237.8 418.3h1.4v1.4h-1.4zM236.8 424.7h1.4v1.4h-1.4zM234.9 427.5h1.4v1.4h-1.4zM235.5 401.5h1.4v1.4h-1.4zM233.6 404.4h1.4v1.4h-1.4z" fill="#84449c" fill-opacity="0.95"/>
<path d="M236.31 420.24V417.35M234.21 417.35H238.41" stroke="#222" stroke-width="0.75" fill="none"/>
<text x="77.84" y="434.70" font-size="7.9" text-anchor="middle" fill="#000">****</text>
<text x="90.03" y="420.90" font-size="7.9" text-anchor="middle" fill="#000">***</text>
<text x="102.22" y="381.60" font-size="7.9" text-anchor="middle" fill="#000">****</text>
<text x="114.41" y="402.90" font-size="7.9" text-anchor="middle" fill="#000">****</text>
<text x="126.60" y="410.30" font-size="7.9" text-anchor="middle" fill="#000">****</text>
<text x="138.79" y="405.30" font-size="7.9" text-anchor="middle" fill="#000">****</text>
<text x="150.98" y="410.30" font-size="7.9" text-anchor="middle" fill="#000">****</text>
<text x="163.17" y="393.30" font-size="7.9" text-anchor="middle" fill="#000">**</text>
<text x="175.36" y="395.30" font-size="7.9" text-anchor="middle" fill="#000">*</text>
<rect x="329.55" y="431.45" width="7.6" height="20.55" fill="#e17b92"/>
<rect x="329.55" y="431.15" width="7.6" height="2.1" fill="#c9284a"/>
<rect x="341.77" y="447.89" width="7.6" height="4.11" fill="#7fa3cc"/>
<path d="M346.0 444.8h1.4v1.4h-1.4zM343.3 447.5h1.4v1.4h-1.4zM343.3 444.6h1.4v1.4h-1.4zM344.9 446.4h1.4v1.4h-1.4zM343.3 449.6h1.4v1.4h-1.4zM345.3 447.9h1.4v1.4h-1.4zM345.1 448.5h1.4v1.4h-1.4zM348.0 444.3h1.4v1.4h-1.4zM348.2 446.6h1.4v1.4h-1.4zM341.7 450.0h1.4v1.4h-1.4zM345.3 448.8h1.4v1.4h-1.4zM346.7 447.7h1.4v1.4h-1.4zM347.4 447.2h1.4v1.4h-1.4zM346.7 446.6h1.4v1.4h-1.4zM345.8 447.6h1.4v1.4h-1.4zM345.8 447.7h1.4v1.4h-1.4zM343.9 450.8h1.4v1.4h-1.4zM343.4 446.6h1.4v1.4h-1.4zM346.9 447.8h1.4v1.4h-1.4zM347.4 450.4h1.4v1.4h-1.4zM347.9 447.2h1.4v1.4h-1.4zM346.1 442.9h1.4v1.4h-1.4zM343.5 450.0h1.4v1.4h-1.4zM346.7 449.0h1.4v1.4h-1.4zM346.3 439.0h1.4v1.4h-1.4zM344.9 428.7h1.4v1.4h-1.4z" fill="#1f5a9c" fill-opacity="0.95"/>
<path d="M345.57 448.71V447.07M343.47 447.07H347.67" stroke="#222" stroke-width="0.75" fill="none"/>
<rect x="353.99" y="418.09" width="7.6" height="33.91" fill="#a6e0b4"/>
<path d="M354.2 442.5h1.4v1.4h-1.4zM354.9 444.7h1.4v1.4h-1.4zM357.6 443.2h1.4v1.4h-1.4zM360.4 444.3h1.4v1.4h-1.4zM356.1 448.0h1.4v1.4h-1.4zM359.0 444.8h1.4v1.4h-1.4zM356.6 444.9h1.4v1.4h-1.4zM359.6 437.1h1.4v1.4h-1.4zM354.2 443.7h1.4v1.4h-1.4zM357.0 444.6h1.4v1.4h-1.4zM359.8 445.6h1.4v1.4h-1.4zM355.6 445.7h1.4v1.4h-1.4zM355.4 444.7h1.4v1.4h-1.4zM353.8 446.8h1.4v1.4h-1.4zM354.8 449.5h1.4v1.4h-1.4zM355.5 439.8h1.4v1.4h-1.4zM358.5 443.9h1.4v1.4h-1.4zM355.2 444.0h1.4v1.4h-1.4zM356.4 443.0h1.4v1.4h-1.4zM355.1 445.1h1.4v1.4h-1.4zM357.8 446.4h1.4v1.4h-1.4zM359.6 447.8h1.4v1.4h-1.4zM358.1 445.1h1.4v1.4h-1.4zM355.0 445.0h1.4v1.4h-1.4zM358.7 441.6h1.4v1.4h-1.4zM360.2 443.2h1.4v1.4h-1.4zM357.8 438.6h1.4v1.4h-1.4zM354.2 444.8h1.4v1.4h-1.4zM359.2 438.9h1.4v1.4h-1.4zM359.6 442.9h1.4v1.4h-1.4zM356.1 379.8h1.4v1.4h-1.4zM354.9 385.7h1.4v1.4h-1.4zM355.2 399.9h1.4v1.4h-1.4zM357.3 399.7h1.4v1.4h-1.4zM359.3 400.1h1.4v1.4h-1.4zM357.9 399.5h1.4v1.4h-1.4zM359.6 410.2h1.4v1.4h-1.4zM355.4 426.6h1.4v1.4h-1.4zM356.1 422.5h1.4v1.4h-1.4zM358.6 417.4h1.4v1.4h-1.4zM358.0 413.3h1.4v1.4h-1.4zM356.5 431.8h1.4v1.4h-1.4zM358.2 429.7h1.4v1.4h-1.4z" fill="#3fb862" fill-opacity="0.95"/>
<path d="M357.79 425.29V410.90M355.69 410.90H359.89" stroke="#222" stroke-width="0.75" fill="none"/>
<rect x="366.21" y="441.73" width="7.6" height="10.27" fill="#b48cc6"/>
<path d="M368.8 444.2h1.4v1.4h-1.4zM369.6 448.4h1.4v1.4h-1.4zM369.9 443.4h1.4v1.4h-1.4zM369.7 448.7h1.4v1.4h-1.4zM370.4 441.6h1.4v1.4h-1.4zM370.0 444.2h1.4v1.4h-1.4zM368.2 442.7h1.4v1.4h-1.4zM370.9 441.8h1.4v1.4h-1.4zM367.7 445.1h1.4v1.4h-1.4zM370.7 443.0h1.4v1.4h-1.4zM371.1 449.9h1.4v1.4h-1.4zM371.2 438.4h1.4v1.4h-1.4zM368.0 442.1h1.4v1.4h-1.4zM371.2 436.9h1.4v1.4h-1.4zM372.6 448.4h1.4v1.4h-1.4zM369.0 441.7h1.4v1.4h-1.4zM367.8 440.8h1.4v1.4h-1.4zM369.5 444.3h1.4v1.4h-1.4zM372.3 447.6h1.4v1.4h-1.4zM366.8 446.5h1.4v1.4h-1.4zM366.0 446.7h1.4v1.4h-1.4zM369.1 440.4h1.4v1.4h-1.4zM370.4 447.6h1.4v1.4h-1.4zM371.2 439.9h1.4v1.4h-1.4zM368.5 430.8h1.4v1.4h-1.4zM372.2 425.6h1.4v1.4h-1.4zM367.7 418.4h1.4v1.4h-1.4zM370.8 410.2h1.4v1.4h-1.4z" fill="#7a3a96" fill-opacity="0.95"/>
<path d="M370.01 442.96V440.49M367.91 440.49H372.11" stroke="#222" stroke-width="0.75" fill="none"/>
<rect x="378.43" y="438.64" width="7.6" height="13.36" fill="#fcc77c"/>
<path d="M384.3 447.0h1.4v1.4h-1.4zM378.9 448.9h1.4v1.4h-1.4zM383.1 446.0h1.4v1.4h-1.4zM378.6 447.8h1.4v1.4h-1.4zM382.5 441.1h1.4v1.4h-1.4zM380.9 440.5h1.4v1.4h-1.4zM384.0 445.1h1.4v1.4h-1.4zM378.5 436.8h1.4v1.4h-1.4zM382.0 442.6h1.4v1.4h-1.4zM380.9 445.7h1.4v1.4h-1.4zM384.4 445.2h1.4v1.4h-1.4zM384.6 438.9h1.4v1.4h-1.4zM382.4 437.1h1.4v1.4h-1.4zM379.7 445.5h1.4v1.4h-1.4zM379.8 448.8h1.4v1.4h-1.4zM379.9 438.6h1.4v1.4h-1.4zM381.1 444.2h1.4v1.4h-1.4zM379.7 435.9h1.4v1.4h-1.4zM379.5 441.1h1.4v1.4h-1.4zM383.3 439.8h1.4v1.4h-1.4zM382.5 442.8h1.4v1.4h-1.4zM380.2 438.4h1.4v1.4h-1.4zM384.9 441.5h1.4v1.4h-1.4zM379.6 443.1h1.4v1.4h-1.4zM381.9 430.8h1.4v1.4h-1.4zM379.5 428.7h1.4v1.4h-1.4zM383.7 424.6h1.4v1.4h-1.4zM383.7 420.5h1.4v1.4h-1.4z" fill="#f7981d" fill-opacity="0.95"/>
<path d="M382.23 439.88V437.41M380.13 437.41H384.33" stroke="#222" stroke-width="0.75" fill="none"/>
<rect x="390.65" y="436.59" width="7.6" height="15.41" fill="#9aa3ae"/>
<path d="M391.1 439.1h1.4v1.4h-1.4zM392.8 432.6h1.4v1.4h-1.4zM393.7 431.3h1.4v1.4h-1.4zM396.6 438.9h1.4v1.4h-1.4zM392.7 438.2h1.4v1.4h-1.4zM391.8 436.3h1.4v1.4h-1.4zM396.9 429.8h1.4v1.4h-1.4zM396.4 440.9h1.4v1.4h-1.4zM395.3 433.7h1.4v1.4h-1.4zM392.2 434.9h1.4v1.4h-1.4zM391.6 436.7h1.4v1.4h-1.4zM392.1 435.2h1.4v1.4h-1.4zM390.8 430.0h1.4v1.4h-1.4zM390.6 440.1h1.4v1.4h-1.4zM393.8 430.0h1.4v1.4h-1.4zM393.1 437.8h1.4v1.4h-1.4zM394.1 432.1h1.4v1.4h-1.4zM392.8 430.4h1.4v1.4h-1.4zM390.4 440.5h1.4v1.4h-1.4zM395.0 430.4h1.4v1.4h-1.4zM394.8 425.4h1.4v1.4h-1.4zM394.0 438.7h1.4v1.4h-1.4zM394.1 444.8h1.4v1.4h-1.4zM395.0 442.0h1.4v1.4h-1.4zM397.0 426.9h1.4v1.4h-1.4zM396.3 445.7h1.4v1.4h-1.4zM395.2 429.2h1.4v1.4h-1.4zM393.1 441.1h1.4v1.4h-1.4zM392.5 432.9h1.4v1.4h-1.4zM393.2 442.3h1.4v1.4h-1.4zM397.0 440.8h1.4v1.4h-1.4zM393.0 433.7h1.4v1.4h-1.4zM393.0 442.5h1.4v1.4h-1.4zM393.1 438.1h1.4v1.4h-1.4zM391.3 429.0h1.4v1.4h-1.4zM397.1 433.2h1.4v1.4h-1.4zM390.4 430.0h1.4v1.4h-1.4zM394.5 426.6h1.4v1.4h-1.4zM396.6 444.4h1.4v1.4h-1.4zM392.1 439.6h1.4v1.4h-1.4zM394.5 431.9h1.4v1.4h-1.4zM392.9 433.6h1.4v1.4h-1.4zM392.0 444.2h1.4v1.4h-1.4zM391.7 436.1h1.4v1.4h-1.4zM391.1 439.7h1.4v1.4h-1.4zM396.1 437.0h1.4v1.4h-1.4zM395.7 442.1h1.4v1.4h-1.4zM396.5 445.0h1.4v1.4h-1.4zM390.7 425.8h1.4v1.4h-1.4zM395.1 438.4h1.4v1.4h-1.4zM392.6 430.1h1.4v1.4h-1.4zM394.7 441.8h1.4v1.4h-1.4zM394.1 436.3h1.4v1.4h-1.4zM392.5 441.5h1.4v1.4h-1.4zM397.0 437.0h1.4v1.4h-1.4zM390.4 440.6h1.4v1.4h-1.4zM395.4 433.7h1.4v1.4h-1.4zM396.2 441.2h1.4v1.4h-1.4zM393.8 432.8h1.4v1.4h-1.4zM394.4 436.2h1.4v1.4h-1.4z" fill="#4f5f72" fill-opacity="0.95"/>
<path d="M394.45 437.41V435.77M392.35 435.77H396.55" stroke="#222" stroke-width="0.75" fill="none"/>
<rect x="402.87" y="442.75" width="7.6" height="9.25" fill="#93d0f0"/>
<path d="M408.2 436.6h1.4v1.4h-1.4zM405.7 445.2h1.4v1.4h-1.4zM406.9 441.8h1.4v1.4h-1.4zM408.2 440.8h1.4v1.4h-1.4zM408.6 443.8h1.4v1.4h-1.4zM408.5 441.1h1.4v1.4h-1.4zM402.9 443.6h1.4v1.4h-1.4zM405.2 442.6h1.4v1.4h-1.4zM408.2 442.0h1.4v1.4h-1.4zM408.1 441.4h1.4v1.4h-1.4zM403.4 444.3h1.4v1.4h-1.4zM403.6 441.8h1.4v1.4h-1.4zM404.3 442.5h1.4v1.4h-1.4zM403.3 445.3h1.4v1.4h-1.4zM405.0 442.0h1.4v1.4h-1.4zM408.0 444.8h1.4v1.4h-1.4zM406.1 438.8h1.4v1.4h-1.4zM405.6 443.0h1.4v1.4h-1.4zM403.2 441.0h1.4v1.4h-1.4zM405.3 442.6h1.4v1.4h-1.4zM409.3 443.0h1.4v1.4h-1.4zM407.3 445.3h1.4v1.4h-1.4zM405.6 446.3h1.4v1.4h-1.4zM405.8 438.5h1.4v1.4h-1.4zM408.0 442.6h1.4v1.4h-1.4zM407.7 442.6h1.4v1.4h-1.4zM403.6 442.6h1.4v1.4h-1.4zM407.2 440.1h1.4v1.4h-1.4zM405.1 445.1h1.4v1.4h-1.4zM406.1 445.9h1.4v1.4h-1.4zM404.4 431.8h1.4v1.4h-1.4zM405.2 425.6h1.4v1.4h-1.4z" fill="#2aa2e0" fill-opacity="0.95"/>
<path d="M406.67 443.78V441.73M404.57 441.73H408.77" stroke="#222" stroke-width="0.75" fill="none"/>
<rect x="415.09" y="437.62" width="7.6" height="14.38" fill="#fbc47a"/>
<path d="M417.6 440.6h1.4v1.4h-1.4zM418.0 440.1h1.4v1.4h-1.4zM420.8 448.1h1.4v1.4h-1.4zM417.8 442.9h1.4v1.4h-1.4zM418.1 437.8h1.4v1.4h-1.4zM418.3 446.3h1.4v1.4h-1.4zM420.4 443.3h1.4v1.4h-1.4zM419.3 436.1h1.4v1.4h-1.4zM419.8 441.6h1.4v1.4h-1.4zM417.5 440.9h1.4v1.4h-1.4zM415.1 442.2h1.4v1.4h-1.4zM419.4 434.4h1.4v1.4h-1.4zM418.6 445.3h1.4v1.4h-1.4zM420.0 437.1h1.4v1.4h-1.4zM420.0 433.9h1.4v1.4h-1.4zM415.6 442.9h1.4v1.4h-1.4zM416.3 439.5h1.4v1.4h-1.4zM415.3 435.0h1.4v1.4h-1.4zM420.3 437.3h1.4v1.4h-1.4zM415.5 440.2h1.4v1.4h-1.4zM415.4 446.8h1.4v1.4h-1.4zM419.9 439.3h1.4v1.4h-1.4zM418.6 440.3h1.4v1.4h-1.4zM415.2 436.1h1.4v1.4h-1.4zM419.4 441.3h1.4v1.4h-1.4zM419.6 439.7h1.4v1.4h-1.4zM418.1 436.9h1.4v1.4h-1.4zM415.2 434.7h1.4v1.4h-1.4zM419.5 440.5h1.4v1.4h-1.4zM417.6 440.0h1.4v1.4h-1.4zM418.8 437.7h1.4v1.4h-1.4zM421.6 432.5h1.4v1.4h-1.4zM420.3 443.0h1.4v1.4h-1.4zM420.7 431.0h1.4v1.4h-1.4zM415.8 436.1h1.4v1.4h-1.4zM417.1 440.2h1.4v1.4h-1.4zM418.3 436.7h1.4v1.4h-1.4zM414.8 440.8h1.4v1.4h-1.4zM421.5 445.9h1.4v1.4h-1.4zM416.7 435.6h1.4v1.4h-1.4zM416.6 440.1h1.4v1.4h-1.4zM416.9 438.3h1.4v1.4h-1.4zM416.5 438.6h1.4v1.4h-1.4zM420.6 433.1h1.4v1.4h-1.4zM418.6 435.5h1.4v1.4h-1.4zM418.3 447.6h1.4v1.4h-1.4zM417.6 437.6h1.4v1.4h-1.4zM415.1 439.0h1.4v1.4h-1.4zM416.9 439.0h1.4v1.4h-1.4zM420.7 434.3h1.4v1.4h-1.4zM420.0 425.6h1.4v1.4h-1.4zM420.3 422.5h1.4v1.4h-1.4zM416.7 420.5h1.4v1.4h-1.4z" fill="#f68b1c" fill-opacity="0.95"/>
<path d="M418.89 438.44V436.79M416.79 436.79H420.99" stroke="#222" stroke-width="0.75" fill="none"/>
<rect x="427.31" y="439.26" width="7.6" height="12.74" fill="#7fbfa3"/>
<path d="M431.6 443.7h1.4v1.4h-1.4zM431.6 446.9h1.4v1.4h-1.4zM429.0 439.5h1.4v1.4h-1.4zM428.4 441.3h1.4v1.4h-1.4zM432.7 440.3h1.4v1.4h-1.4zM428.0 440.0h1.4v1.4h-1.4zM433.3 439.0h1.4v1.4h-1.4zM428.4 441.4h1.4v1.4h-1.4zM427.7 436.5h1.4v1.4h-1.4zM427.7 443.7h1.4v1.4h-1.4zM432.3 434.4h1.4v1.4h-1.4zM433.5 439.3h1.4v1.4h-1.4zM429.8 446.9h1.4v1.4h-1.4zM431.5 442.0h1.4v1.4h-1.4zM428.8 439.5h1.4v1.4h-1.4zM433.2 440.9h1.4v1.4h-1.4zM431.7 439.2h1.4v1.4h-1.4zM428.1 441.9h1.4v1.4h-1.4zM427.4 442.6h1.4v1.4h-1.4zM431.7 436.5h1.4v1.4h-1.4zM427.3 442.3h1.4v1.4h-1.4zM432.7 437.7h1.4v1.4h-1.4zM429.0 436.5h1.4v1.4h-1.4zM428.6 439.0h1.4v1.4h-1.4zM431.0 440.4h1.4v1.4h-1.4zM429.2 434.0h1.4v1.4h-1.4zM430.8 440.5h1.4v1.4h-1.4zM428.1 435.2h1.4v1.4h-1.4zM433.2 446.7h1.4v1.4h-1.4zM429.2 440.6h1.4v1.4h-1.4zM432.7 438.5h1.4v1.4h-1.4zM428.0 447.0h1.4v1.4h-1.4zM432.4 435.5h1.4v1.4h-1.4zM433.7 446.3h1.4v1.4h-1.4zM429.7 438.9h1.4v1.4h-1.4zM427.2 444.0h1.4v1.4h-1.4zM429.6 434.3h1.4v1.4h-1.4zM431.4 439.3h1.4v1.4h-1.4zM428.5 436.5h1.4v1.4h-1.4zM430.7 439.9h1.4v1.4h-1.4zM428.0 428.7h1.4v1.4h-1.4zM430.2 426.6h1.4v1.4h-1.4z" fill="#178a5a" fill-opacity="0.95"/>
<path d="M431.11 440.29V438.23M429.01 438.23H433.21" stroke="#222" stroke-width="0.75" fill="none"/>
<rect x="439.53" y="438.64" width="7.6" height="13.36" fill="#b9b2e2"/>
<path d="M443.3 437.0h1.4v1.4h-1.4zM442.9 440.1h1.4v1.4h-1.4zM439.8 437.6h1.4v1.4h-1.4zM440.2 444.5h1.4v1.4h-1.4zM441.1 435.7h1.4v1.4h-1.4zM445.3 444.3h1.4v1.4h-1.4zM445.0 434.1h1.4v1.4h-1.4zM440.8 431.5h1.4v1.4h-1.4zM445.5 433.7h1.4v1.4h-1.4zM439.5 439.1h1.4v1.4h-1.4zM443.3 441.7h1.4v1.4h-1.4zM445.8 441.0h1.4v1.4h-1.4zM441.6 436.8h1.4v1.4h-1.4zM445.7 439.4h1.4v1.4h-1.4zM443.7 433.9h1.4v1.4h-1.4zM439.6 445.0h1.4v1.4h-1.4zM441.5 439.5h1.4v1.4h-1.4zM442.3 435.2h1.4v1.4h-1.4zM441.1 427.7h1.4v1.4h-1.4zM444.1 424.6h1.4v1.4h-1.4z" fill="#7a6ec4" fill-opacity="0.95"/>
<path d="M443.33 440.08V437.20M441.23 437.20H445.43" stroke="#222" stroke-width="0.75" fill="none"/>
<rect x="451.75" y="435.97" width="7.6" height="16.03" fill="#cbc4ea"/>
<path d="M452.1 442.8h1.4v1.4h-1.4zM455.8 435.8h1.4v1.4h-1.4zM452.3 441.0h1.4v1.4h-1.4zM455.4 445.2h1.4v1.4h-1.4zM453.8 437.9h1.4v1.4h-1.4zM454.0 444.6h1.4v1.4h-1.4zM456.0 438.0h1.4v1.4h-1.4zM452.6 435.8h1.4v1.4h-1.4zM452.6 437.5h1.4v1.4h-1.4zM457.9 438.9h1.4v1.4h-1.4zM453.7 446.5h1.4v1.4h-1.4zM457.2 438.4h1.4v1.4h-1.4zM457.1 426.6h1.4v1.4h-1.4z" fill="#9a8ed4" fill-opacity="0.95"/>
<path d="M455.55 437.20V434.74M453.45 434.74H457.65" stroke="#222" stroke-width="0.75" fill="none"/>
<rect x="463.97" y="438.64" width="7.6" height="13.36" fill="#e58496"/>
<path d="M464.5 439.8h1.4v1.4h-1.4zM465.3 443.5h1.4v1.4h-1.4zM469.6 444.5h1.4v1.4h-1.4zM467.1 436.1h1.4v1.4h-1.4zM469.7 444.1h1.4v1.4h-1.4zM463.8 439.6h1.4v1.4h-1.4zM470.1 439.3h1.4v1.4h-1.4zM467.0 444.0h1.4v1.4h-1.4zM469.0 439.9h1.4v1.4h-1.4zM467.5 443.3h1.4v1.4h-1.4zM468.4 439.3h1.4v1.4h-1.4zM465.2 439.6h1.4v1.4h-1.4zM468.8 440.8h1.4v1.4h-1.4zM464.7 442.8h1.4v1.4h-1.4zM465.5 440.5h1.4v1.4h-1.4zM463.9 442.7h1.4v1.4h-1.4zM466.4 431.8h1.4v1.4h-1.4zM467.2 430.8h1.4v1.4h-1.4zM465.8 429.7h1.4v1.4h-1.4zM469.4 431.2h1.4v1.4h-1.4zM464.6 430.1h1.4v1.4h-1.4z" fill="#cf2f4c" fill-opacity="0.95"/>
<path d="M467.77 439.67V437.62M465.67 437.62H469.87" stroke="#222" stroke-width="0.75" fill="none"/>
<rect x="476.19" y="440.29" width="7.6" height="11.71" fill="#8fb3d6"/>
<path d="M477.6 439.6h1.4v1.4h-1.4zM480.9 443.5h1.4v1.4h-1.4zM480.5 439.4h1.4v1.4h-1.4zM476.9 437.1h1.4v1.4h-1.4zM478.2 438.0h1.4v1.4h-1.4zM476.8 446.8h1.4v1.4h-1.4zM477.2 443.3h1.4v1.4h-1.4zM477.4 439.3h1.4v1.4h-1.4zM478.1 432.5h1.4v1.4h-1.4zM482.5 447.4h1.4v1.4h-1.4zM482.7 439.1h1.4v1.4h-1.4zM481.3 438.3h1.4v1.4h-1.4zM479.2 436.6h1.4v1.4h-1.4zM479.3 442.1h1.4v1.4h-1.4zM481.2 436.7h1.4v1.4h-1.4zM482.1 440.7h1.4v1.4h-1.4zM481.0 434.6h1.4v1.4h-1.4zM480.2 448.8h1.4v1.4h-1.4zM477.2 434.1h1.4v1.4h-1.4zM480.1 441.3h1.4v1.4h-1.4zM481.6 441.3h1.4v1.4h-1.4zM481.2 446.1h1.4v1.4h-1.4zM476.8 427.7h1.4v1.4h-1.4zM480.6 424.6h1.4v1.4h-1.4zM478.4 421.5h1.4v1.4h-1.4zM477.3 420.5h1.4v1.4h-1.4z" fill="#326fae" fill-opacity="0.95"/>
<path d="M479.99 441.93V438.64M477.89 438.64H482.09" stroke="#222" stroke-width="0.75" fill="none"/>
<rect x="488.41" y="435.97" width="7.6" height="16.03" fill="#b3e8ba"/>
<path d="M494.3 432.5h1.4v1.4h-1.4zM493.2 436.1h1.4v1.4h-1.4zM493.8 435.5h1.4v1.4h-1.4zM493.6 442.2h1.4v1.4h-1.4zM492.1 434.6h1.4v1.4h-1.4zM491.1 433.1h1.4v1.4h-1.4zM493.5 426.6h1.4v1.4h-1.4zM493.2 424.6h1.4v1.4h-1.4zM493.7 426.2h1.4v1.4h-1.4zM490.3 424.4h1.4v1.4h-1.4z" fill="#5fcb70" fill-opacity="0.95"/>
<path d="M492.21 438.44V433.50M490.11 433.50H494.31" stroke="#222" stroke-width="0.75" fill="none"/>
<rect x="500.63" y="422.20" width="7.6" height="29.80" fill="#bb95c8"/>
<path d="M503.1 421.9h1.4v1.4h-1.4zM500.9 427.0h1.4v1.4h-1.4zM504.8 422.1h1.4v1.4h-1.4zM506.0 434.5h1.4v1.4h-1.4zM502.6 421.8h1.4v1.4h-1.4zM504.4 423.9h1.4v1.4h-1.4zM506.0 431.4h1.4v1.4h-1.4zM505.7 423.4h1.4v1.4h-1.4zM500.4 431.8h1.4v1.4h-1.4zM503.7 432.5h1.4v1.4h-1.4zM500.4 428.0h1.4v1.4h-1.4zM501.1 431.7h1.4v1.4h-1.4zM505.9 427.5h1.4v1.4h-1.4zM503.2 422.7h1.4v1.4h-1.4zM504.4 425.1h1.4v1.4h-1.4zM503.4 424.8h1.4v1.4h-1.4zM502.6 429.0h1.4v1.4h-1.4zM501.8 424.0h1.4v1.4h-1.4zM502.7 423.9h1.4v1.4h-1.4zM506.1 425.1h1.4v1.4h-1.4zM504.5 422.2h1.4v1.4h-1.4zM502.3 423.5h1.4v1.4h-1.4zM501.3 402.4h1.4v1.4h-1.4zM502.4 398.1h1.4v1.4h-1.4z" fill="#84449c" fill-opacity="0.95"/>
<path d="M504.43 424.67V419.74M502.33 419.74H506.53" stroke="#222" stroke-width="0.75" fill="none"/>
<text x="345.57" y="424.70" font-size="7.9" text-anchor="middle" fill="#000">**</text>
<text x="357.79" y="380.80" font-size="7.9" text-anchor="middle" fill="#000">**</text>
<text x="370.01" y="413.30" font-size="7.9" text-anchor="middle" fill="#000">*</text>
<path d="M57.4 374.9V450.7H245.3" fill="none" stroke="#111" stroke-width="1.2"/>
<path d="M54.2 450.20H57.4" stroke="#111" stroke-width="1.1"/>
<text x="51.2" y="453.10" font-size="8.2" text-anchor="end" textLength="4.4" lengthAdjust="spacingAndGlyphs">0</text>
<path d="M54.2 441.18H57.4" stroke="#111" stroke-width="1.1"/>
<text x="51.2" y="444.07" font-size="8.2" text-anchor="end" textLength="8.9" lengthAdjust="spacingAndGlyphs">25</text>
<path d="M54.2 432.15H57.4" stroke="#111" stroke-width="1.1"/>
<text x="51.2" y="435.05" font-size="8.2" text-anchor="end" textLength="8.9" lengthAdjust="spacingAndGlyphs">50</text>
<path d="M54.2 423.12H57.4" stroke="#111" stroke-width="1.1"/>
<text x="51.2" y="426.02" font-size="8.2" text-anchor="end" textLength="8.9" lengthAdjust="spacingAndGlyphs">75</text>
<path d="M54.2 414.10H57.4" stroke="#111" stroke-width="1.1"/>
<text x="51.2" y="417.00" font-size="8.2" text-anchor="end" textLength="13.3" lengthAdjust="spacingAndGlyphs">100</text>
<path d="M54.2 405.07H57.4" stroke="#111" stroke-width="1.1"/>
<text x="51.2" y="407.97" font-size="8.2" text-anchor="end" textLength="13.3" lengthAdjust="spacingAndGlyphs">125</text>
<path d="M54.2 396.05H57.4" stroke="#111" stroke-width="1.1"/>
<text x="51.2" y="398.95" font-size="8.2" text-anchor="end" textLength="13.3" lengthAdjust="spacingAndGlyphs">150</text>
<path d="M54.2 387.02H57.4" stroke="#111" stroke-width="1.1"/>
<text x="51.2" y="389.92" font-size="8.2" text-anchor="end" textLength="13.3" lengthAdjust="spacingAndGlyphs">175</text>
<path d="M54.2 378.00H57.4" stroke="#111" stroke-width="1.1"/>
<text x="51.2" y="380.90" font-size="8.2" text-anchor="end" textLength="13.3" lengthAdjust="spacingAndGlyphs">200</text>
<path d="M65.65 450.7V453.4" stroke="#111" stroke-width="0.9"/>
<text transform="translate(64.95 459.59999999999997) rotate(-45)" font-size="9.2" stroke="#111" stroke-width="0.1" text-anchor="end" textLength="25.9" lengthAdjust="spacingAndGlyphs">Control</text>
<path d="M77.84 450.7V453.4" stroke="#111" stroke-width="0.9"/>
<text transform="translate(77.14 459.59999999999997) rotate(-45)" font-size="9.2" stroke="#111" stroke-width="0.1" text-anchor="end" textLength="39.2" lengthAdjust="spacingAndGlyphs">VWF siRNA</text>
<path d="M90.03 450.7V453.4" stroke="#111" stroke-width="0.9"/>
<text transform="translate(89.33 459.59999999999997) rotate(-45)" font-size="9.2" stroke="#111" stroke-width="0.1" text-anchor="end" textLength="27.1" lengthAdjust="spacingAndGlyphs">COL4A1</text>
<path d="M102.22 450.7V453.4" stroke="#111" stroke-width="0.9"/>
<text transform="translate(101.52 459.59999999999997) rotate(-45)" font-size="9.2" stroke="#111" stroke-width="0.1" text-anchor="end" textLength="28.5" lengthAdjust="spacingAndGlyphs">SCARA3</text>
<path d="M114.41 450.7V453.4" stroke="#111" stroke-width="0.9"/>
<text transform="translate(113.71 459.59999999999997) rotate(-45)" font-size="9.2" stroke="#111" stroke-width="0.1" text-anchor="end" textLength="29.5" lengthAdjust="spacingAndGlyphs">ANGTP2</text>
<path d="M126.60 450.7V453.4" stroke="#111" stroke-width="0.9"/>
<text transform="translate(125.90 459.59999999999997) rotate(-45)" font-size="9.2" stroke="#111" stroke-width="0.1" text-anchor="end" textLength="25.2" lengthAdjust="spacingAndGlyphs">FOXO3</text>
<path d="M138.79 450.7V453.4" stroke="#111" stroke-width="0.9"/>
<text transform="translate(138.09 459.59999999999997) rotate(-45)" font-size="9.2" stroke="#111" stroke-width="0.1" text-anchor="end" textLength="13.6" lengthAdjust="spacingAndGlyphs">FLI1</text>
<path d="M150.98 450.7V453.4" stroke="#111" stroke-width="0.9"/>
<text transform="translate(150.28 459.59999999999997) rotate(-45)" font-size="9.2" stroke="#111" stroke-width="0.1" text-anchor="end" textLength="18.2" lengthAdjust="spacingAndGlyphs">TCF4</text>
<path d="M163.17 450.7V453.4" stroke="#111" stroke-width="0.9"/>
<text transform="translate(162.47 459.59999999999997) rotate(-45)" font-size="9.2" stroke="#111" stroke-width="0.1" text-anchor="end" textLength="21.5" lengthAdjust="spacingAndGlyphs">TSTD1</text>
<path d="M175.36 450.7V453.4" stroke="#111" stroke-width="0.9"/>
<text transform="translate(174.66 459.59999999999997) rotate(-45)" font-size="9.2" stroke="#111" stroke-width="0.1" text-anchor="end" textLength="30.5" lengthAdjust="spacingAndGlyphs">ADGRA2</text>
<path d="M187.55 450.7V453.4" stroke="#111" stroke-width="0.9"/>
<text transform="translate(186.85 459.59999999999997) rotate(-45)" font-size="9.2" stroke="#111" stroke-width="0.1" text-anchor="end" textLength="11.8" lengthAdjust="spacingAndGlyphs">SP1</text>
<path d="M199.74 450.7V453.4" stroke="#111" stroke-width="0.9"/>
<text transform="translate(199.04 459.59999999999997) rotate(-45)" font-size="9.2" stroke="#111" stroke-width="0.1" text-anchor="end" textLength="29" lengthAdjust="spacingAndGlyphs">POU2F2</text>
<path d="M211.93 450.7V453.4" stroke="#111" stroke-width="0.9"/>
<text transform="translate(211.23 459.59999999999997) rotate(-45)" font-size="9.2" stroke="#111" stroke-width="0.1" text-anchor="end" textLength="30.5" lengthAdjust="spacingAndGlyphs">ADGRG6</text>
<path d="M224.12 450.7V453.4" stroke="#111" stroke-width="0.9"/>
<text transform="translate(223.42 459.59999999999997) rotate(-45)" font-size="9.2" stroke="#111" stroke-width="0.1" text-anchor="end" textLength="26.4" lengthAdjust="spacingAndGlyphs">VAMP3</text>
<path d="M236.31 450.7V453.4" stroke="#111" stroke-width="0.9"/>
<text transform="translate(235.61 459.59999999999997) rotate(-45)" font-size="9.2" stroke="#111" stroke-width="0.1" text-anchor="end" textLength="32.4" lengthAdjust="spacingAndGlyphs">C10orf10</text>
<path d="M325.9 377.5V391.3M325.9 398.1V404.6M325.9 410.9V452.5H513.3" fill="none" stroke="#111" stroke-width="1.2"/>
<path d="M322.6 380.50H325.9" stroke="#111" stroke-width="1.1"/>
<text x="319.5" y="383.40" font-size="8.2" text-anchor="end" textLength="13.3" lengthAdjust="spacingAndGlyphs">800</text>
<path d="M322.6 391.30H325.9" stroke="#111" stroke-width="1.1"/>
<text x="319.5" y="394.20" font-size="8.2" text-anchor="end" textLength="13.3" lengthAdjust="spacingAndGlyphs">700</text>
<path d="M322.6 398.10H325.9" stroke="#111" stroke-width="1.1"/>
<text x="319.5" y="401.00" font-size="8.2" text-anchor="end" textLength="13.3" lengthAdjust="spacingAndGlyphs">450</text>
<path d="M322.6 404.60H325.9" stroke="#111" stroke-width="1.1"/>
<text x="319.5" y="407.50" font-size="8.2" text-anchor="end" textLength="13.3" lengthAdjust="spacingAndGlyphs">300</text>
<path d="M322.6 410.90H325.9" stroke="#111" stroke-width="1.1"/>
<text x="319.5" y="413.80" font-size="8.2" text-anchor="end" textLength="13.3" lengthAdjust="spacingAndGlyphs">200</text>
<path d="M322.6 421.40H325.9" stroke="#111" stroke-width="1.1"/>
<text x="319.5" y="424.30" font-size="8.2" text-anchor="end" textLength="13.3" lengthAdjust="spacingAndGlyphs">150</text>
<path d="M322.6 431.50H325.9" stroke="#111" stroke-width="1.1"/>
<text x="319.5" y="434.40" font-size="8.2" text-anchor="end" textLength="13.3" lengthAdjust="spacingAndGlyphs">100</text>
<path d="M322.6 441.70H325.9" stroke="#111" stroke-width="1.1"/>
<text x="319.5" y="444.60" font-size="8.2" text-anchor="end" textLength="8.9" lengthAdjust="spacingAndGlyphs">50</text>
<path d="M322.6 452.00H325.9" stroke="#111" stroke-width="1.1"/>
<text x="319.5" y="454.90" font-size="8.2" text-anchor="end" textLength="4.4" lengthAdjust="spacingAndGlyphs">0</text>
<path d="M322.4 398.1H329.4M322.4 404.6H329.4M322.4 410.9H329.4M322.4 391.3H329.4" stroke="#111" stroke-width="1.1"/>
<path d="M333.35 452.5V455.2" stroke="#111" stroke-width="0.9"/>
<text transform="translate(332.65 461.4) rotate(-45)" font-size="9.2" stroke="#111" stroke-width="0.1" text-anchor="end" textLength="25.9" lengthAdjust="spacingAndGlyphs">Control</text>
<path d="M345.57 452.5V455.2" stroke="#111" stroke-width="0.9"/>
<text transform="translate(344.87 461.4) rotate(-45)" font-size="9.2" stroke="#111" stroke-width="0.1" text-anchor="end" textLength="39.2" lengthAdjust="spacingAndGlyphs">VWF siRNA</text>
<path d="M357.79 452.5V455.2" stroke="#111" stroke-width="0.9"/>
<text transform="translate(357.09 461.4) rotate(-45)" font-size="9.2" stroke="#111" stroke-width="0.1" text-anchor="end" textLength="27.1" lengthAdjust="spacingAndGlyphs">COL4A1</text>
<path d="M370.01 452.5V455.2" stroke="#111" stroke-width="0.9"/>
<text transform="translate(369.31 461.4) rotate(-45)" font-size="9.2" stroke="#111" stroke-width="0.1" text-anchor="end" textLength="28.5" lengthAdjust="spacingAndGlyphs">SCARA3</text>
<path d="M382.23 452.5V455.2" stroke="#111" stroke-width="0.9"/>
<text transform="translate(381.53 461.4) rotate(-45)" font-size="9.2" stroke="#111" stroke-width="0.1" text-anchor="end" textLength="29.5" lengthAdjust="spacingAndGlyphs">ANGTP2</text>
<path d="M394.45 452.5V455.2" stroke="#111" stroke-width="0.9"/>
<text transform="translate(393.75 461.4) rotate(-45)" font-size="9.2" stroke="#111" stroke-width="0.1" text-anchor="end" textLength="25.2" lengthAdjust="spacingAndGlyphs">FOXO3</text>
<path d="M406.67 452.5V455.2" stroke="#111" stroke-width="0.9"/>
<text transform="translate(405.97 461.4) rotate(-45)" font-size="9.2" stroke="#111" stroke-width="0.1" text-anchor="end" textLength="13.6" lengthAdjust="spacingAndGlyphs">FLI1</text>
<path d="M418.89 452.5V455.2" stroke="#111" stroke-width="0.9"/>
<text transform="translate(418.19 461.4) rotate(-45)" font-size="9.2" stroke="#111" stroke-width="0.1" text-anchor="end" textLength="18.2" lengthAdjust="spacingAndGlyphs">TCF4</text>
<path d="M431.11 452.5V455.2" stroke="#111" stroke-width="0.9"/>
<text transform="translate(430.41 461.4) rotate(-45)" font-size="9.2" stroke="#111" stroke-width="0.1" text-anchor="end" textLength="21.5" lengthAdjust="spacingAndGlyphs">TSTD1</text>
<path d="M443.33 452.5V455.2" stroke="#111" stroke-width="0.9"/>
<text transform="translate(442.63 461.4) rotate(-45)" font-size="9.2" stroke="#111" stroke-width="0.1" text-anchor="end" textLength="30.5" lengthAdjust="spacingAndGlyphs">ADGRA2</text>
<path d="M455.55 452.5V455.2" stroke="#111" stroke-width="0.9"/>
<text transform="translate(454.85 461.4) rotate(-45)" font-size="9.2" stroke="#111" stroke-width="0.1" text-anchor="end" textLength="11.8" lengthAdjust="spacingAndGlyphs">SP1</text>
<path d="M467.77 452.5V455.2" stroke="#111" stroke-width="0.9"/>
<text transform="translate(467.07 461.4) rotate(-45)" font-size="9.2" stroke="#111" stroke-width="0.1" text-anchor="end" textLength="29" lengthAdjust="spacingAndGlyphs">POU2F2</text>
<path d="M479.99 452.5V455.2" stroke="#111" stroke-width="0.9"/>
<text transform="translate(479.29 461.4) rotate(-45)" font-size="9.2" stroke="#111" stroke-width="0.1" text-anchor="end" textLength="30.5" lengthAdjust="spacingAndGlyphs">ADGRG6</text>
<path d="M492.21 452.5V455.2" stroke="#111" stroke-width="0.9"/>
<text transform="translate(491.51 461.4) rotate(-45)" font-size="9.2" stroke="#111" stroke-width="0.1" text-anchor="end" textLength="26.4" lengthAdjust="spacingAndGlyphs">VAMP3</text>
<path d="M504.43 452.5V455.2" stroke="#111" stroke-width="0.9"/>
<text transform="translate(503.73 461.4) rotate(-45)" font-size="9.2" stroke="#111" stroke-width="0.1" text-anchor="end" textLength="32.4" lengthAdjust="spacingAndGlyphs">C10orf10</text>
<text transform="translate(20.9 412.5) rotate(-90)" font-size="8.8" text-anchor="middle" textLength="40.4" lengthAdjust="spacingAndGlyphs">VWF protein</text>
<text transform="translate(31.2 412.4) rotate(-90)" font-size="8.8" text-anchor="middle" textLength="61.3" lengthAdjust="spacingAndGlyphs">expression (lysate)</text>
<text transform="translate(288.8 412) rotate(-90)" font-size="8.8" text-anchor="middle" textLength="79" lengthAdjust="spacingAndGlyphs">VWF protein expression</text>
<text transform="translate(300.5 412) rotate(-90)" font-size="8.8" text-anchor="middle" textLength="44" lengthAdjust="spacingAndGlyphs">(supernatant)</text>
<path d="M0.5 0V495" stroke="#000" stroke-width="1.4"/><path d="M0 0.5H520" stroke="#000" stroke-width="1.2"/>
<rect x="518" y="0" width="2" height="495" fill="#000"/><rect x="0" y="493" width="520" height="2" fill="#000"/>
</svg></body></html>
